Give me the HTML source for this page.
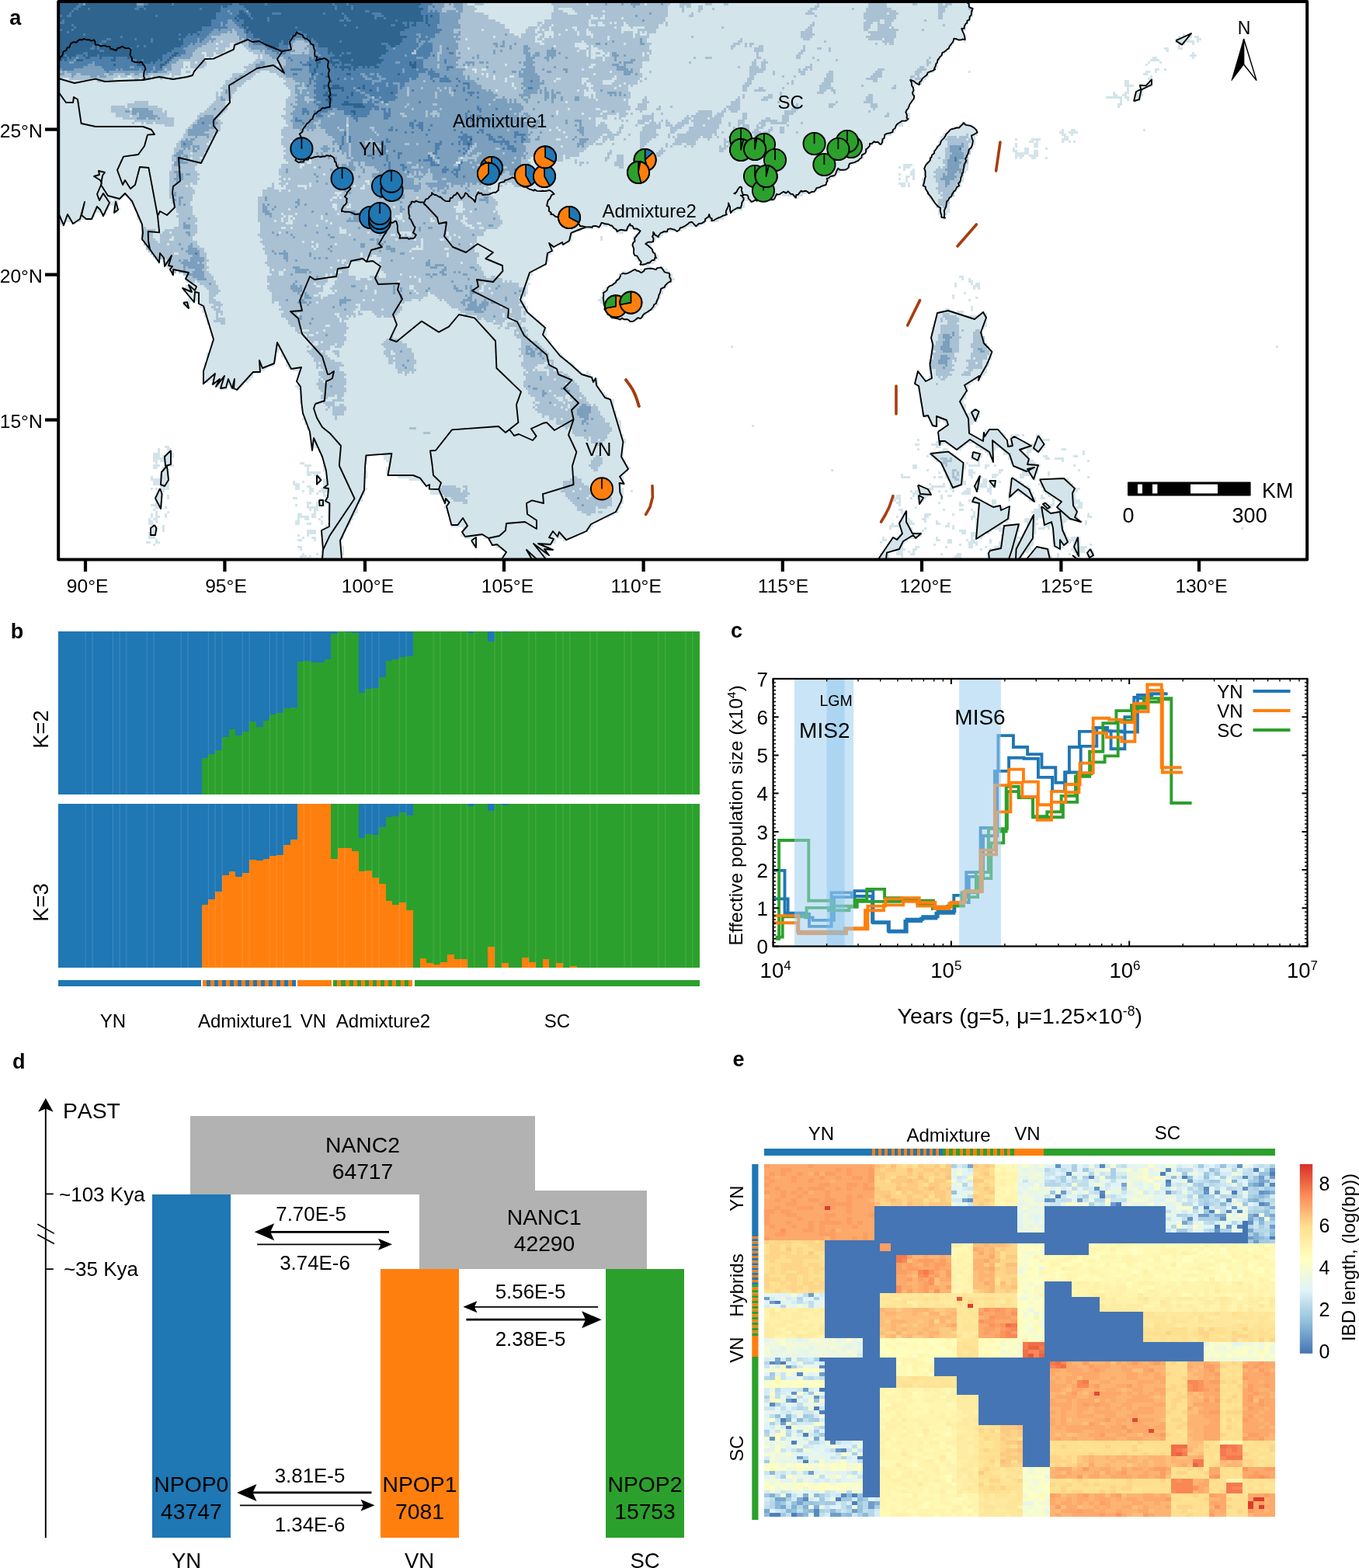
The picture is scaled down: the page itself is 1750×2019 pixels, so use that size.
<!DOCTYPE html>
<html lang="en"><head><meta charset="utf-8"><title>Figure</title>
<style>html,body{margin:0;padding:0;background:#fff}body{width:1750px;height:2019px;overflow:hidden}svg{display:block}text{font-family:'Liberation Sans', sans-serif;fill:#000}</style>
</head><body>
<svg width="1750" height="2019" viewBox="0 0 1750 2019">
<rect width="1750" height="2019" fill="#fff"/>
<clipPath id="mc"><rect x="75.2" y="2" width="1608" height="718.6"/></clipPath>
<g clip-path="url(#mc)">
<g transform="translate(77.2 5.50) scale(3)" fill="none" stroke-width="1.02" shape-rendering="crispEdges">
<path stroke="#d3e4ea" d="M0 0h391M0 1h391M0 2h392M0 3h392M0 4h392M0 5h392M0 6h391M0 7h391M0 8h390M0 9h389M0 10h389M0 11h389M0 12h388M0 13h388M482 13h1M485 13h1M0 14h389M480 14h1M482 14h4M487 14h2M0 15h389M479 15h6M488 15h2M0 16h384M388 16h1M479 16h8M488 16h1M0 17h383M480 17h3M486 17h1M0 18h383M480 18h1M0 19h382M474 19h2M480 19h2M0 20h381M475 20h1M0 21h380M486 21h1M0 22h379M485 22h3M0 23h378M469 23h2M486 23h1M0 24h378M468 24h4M0 25h377M467 25h1M472 25h1M0 26h377M466 26h1M0 27h377M0 28h376M470 28h2M474 28h1M0 29h375M390 29h1M466 29h2M470 29h1M0 30h373M465 30h2M0 31h373M468 31h1M0 32h372M467 32h2M0 33h371M457 33h2M468 33h1M0 34h370M457 34h2M467 34h2M0 35h367M457 35h4M463 35h6M0 36h366M458 36h1M464 36h2M0 37h367M458 37h1M463 37h2M0 38h367M452 38h1M457 38h2M462 38h3M0 39h367M452 39h2M456 39h2M461 39h4M0 40h367M449 40h7M457 40h2M461 40h3M0 41h366M455 41h1M458 41h1M461 41h3M0 42h366M455 42h1M0 43h365M454 43h2M0 44h365M454 44h1M0 45h364M0 46h364M0 47h365M0 48h365M0 49h365M0 50h364M0 51h362M387 51h2M0 52h362M386 52h4M0 53h359M383 53h10M0 54h359M382 54h12M430 54h1M434 54h2M465 54h1M0 55h358M381 55h13M429 55h2M433 55h4M0 56h357M379 56h15M430 56h2M434 56h1M0 57h354M378 57h15M431 57h2M0 58h354M378 58h15M410 58h1M417 58h4M430 58h3M0 59h354M377 59h16M416 59h2M419 59h1M430 59h1M433 59h1M435 59h1M0 60h349M351 60h2M377 60h16M410 60h1M418 60h2M0 61h348M376 61h16M410 61h1M418 61h2M0 62h347M376 62h16M409 62h1M414 62h2M423 62h1M0 63h347M375 63h16M409 63h2M414 63h2M418 63h2M0 64h346M375 64h16M410 64h6M418 64h2M0 65h345M374 65h16M410 65h4M416 65h4M0 66h345M373 66h17M410 66h1M412 66h1M417 66h2M423 66h1M0 67h343M373 67h17M0 68h342M372 68h18M0 69h340M362 69h4M372 69h18M0 70h339M360 70h1M362 70h3M371 70h19M0 71h338M362 71h1M366 71h1M371 71h19M0 72h335M365 72h2M371 72h18M0 73h333M360 73h1M365 73h2M371 73h17M0 74h333M363 74h2M366 74h1M371 74h17M0 75h331M360 75h1M363 75h1M366 75h1M370 75h18M0 76h330M363 76h1M370 76h18M0 77h329M360 77h3M364 77h1M370 77h17M0 78h329M361 78h2M364 78h1M371 78h16M0 79h327M371 79h15M0 80h325M372 80h13M0 81h323M372 81h12M0 82h308M310 82h9M373 82h11M0 83h27M29 83h278M315 83h2M373 83h10M0 84h22M23 84h3M30 84h277M374 84h8M0 85h25M30 85h264M296 85h2M375 85h7M0 86h25M31 86h263M376 86h6M0 87h21M23 87h2M32 87h262M376 87h6M0 88h21M23 88h3M32 88h261M377 88h5M0 89h20M23 89h2M33 89h257M377 89h5M0 90h15M18 90h2M33 90h254M377 90h4M0 91h15M18 91h1M33 91h253M378 91h2M0 92h14M33 92h252M379 92h1M0 93h9M34 93h244M279 93h4M0 94h2M5 94h2M35 94h242M1 95h1M35 95h197M233 95h2M236 95h39M35 96h194M237 96h32M35 97h189M238 97h6M247 97h20M35 98h186M239 98h3M248 98h13M35 99h185M247 99h12M35 100h185M232 100h1M246 100h12M35 101h185M232 101h1M246 101h10M36 102h183M246 102h9M36 103h181M246 103h8M37 104h176M246 104h8M37 105h175M246 105h8M38 106h174M247 106h8M39 107h172M247 107h9M40 108h170M247 108h10M41 109h169M247 109h10M42 110h1M44 110h166M248 110h8M42 111h1M45 111h164M249 111h6M45 112h164M250 112h3M46 113h161M252 113h2M258 113h1M47 114h158M249 114h1M251 114h10M48 115h2M51 115h152M241 115h2M244 115h18M48 116h1M53 116h150M240 116h23M54 117h148M240 117h23M386 117h2M54 118h148M239 118h25M387 118h1M390 118h1M54 119h147M238 119h25M390 119h2M55 120h147M237 120h24M384 120h1M391 120h1M393 120h2M54 121h147M236 121h25M384 121h1M392 121h3M53 122h148M234 122h26M392 122h1M394 122h1M53 123h148M233 123h26M54 124h147M233 124h26M388 124h1M55 125h145M233 125h25M383 125h1M55 126h144M232 126h26M383 126h1M393 126h1M55 127h144M231 127h26M390 127h1M53 128h3M57 128h1M59 128h141M232 128h25M53 129h3M60 129h140M233 129h24M54 130h2M60 130h141M234 130h22M391 130h1M61 131h140M234 131h21M380 131h2M391 131h1M61 132h140M234 132h19M378 132h6M385 132h3M396 132h1M62 133h140M235 133h17M377 133h11M395 133h3M62 134h141M236 134h15M376 134h22M63 135h141M239 135h10M376 135h22M63 136h143M244 136h3M376 136h22M63 137h144M376 137h22M64 138h144M375 138h23M64 139h145M374 139h23M65 140h144M375 140h21M65 141h144M374 141h22M65 142h144M374 142h22M66 143h143M374 143h23M66 144h144M374 144h23M65 145h146M374 145h23M65 146h146M374 146h24M65 147h147M288 147h1M374 147h25M522 147h1M65 148h148M374 148h25M64 149h30M95 149h119M374 149h26M63 150h30M95 150h120M374 150h26M63 151h30M95 151h121M374 151h26M63 152h30M96 152h121M374 152h26M63 153h30M97 153h121M373 153h26M62 154h30M97 154h123M373 154h26M62 155h30M97 155h124M373 155h26M62 156h27M98 156h123M373 156h25M62 157h26M100 157h123M373 157h25M62 158h24M102 158h122M226 158h1M368 158h1M373 158h25M62 159h21M102 159h126M368 159h2M374 159h23M62 160h21M102 160h127M368 160h3M373 160h23M62 161h20M102 161h129M367 161h5M373 161h22M62 162h2M66 162h15M102 162h129M367 162h25M61 163h1M65 163h14M102 163h129M367 163h24M67 164h5M73 164h5M101 164h130M368 164h22M69 165h3M74 165h3M102 165h130M369 165h21M103 166h130M369 166h21M103 167h131M369 167h20M103 168h132M369 168h20M103 169h133M369 169h20M103 170h135M369 170h19M103 171h135M369 171h19M104 172h134M370 172h19M104 173h134M370 173h19M104 174h134M370 174h19M392 174h2M104 175h135M370 175h19M391 175h4M104 176h135M370 176h25M105 177h134M371 177h24M104 178h136M373 178h21M105 179h136M374 179h4M379 179h15M105 180h136M374 180h3M380 180h12M106 181h135M297 181h1M375 181h2M380 181h11M106 182h135M379 182h12M107 183h134M377 183h14M397 183h7M107 184h134M377 184h14M396 184h9M107 185h135M377 185h15M396 185h10M408 185h1M410 185h2M413 185h1M419 185h2M108 186h134M377 186h17M396 186h10M408 186h3M419 186h2M108 187h135M368 187h1M377 187h30M408 187h5M419 187h6M108 188h135M376 188h31M408 188h7M418 188h4M108 189h134M367 189h2M374 189h5M381 189h8M393 189h23M417 189h6M45 190h2M108 190h134M376 190h2M383 190h5M393 190h30M42 191h1M46 191h2M108 191h1M111 191h131M368 191h1M379 191h2M384 191h3M395 191h7M404 191h10M415 191h7M430 191h2M42 192h1M47 192h1M111 192h131M377 192h5M397 192h4M405 192h8M415 192h2M419 192h2M439 192h1M40 193h3M46 193h3M112 193h130M373 193h11M392 193h4M398 193h3M405 193h9M415 193h1M439 193h1M40 194h3M44 194h5M112 194h21M139 194h103M372 194h1M374 194h11M391 194h5M399 194h2M407 194h9M422 194h2M435 194h2M40 195h8M113 195h19M139 195h103M375 195h11M391 195h4M400 195h1M407 195h9M423 195h2M427 195h4M40 196h2M43 196h5M113 196h19M140 196h103M376 196h11M394 196h1M400 196h1M408 196h10M430 196h1M441 196h1M41 197h1M45 197h3M103 197h2M113 197h19M141 197h102M378 197h10M389 197h1M394 197h1M408 197h11M40 198h3M45 198h4M105 198h3M113 198h18M141 198h103M366 198h2M378 198h11M390 198h5M397 198h2M401 198h1M409 198h12M435 198h1M40 199h2M44 199h2M106 199h1M113 199h18M140 199h105M366 199h2M379 199h10M397 199h1M411 199h9M44 200h3M106 200h1M113 200h18M140 200h104M331 200h1M372 200h1M379 200h9M390 200h2M403 200h2M413 200h7M437 200h1M44 201h3M106 201h6M114 201h18M140 201h103M377 201h1M380 201h8M390 201h3M403 201h1M413 201h7M424 201h1M43 202h4M106 202h2M109 202h2M114 202h18M141 202h101M361 202h1M380 202h8M390 202h2M400 202h3M412 202h7M424 202h1M39 203h1M43 203h4M110 203h2M114 203h18M145 203h97M361 203h4M375 203h1M377 203h2M380 203h8M391 203h1M394 203h2M400 203h2M412 203h2M417 203h2M441 203h1M39 204h8M110 204h2M113 204h18M150 204h92M381 204h7M394 204h1M396 204h2M408 204h3M418 204h1M420 204h13M40 205h7M100 205h1M104 205h1M110 205h2M113 205h18M155 205h87M382 205h7M393 205h2M396 205h2M399 205h3M403 205h1M408 205h5M421 205h13M40 206h7M100 206h3M110 206h1M113 206h18M156 206h85M373 206h1M379 206h1M382 206h7M393 206h5M399 206h3M408 206h6M420 206h15M43 207h4M101 207h2M106 207h2M113 207h18M157 207h84M368 207h2M374 207h6M382 207h4M392 207h6M399 207h3M408 207h8M421 207h14M39 208h1M41 208h1M43 208h4M101 208h2M107 208h2M112 208h20M158 208h84M368 208h7M382 208h2M389 208h2M393 208h2M398 208h2M408 208h9M422 208h16M42 209h3M104 209h1M107 209h2M111 209h20M159 209h83M245 209h1M365 209h1M367 209h7M377 209h1M380 209h1M383 209h1M388 209h3M393 209h1M398 209h2M408 209h9M422 209h15M42 210h2M107 210h1M110 210h1M113 210h1M115 210h16M159 210h83M366 210h8M387 210h4M399 210h1M407 210h3M412 210h6M423 210h13M41 211h3M46 211h1M113 211h17M164 211h78M359 211h2M366 211h1M368 211h5M378 211h1M381 211h2M407 211h2M414 211h4M421 211h1M424 211h12M41 212h3M46 212h1M100 212h2M114 212h16M164 212h78M358 212h3M365 212h1M368 212h4M378 212h1M392 212h2M407 212h1M416 212h3M421 212h2M426 212h10M41 213h3M111 213h19M165 213h77M357 213h2M360 213h1M369 213h2M390 213h1M392 213h4M400 213h2M407 213h1M416 213h3M426 213h1M428 213h10M41 214h3M106 214h2M110 214h19M165 214h77M359 214h2M369 214h1M377 214h1M386 214h1M393 214h5M400 214h2M422 214h2M426 214h1M429 214h10M39 215h5M101 215h1M106 215h1M110 215h4M115 215h13M165 215h76M360 215h1M386 215h2M394 215h5M400 215h1M420 215h1M422 215h5M428 215h8M437 215h2M41 216h3M45 216h1M106 216h5M115 216h13M165 216h76M367 216h1M394 216h11M407 216h1M420 216h6M428 216h11M40 217h1M107 217h1M109 217h2M115 217h13M166 217h74M360 217h2M379 217h1M386 217h2M391 217h1M394 217h14M418 217h7M428 217h9M41 218h1M46 218h1M109 218h1M115 218h13M166 218h74M361 218h1M363 218h1M392 218h1M394 218h14M417 218h8M428 218h9M39 219h1M41 219h1M45 219h1M102 219h2M108 219h2M115 219h12M167 219h71M362 219h2M371 219h3M383 219h1M392 219h1M394 219h14M418 219h19M441 219h1M39 220h1M41 220h2M45 220h1M102 220h5M108 220h2M112 220h1M115 220h11M167 220h69M359 220h1M362 220h2M371 220h2M391 220h2M394 220h14M417 220h20M441 220h2M38 221h1M40 221h2M102 221h1M105 221h2M111 221h1M115 221h11M167 221h66M361 221h4M370 221h2M391 221h1M393 221h15M414 221h6M422 221h16M38 222h2M41 222h1M101 222h2M112 222h1M116 222h9M168 222h63M360 222h6M371 222h1M376 222h1M393 222h14M414 222h5M422 222h10M437 222h2M440 222h1M38 223h2M101 223h2M106 223h2M112 223h1M115 223h10M168 223h61M357 223h1M360 223h7M376 223h2M381 223h1M393 223h12M415 223h5M422 223h9M440 223h1M40 224h1M44 224h1M114 224h10M168 224h61M356 224h9M380 224h2M383 224h1M393 224h11M405 224h7M415 224h4M422 224h3M426 224h5M39 225h3M44 225h1M113 225h10M173 225h55M356 225h1M361 225h5M371 225h1M383 225h1M393 225h19M415 225h4M420 225h3M424 225h1M426 225h5M507 225h1M39 226h3M44 226h1M106 226h4M112 226h11M173 226h54M361 226h5M370 226h1M386 226h3M393 226h7M403 226h9M414 226h5M426 226h5M38 227h3M106 227h4M112 227h10M173 227h52M361 227h6M369 227h1M387 227h2M391 227h8M405 227h6M414 227h5M426 227h6M38 228h3M102 228h1M106 228h1M112 228h10M172 228h50M360 228h10M391 228h6M404 228h7M413 228h5M426 228h6M38 229h3M104 229h1M108 229h2M113 229h9M174 229h5M182 229h30M213 229h7M353 229h1M357 229h11M376 229h1M391 229h1M393 229h3M404 229h14M426 229h7M434 229h4M41 230h1M102 230h2M109 230h1M113 230h8M177 230h2M184 230h29M216 230h2M353 230h2M357 230h7M376 230h2M381 230h2M389 230h1M391 230h2M399 230h1M404 230h7M412 230h6M426 230h12M37 231h2M41 231h2M113 231h8M177 231h2M185 231h28M352 231h1M356 231h7M381 231h2M390 231h4M399 231h1M403 231h15M426 231h8M435 231h3M40 232h1M113 232h8M177 232h2M185 232h26M355 232h7M375 232h1M386 232h1M390 232h2M393 232h1M403 232h15M427 232h5M435 232h3M442 232h1M102 233h2M113 233h9M178 233h1M187 233h23M355 233h7M367 233h2M380 233h1M390 233h2M397 233h1M401 233h16M419 233h1M427 233h4M435 233h6M103 234h1M113 234h9M190 234h22M354 234h9M366 234h2M395 234h1M399 234h18M418 234h7M429 234h1M434 234h6M442 234h1M112 235h10M191 235h18M353 235h4M359 235h3M364 235h1M366 235h1M399 235h17M417 235h8M435 235h5M441 235h3M104 236h1M110 236h1M113 236h9M191 236h19M352 236h4M359 236h3M365 236h2M378 236h1M385 236h2M398 236h16M417 236h8M428 236h1M433 236h1M436 236h2M441 236h3M103 237h3M107 237h1M112 237h9M190 237h19M352 237h4M361 237h1M384 237h3M398 237h15M416 237h10M428 237h1M435 237h3M441 237h3M103 238h1M106 238h1M112 238h7M178 238h1M191 238h17M353 238h3M383 238h4M399 238h8M410 238h3M417 238h8M436 238h2"/>
<path stroke="#a9c1d2" d="M0 0h175M178 0h4M211 0h15M227 0h24M252 0h10M266 0h5M277 0h3M285 0h2M325 0h1M347 0h8M366 0h2M377 0h2M380 0h3M0 1h178M212 1h49M266 1h2M269 1h2M274 1h2M324 1h2M347 1h8M377 1h4M0 2h179M212 2h2M220 2h41M267 2h1M274 2h2M280 2h1M322 2h3M340 2h1M346 2h11M377 2h3M390 2h2M0 3h178M212 3h4M221 3h12M234 3h27M267 3h1M274 3h1M321 3h2M346 3h13M377 3h3M391 3h1M0 4h182M211 4h7M222 4h39M271 4h1M320 4h4M345 4h10M356 4h4M377 4h2M0 5h184M211 5h17M229 5h4M234 5h27M270 5h2M324 5h1M345 5h14M377 5h2M0 6h184M211 6h17M231 6h1M234 6h7M242 6h18M345 6h14M377 6h2M0 7h187M208 7h19M228 7h32M346 7h6M354 7h4M371 7h1M0 8h189M205 8h2M208 8h19M228 8h3M233 8h3M237 8h1M239 8h3M243 8h16M260 8h1M323 8h1M345 8h4M351 8h1M354 8h3M0 9h191M205 9h1M207 9h4M212 9h15M230 9h1M234 9h8M244 9h13M260 9h1M322 9h2M345 9h3M351 9h6M379 9h1M0 10h191M201 10h4M206 10h4M211 10h9M222 10h16M239 10h2M245 10h1M251 10h6M284 10h1M321 10h2M345 10h3M351 10h5M357 10h1M0 11h181M182 11h11M200 11h4M206 11h1M208 11h2M211 11h6M218 11h3M222 11h4M227 11h14M248 11h8M320 11h3M345 11h2M351 11h9M370 11h1M0 12h193M200 12h4M205 12h3M212 12h10M223 12h3M228 12h13M242 12h4M248 12h1M250 12h1M252 12h4M318 12h5M347 12h12M0 13h195M198 13h7M207 13h1M212 13h2M215 13h7M223 13h3M229 13h17M247 13h2M252 13h1M318 13h6M348 13h11M0 14h186M187 14h10M198 14h6M206 14h2M210 14h1M212 14h16M229 14h6M236 14h10M247 14h6M271 14h1M318 14h5M346 14h13M0 15h174M175 15h29M205 15h2M208 15h27M236 15h16M292 15h1M319 15h3M347 15h6M354 15h4M0 16h69M70 16h134M207 16h17M225 16h27M291 16h2M328 16h1M353 16h5M0 17h67M68 17h5M75 17h1M78 17h128M208 17h13M226 17h16M243 17h11M289 17h3M294 17h1M296 17h2M350 17h1M354 17h1M356 17h2M0 18h73M79 18h133M213 18h8M227 18h1M229 18h24M288 18h2M294 18h1M296 18h1M300 18h2M319 18h1M0 19h67M68 19h3M80 19h95M176 19h47M226 19h2M231 19h22M288 19h1M298 19h4M319 19h1M325 19h2M330 19h1M0 20h71M81 20h141M223 20h3M227 20h1M233 20h21M298 20h4M318 20h2M330 20h1M0 21h61M63 21h3M67 21h3M83 21h143M227 21h1M230 21h2M234 21h1M236 21h14M251 21h1M253 21h1M299 21h1M317 21h2M0 22h62M63 22h3M85 22h1M87 22h139M227 22h1M233 22h1M236 22h14M251 22h2M299 22h1M316 22h2M0 23h62M64 23h1M85 23h1M87 23h141M230 23h3M234 23h19M272 23h1M277 23h3M299 23h2M316 23h2M323 23h1M373 23h1M0 24h62M84 24h149M234 24h19M298 24h1M302 24h1M325 24h1M333 24h1M372 24h1M0 25h53M56 25h2M59 25h4M83 25h167M270 25h1M297 25h2M301 25h3M372 25h2M0 26h53M56 26h7M81 26h12M94 26h97M192 26h36M230 26h20M297 26h2M301 26h2M322 26h1M372 26h1M0 27h53M54 27h1M56 27h6M79 27h95M175 27h52M229 27h21M291 27h1M296 27h4M301 27h2M320 27h3M369 27h2M0 28h52M80 28h97M179 28h2M183 28h41M225 28h24M296 28h7M317 28h1M319 28h2M322 28h1M351 28h3M368 28h4M0 29h52M54 29h2M79 29h7M90 29h88M179 29h57M237 29h12M253 29h1M296 29h6M306 29h1M317 29h3M330 29h2M350 29h3M367 29h3M0 30h47M48 30h4M74 30h10M93 30h88M182 30h1M184 30h45M230 30h20M296 30h3M306 30h1M318 30h2M329 30h3M349 30h4M367 30h2M0 31h25M26 31h3M31 31h8M40 31h5M48 31h1M74 31h9M94 31h89M184 31h2M187 31h6M195 31h43M239 31h11M296 31h2M310 31h1M315 31h1M329 31h3M348 31h5M365 31h2M368 31h1M0 32h1M4 32h19M32 32h2M35 32h4M43 32h1M47 32h1M73 32h9M96 32h90M187 32h4M192 32h21M215 32h9M227 32h10M239 32h10M251 32h1M295 32h3M328 32h4M346 32h5M365 32h1M367 32h3M16 33h2M19 33h1M71 33h9M97 33h94M192 33h20M213 33h11M226 33h7M238 33h10M249 33h1M295 33h2M314 33h1M328 33h4M349 33h2M71 34h8M96 34h98M195 34h29M225 34h1M228 34h5M237 34h5M243 34h5M294 34h3M312 34h1M314 34h1M327 34h4M368 34h2M70 35h8M97 35h97M195 35h31M229 35h11M241 35h3M245 35h1M293 35h3M326 35h5M344 35h1M358 35h1M69 36h7M98 36h97M196 36h31M228 36h10M239 36h5M293 36h2M300 36h2M310 36h1M326 36h6M357 36h2M70 37h6M99 37h88M188 37h34M223 37h2M226 37h1M229 37h15M293 37h2M298 37h5M326 37h3M331 37h2M67 38h1M69 38h6M99 38h126M230 38h15M309 38h1M325 38h3M332 38h1M67 39h1M69 39h5M99 39h126M228 39h1M230 39h15M293 39h1M304 39h2M309 39h1M347 39h2M67 40h7M98 40h129M228 40h1M230 40h15M251 40h1M291 40h1M293 40h1M302 40h4M346 40h3M67 41h6M97 41h133M231 41h11M243 41h1M250 41h2M290 41h2M301 41h3M346 41h3M32 42h6M66 42h5M97 42h120M218 42h26M250 42h3M288 42h4M308 42h1M333 42h1M345 42h4M29 43h9M65 43h6M97 43h147M248 43h4M288 43h4M316 43h1M330 43h3M348 43h3M22 44h6M29 44h13M64 44h8M97 44h148M248 44h4M257 44h1M262 44h1M286 44h6M315 44h2M330 44h2M348 44h3M22 45h8M31 45h13M63 45h9M96 45h122M219 45h11M232 45h13M247 45h5M256 45h2M285 45h1M287 45h5M314 45h3M349 45h1M22 46h22M45 46h1M62 46h9M97 46h116M214 46h19M235 46h8M249 46h1M274 46h6M284 46h2M288 46h3M311 46h5M347 46h1M24 47h22M60 47h10M97 47h116M214 47h10M225 47h7M233 47h6M240 47h4M245 47h1M254 47h1M258 47h1M273 47h7M282 47h3M293 47h2M311 47h4M355 47h1M24 48h6M31 48h15M59 48h10M95 48h140M240 48h3M250 48h5M269 48h1M271 48h9M281 48h4M293 48h2M310 48h3M354 48h2M27 49h22M59 49h9M96 49h131M228 49h2M233 49h2M238 49h1M240 49h1M250 49h5M268 49h3M272 49h6M279 49h5M293 49h2M303 49h2M310 49h3M32 50h17M58 50h11M97 50h133M241 50h1M243 50h1M248 50h5M254 50h1M258 50h1M260 50h1M267 50h3M271 50h13M291 50h3M301 50h7M310 50h3M31 51h1M35 51h1M37 51h3M41 51h8M57 51h13M97 51h133M232 51h2M248 51h3M253 51h3M257 51h1M260 51h2M265 51h5M272 51h12M287 51h1M291 51h3M300 51h3M305 51h7M318 51h1M45 52h4M56 52h13M98 52h25M124 52h106M231 52h4M241 52h1M247 52h1M251 52h7M260 52h3M264 52h4M272 52h4M277 52h6M287 52h1M291 52h1M293 52h3M299 52h1M301 52h2M312 52h1M55 53h14M96 53h117M214 53h21M240 53h2M250 53h8M262 53h5M270 53h13M289 53h1M292 53h4M299 53h3M305 53h1M309 53h2M54 54h15M95 54h115M211 54h3M215 54h21M240 54h1M250 54h6M262 54h3M270 54h12M289 54h1M291 54h5M298 54h2M304 54h2M309 54h2M54 55h14M95 55h121M217 55h20M239 55h2M249 55h7M262 55h2M269 55h13M284 55h1M289 55h1M291 55h5M297 55h4M302 55h3M309 55h2M316 55h1M53 56h13M95 56h138M235 56h5M244 56h1M249 56h8M261 56h1M265 56h15M281 56h1M288 56h7M298 56h3M389 56h1M53 57h13M96 57h121M218 57h14M233 57h5M249 57h7M261 57h1M263 57h1M265 57h10M276 57h4M282 57h1M287 57h1M290 57h4M298 57h1M381 57h4M386 57h4M52 58h13M95 58h118M215 58h16M233 58h2M236 58h2M242 58h1M249 58h5M264 58h10M278 58h1M285 58h1M288 58h5M380 58h9M390 58h1M51 59h13M95 59h4M100 59h130M233 59h1M249 59h4M264 59h9M285 59h7M381 59h10M50 60h13M95 60h6M102 60h127M230 60h3M237 60h1M249 60h3M260 60h1M263 60h4M269 60h4M285 60h1M287 60h3M381 60h9M50 61h14M96 61h119M216 61h11M249 61h2M260 61h1M262 61h1M268 61h1M271 61h1M283 61h1M285 61h2M381 61h9M49 62h15M97 62h129M249 62h1M258 62h1M283 62h3M380 62h10M49 63h14M96 63h129M236 63h1M248 63h1M257 63h3M283 63h2M380 63h11M49 64h7M57 64h5M97 64h126M235 64h2M256 64h3M380 64h11M48 65h14M96 65h120M217 65h6M235 65h1M239 65h3M256 65h2M380 65h10M48 66h8M57 66h3M96 66h76M173 66h29M205 66h11M217 66h2M234 66h2M239 66h3M377 66h1M380 66h10M48 67h13M97 67h10M108 67h93M209 67h7M221 67h1M234 67h1M239 67h3M379 67h11M49 68h11M98 68h8M108 68h62M172 68h30M221 68h1M223 68h2M226 68h1M238 68h4M379 68h11M48 69h11M95 69h8M105 69h97M223 69h1M238 69h4M247 69h3M380 69h9M48 70h10M95 70h8M104 70h5M110 70h92M240 70h2M247 70h2M377 70h1M379 70h9M48 71h10M94 71h26M121 71h80M376 71h12M47 72h12M94 72h107M375 72h13M47 73h13M94 73h19M114 73h86M376 73h12M47 74h12M95 74h105M375 74h12M47 75h13M94 75h2M97 75h1M99 75h89M189 75h12M376 75h10M47 76h12M95 76h36M133 76h54M190 76h10M376 76h10M47 77h9M57 77h2M91 77h1M94 77h3M98 77h9M108 77h24M133 77h51M191 77h1M194 77h6M377 77h8M47 78h7M55 78h1M91 78h1M95 78h1M97 78h5M106 78h1M108 78h18M127 78h3M131 78h53M189 78h1M195 78h4M377 78h8M47 79h10M89 79h3M97 79h8M106 79h23M131 79h51M183 79h2M376 79h8M47 80h11M87 80h7M95 80h3M99 80h80M180 80h4M377 80h7M47 81h11M87 81h31M121 81h64M377 81h1M379 81h5M47 82h10M87 82h32M120 82h65M378 82h6M47 83h10M85 83h32M119 83h1M121 83h32M154 83h23M179 83h7M379 83h3M48 84h9M85 84h31M117 84h70M377 84h4M48 85h8M85 85h86M173 85h15M377 85h5M49 86h7M85 86h32M119 86h5M125 86h46M173 86h15M377 86h4M49 87h8M85 87h32M119 87h4M125 87h18M144 87h25M173 87h14M379 87h2M50 88h7M85 88h13M99 88h19M119 88h51M174 88h13M50 89h7M85 89h35M121 89h49M173 89h3M177 89h9M187 89h1M51 90h6M85 90h10M96 90h5M102 90h17M120 90h26M147 90h41M50 91h8M85 91h11M97 91h1M100 91h12M113 91h27M141 91h3M147 91h23M171 91h2M174 91h15M51 92h8M85 92h10M96 92h2M99 92h1M101 92h11M113 92h30M144 92h1M147 92h12M160 92h10M171 92h2M175 92h14M51 93h8M85 93h7M93 93h2M96 93h2M100 93h14M115 93h32M148 93h11M161 93h1M163 93h9M174 93h16M51 94h7M86 94h11M100 94h16M117 94h45M163 94h10M175 94h4M181 94h9M51 95h8M86 95h24M111 95h63M177 95h12M36 96h1M49 96h10M86 96h9M97 96h2M100 96h20M121 96h55M178 96h2M182 96h6M35 97h6M45 97h14M86 97h34M123 97h60M35 98h5M44 98h3M48 98h11M86 98h8M95 98h25M123 98h9M133 98h13M151 98h15M167 98h15M35 99h5M43 99h15M85 99h39M125 99h17M144 99h3M148 99h1M151 99h15M167 99h2M170 99h12M35 100h5M43 100h5M49 100h8M86 100h81M168 100h3M172 100h7M35 101h6M43 101h4M49 101h8M87 101h57M145 101h7M153 101h2M156 101h7M165 101h2M168 101h11M36 102h6M43 102h16M86 102h18M105 102h3M109 102h46M156 102h23M36 103h10M47 103h12M87 103h23M111 103h7M119 103h36M156 103h20M177 103h1M37 104h23M88 104h20M109 104h1M111 104h42M154 104h1M156 104h22M37 105h25M87 105h22M110 105h41M156 105h9M167 105h11M38 106h24M88 106h62M151 106h27M39 107h10M51 107h12M88 107h41M130 107h36M167 107h13M40 108h23M89 108h40M130 108h4M136 108h30M167 108h13M41 109h22M89 109h42M138 109h13M152 109h27M42 110h1M46 110h18M89 110h30M120 110h1M123 110h6M138 110h41M45 111h18M88 111h33M122 111h2M137 111h35M173 111h6M47 112h16M89 112h34M138 112h42M47 113h17M90 113h26M117 113h7M138 113h43M49 114h14M90 114h1M92 114h4M97 114h22M120 114h4M138 114h43M49 115h1M51 115h13M90 115h4M96 115h22M121 115h3M139 115h43M48 116h1M53 116h12M91 116h3M96 116h18M115 116h1M117 116h7M140 116h6M147 116h35M54 117h12M89 117h25M115 117h12M133 117h4M140 117h10M151 117h1M153 117h30M185 117h2M54 118h12M89 118h26M119 118h8M129 118h3M134 118h20M155 118h35M56 119h2M59 119h8M89 119h26M118 119h27M146 119h8M155 119h35M191 119h1M193 119h1M60 120h7M90 120h19M110 120h4M118 120h64M183 120h14M62 121h6M89 121h21M112 121h1M117 121h14M132 121h18M152 121h29M182 121h15M63 122h5M89 122h24M116 122h15M132 122h18M152 122h29M182 122h2M185 122h15M64 123h5M90 123h23M117 123h1M119 123h16M136 123h16M153 123h27M182 123h18M64 124h4M91 124h20M118 124h17M136 124h17M154 124h4M159 124h26M186 124h12M199 124h1M64 125h3M91 125h18M111 125h1M115 125h43M161 125h37M199 125h1M64 126h2M91 126h21M113 126h43M162 126h35M64 127h3M91 127h39M131 127h3M135 127h16M154 127h1M163 127h1M165 127h32M64 128h5M91 128h1M94 128h16M111 128h37M166 128h32M66 129h4M94 129h33M129 129h17M167 129h30M65 130h2M68 130h1M95 130h33M129 130h18M168 130h21M190 130h10M66 131h3M94 131h33M129 131h9M139 131h8M171 131h22M194 131h4M67 132h3M96 132h30M128 132h1M134 132h12M172 132h21M194 132h4M199 132h1M67 133h1M69 133h1M95 133h7M103 133h15M120 133h7M128 133h2M135 133h10M174 133h16M191 133h7M199 133h1M379 133h3M67 134h1M95 134h24M120 134h3M124 134h1M126 134h1M136 134h2M139 134h5M179 134h11M191 134h7M379 134h6M67 135h4M97 135h23M121 135h3M179 135h2M182 135h10M195 135h5M378 135h1M380 135h6M66 136h5M98 136h22M121 136h1M183 136h3M187 136h4M195 136h2M198 136h2M378 136h1M381 136h5M69 137h2M98 137h25M186 137h4M192 137h6M381 137h4M99 138h15M116 138h7M189 138h1M192 138h6M378 138h8M101 139h23M188 139h1M191 139h2M196 139h4M378 139h8M101 140h2M107 140h6M114 140h9M195 140h3M199 140h2M378 140h8M387 140h1M393 140h2M102 141h8M111 141h12M195 141h1M197 141h3M378 141h8M392 141h4M106 142h1M109 142h13M195 142h6M377 142h9M392 142h4M106 143h17M142 143h1M196 143h5M377 143h10M392 143h5M107 144h16M140 144h5M198 144h4M377 144h9M392 144h5M108 145h1M111 145h1M113 145h9M139 145h8M198 145h7M376 145h10M392 145h5M111 146h7M119 146h3M138 146h11M198 146h8M376 146h10M391 146h7M106 147h1M109 147h7M118 147h3M139 147h10M198 147h9M375 147h11M391 147h7M108 148h8M140 148h11M197 148h11M375 148h11M392 148h6M106 149h6M113 149h1M117 149h3M139 149h3M143 149h8M198 149h11M376 149h10M392 149h7M107 150h7M118 150h2M139 150h3M144 150h8M198 150h12M374 150h10M391 150h8M108 151h7M119 151h1M140 151h12M197 151h1M199 151h11M375 151h9M391 151h7M109 152h7M141 152h2M144 152h8M199 152h11M375 152h10M391 152h1M393 152h5M109 153h9M141 153h12M199 153h13M374 153h9M384 153h1M389 153h7M110 154h1M112 154h9M141 154h2M144 154h9M198 154h10M211 154h1M373 154h10M390 154h3M394 154h2M110 155h12M144 155h8M198 155h7M209 155h3M374 155h10M390 155h6M110 156h1M112 156h8M144 156h8M199 156h5M208 156h5M374 156h9M389 156h7M113 157h7M145 157h8M200 157h3M204 157h1M210 157h2M376 157h8M390 157h2M111 158h11M145 158h2M148 158h2M151 158h1M199 158h1M201 158h8M210 158h6M376 158h6M388 158h3M111 159h12M148 159h1M199 159h10M210 159h5M216 159h2M376 159h7M387 159h4M112 160h10M200 160h19M377 160h1M379 160h2M111 161h1M113 161h10M200 161h12M213 161h7M378 161h2M111 162h2M115 162h8M199 162h20M220 162h1M110 163h13M199 163h18M218 163h4M376 163h1M111 164h11M199 164h24M111 165h12M200 165h23M112 166h11M201 166h9M211 166h12M113 167h9M201 167h23M112 168h6M119 168h3M202 168h10M213 168h4M219 168h6M112 169h3M119 169h2M204 169h9M216 169h1M219 169h1M221 169h2M224 169h2M113 170h1M117 170h5M204 170h10M216 170h2M220 170h6M113 171h5M203 171h1M206 171h10M217 171h10M114 172h4M120 172h2M204 172h8M213 172h5M219 172h9M229 172h1M115 173h1M117 173h6M203 173h1M205 173h10M216 173h2M219 173h12M114 174h1M117 174h6M204 174h13M218 174h13M117 175h5M205 175h27M117 176h5M207 176h25M118 177h1M207 177h1M210 177h23M118 178h1M210 178h2M213 178h2M216 178h18M213 179h21M213 180h23M216 181h20M150 182h3M217 182h1M219 182h18M220 183h17M156 184h3M220 184h16M221 185h14M225 186h2M228 186h7M226 187h1M228 187h3M232 187h2M228 188h5M230 189h3M230 194h2M229 195h4M378 195h3M382 195h1M228 196h5M379 196h4M228 197h5M379 197h2M227 198h5M380 198h1M228 199h3M229 200h2M383 200h2M383 201h1M385 201h1M383 202h1M385 202h1M220 203h2M383 203h2M219 204h5M384 204h2M216 205h8M216 206h9M164 207h6M173 207h2M216 207h11M163 208h9M174 208h1M216 208h7M224 208h4M163 209h9M173 209h2M215 209h5M221 209h11M164 210h12M217 210h17M165 211h10M217 211h10M228 211h8M168 212h6M218 212h8M227 212h10M169 213h6M219 213h18M173 214h2M220 214h17M221 215h16M222 216h8M231 216h4M222 217h8M224 218h6M231 218h2M226 219h2"/>
<path stroke="#7b9fbd" d="M0 0h165M167 0h1M169 0h4M234 0h1M241 0h1M245 0h4M258 0h1M0 1h165M169 1h4M246 1h1M0 2h164M170 2h3M0 3h164M166 3h4M171 3h2M0 4h172M253 4h1M0 5h172M247 5h1M0 6h172M0 7h171M250 7h1M0 8h171M0 9h172M0 10h172M0 11h74M75 11h94M0 12h72M73 12h1M76 12h93M171 12h1M0 13h69M76 13h96M191 13h1M0 14h65M77 14h92M170 14h1M0 15h67M77 15h1M79 15h93M249 15h1M0 16h64M65 16h1M81 16h20M105 16h65M190 16h1M237 16h1M249 16h1M0 17h63M81 17h19M107 17h64M186 17h2M190 17h1M195 17h1M230 17h2M234 17h1M249 17h2M0 18h61M81 18h19M106 18h57M164 18h7M187 18h1M189 18h2M193 18h1M199 18h2M0 19h59M82 19h17M105 19h1M107 19h56M164 19h7M193 19h1M199 19h3M211 19h1M0 20h58M86 20h1M88 20h13M107 20h45M153 20h10M164 20h6M186 20h1M189 20h1M199 20h2M209 20h4M0 21h57M88 21h11M104 21h1M107 21h44M153 21h9M164 21h6M171 21h1M186 21h1M199 21h3M204 21h2M209 21h4M214 21h1M237 21h2M0 22h57M90 22h72M163 22h7M179 22h1M200 22h2M203 22h3M209 22h4M237 22h3M242 22h1M0 23h56M91 23h3M96 23h66M163 23h9M177 23h1M179 23h1M200 23h4M208 23h2M211 23h1M217 23h1M238 23h1M0 24h51M97 24h65M163 24h8M200 24h3M209 24h1M238 24h1M245 24h2M0 25h50M86 25h2M97 25h73M174 25h4M180 25h2M183 25h1M197 25h1M199 25h5M240 25h1M242 25h4M0 26h48M84 26h4M97 26h65M163 26h8M173 26h1M175 26h1M177 26h1M199 26h4M237 26h3M242 26h1M0 27h48M84 27h2M96 27h66M163 27h7M183 27h1M200 27h4M212 27h1M239 27h4M0 28h45M46 28h2M96 28h78M198 28h6M207 28h1M216 28h2M239 28h5M245 28h1M1 29h1M3 29h43M95 29h78M186 29h1M194 29h2M197 29h1M199 29h5M209 29h2M217 29h1M242 29h4M0 30h2M5 30h2M9 30h10M21 30h2M28 30h2M32 30h2M36 30h2M96 30h77M197 30h8M242 30h3M247 30h1M5 31h1M13 31h3M17 31h3M77 31h2M97 31h77M175 31h1M197 31h9M75 32h2M100 32h74M175 32h1M179 32h1M199 32h7M101 33h55M157 33h21M199 33h7M207 33h1M74 34h1M103 34h1M105 34h74M198 34h10M101 35h3M105 35h76M199 35h7M101 36h1M106 36h43M150 36h5M156 36h6M163 36h2M166 36h1M168 36h13M198 36h1M200 36h6M208 36h1M71 37h1M101 37h2M104 37h45M150 37h13M164 37h3M168 37h15M184 37h1M199 37h6M206 37h1M208 37h1M211 37h1M232 37h1M71 38h1M101 38h2M104 38h2M107 38h42M150 38h11M162 38h5M169 38h17M199 38h6M206 38h1M208 38h2M211 38h1M213 38h2M235 38h4M240 38h1M102 39h47M150 39h11M162 39h6M169 39h19M197 39h5M208 39h2M211 39h2M236 39h1M238 39h1M240 39h1M242 39h1M69 40h1M101 40h4M107 40h27M135 40h26M162 40h25M190 40h1M198 40h1M201 40h1M208 40h2M211 40h2M215 40h1M221 40h2M69 41h2M102 41h3M109 41h77M187 41h5M193 41h1M195 41h1M199 41h2M208 41h1M211 41h1M215 41h1M221 41h2M101 42h5M107 42h31M139 42h53M193 42h1M195 42h1M200 42h1M205 42h1M211 42h1M99 43h1M102 43h38M141 43h8M150 43h10M162 43h22M185 43h13M100 44h48M149 44h50M31 45h7M66 45h1M101 45h50M152 45h11M164 45h29M194 45h5M203 45h1M28 46h2M31 46h9M100 46h57M158 46h2M162 46h36M237 46h1M31 47h2M34 47h6M99 47h17M118 47h28M148 47h9M158 47h1M163 47h32M196 47h1M199 47h2M34 48h8M62 48h4M100 48h15M116 48h31M149 48h8M158 48h2M161 48h1M163 48h34M198 48h1M200 48h2M211 48h1M33 49h4M38 49h3M42 49h1M60 49h7M100 49h23M124 49h75M200 49h1M59 50h8M99 50h12M112 50h11M124 50h75M204 50h2M207 50h1M217 50h1M221 50h3M59 51h9M100 51h9M112 51h11M124 51h77M204 51h2M217 51h1M223 51h1M57 52h7M65 52h2M100 52h10M111 52h12M124 52h48M173 52h18M192 52h3M196 52h5M203 52h2M221 52h1M223 52h1M57 53h10M100 53h4M105 53h5M112 53h7M120 53h3M124 53h9M135 53h66M202 53h3M223 53h2M55 54h9M103 54h2M106 54h1M108 54h1M114 54h6M122 54h1M124 54h10M135 54h57M193 54h8M222 54h3M55 55h7M114 55h9M124 55h11M136 55h65M202 55h1M206 55h1M223 55h2M55 56h9M115 56h8M124 56h12M137 56h65M224 56h1M58 57h1M63 57h1M117 57h6M124 57h77M205 57h1M221 57h1M54 58h1M56 58h2M118 58h5M124 58h9M134 58h68M204 58h2M220 58h1M223 58h4M52 59h5M117 59h6M124 59h7M135 59h67M223 59h3M52 60h5M117 60h1M119 60h5M125 60h6M133 60h1M137 60h11M150 60h3M154 60h24M179 60h20M222 60h3M387 60h1M52 61h4M57 61h3M113 61h2M120 61h4M125 61h9M138 61h39M179 61h21M222 61h1M224 61h1M382 61h6M53 62h1M55 62h1M57 62h1M59 62h1M106 62h1M112 62h4M117 62h1M120 62h4M125 62h10M136 62h2M139 62h37M178 62h9M189 62h11M382 62h5M51 63h2M57 63h2M101 63h1M113 63h2M117 63h1M119 63h1M121 63h3M125 63h15M141 63h34M177 63h23M382 63h5M50 64h3M100 64h2M110 64h1M112 64h1M121 64h1M123 64h1M125 64h33M160 64h15M176 64h3M181 64h9M191 64h8M200 64h1M383 64h5M49 65h3M53 65h2M112 65h1M123 65h1M125 65h34M161 65h13M175 65h2M180 65h20M382 65h6M50 66h3M54 66h1M115 66h1M118 66h1M123 66h2M126 66h34M161 66h10M179 66h5M187 66h8M196 66h2M199 66h1M382 66h6M50 67h3M118 67h1M125 67h36M163 67h8M172 67h1M175 67h3M179 67h7M187 67h11M381 67h5M49 68h6M124 68h2M128 68h1M131 68h18M151 68h11M163 68h7M172 68h4M177 68h5M184 68h4M189 68h5M195 68h3M381 68h6M49 69h2M119 69h1M121 69h2M124 69h2M128 69h1M131 69h22M154 69h15M171 69h8M188 69h11M381 69h5M51 70h1M111 70h1M121 70h6M129 70h1M135 70h16M154 70h1M156 70h21M178 70h4M188 70h2M192 70h8M381 70h5M97 71h1M116 71h1M124 71h3M130 71h1M136 71h22M159 71h22M183 71h1M186 71h2M190 71h9M380 71h7M49 72h3M97 72h1M124 72h1M130 72h1M137 72h2M141 72h7M149 72h3M153 72h1M155 72h3M159 72h28M190 72h1M193 72h6M381 72h4M386 72h1M50 73h3M54 73h2M109 73h1M122 73h1M134 73h5M140 73h10M151 73h1M153 73h1M156 73h1M160 73h25M186 73h1M189 73h1M193 73h5M379 73h1M381 73h3M50 74h3M110 74h1M117 74h1M128 74h1M134 74h2M137 74h12M152 74h4M160 74h28M379 74h6M49 75h2M52 75h1M138 75h14M154 75h1M160 75h4M166 75h16M378 75h6M50 76h1M110 76h1M139 76h13M162 76h19M380 76h2M114 77h1M141 77h11M154 77h1M157 77h9M168 77h6M175 77h1M177 77h2M180 77h1M380 77h2M140 78h15M158 78h9M168 78h1M172 78h1M175 78h1M380 78h1M122 79h2M138 79h1M143 79h2M146 79h9M159 79h1M162 79h3M166 79h1M174 79h1M122 80h1M143 80h1M145 80h1M152 80h2M160 80h1M162 80h1M165 80h1M175 80h1M49 81h1M124 81h1M146 81h1M164 81h2M49 82h1M143 82h2M146 82h2M51 83h2M88 83h1M137 83h1M140 83h1M143 83h1M146 83h2M182 83h2M49 84h1M51 84h1M88 84h1M102 84h1M140 84h1M145 84h1M180 84h4M51 85h1M101 85h2M146 85h1M150 85h1M183 85h1M51 86h1M53 86h1M87 86h1M89 86h1M102 86h1M105 86h1M156 86h1M87 87h2M92 87h1M101 87h1M146 87h1M150 87h1M87 88h2M91 88h1M146 88h2M178 88h1M87 89h3M108 89h1M125 89h2M146 89h1M88 90h3M114 90h1M125 90h6M132 90h1M135 90h1M90 91h1M126 91h3M130 91h4M55 92h1M124 92h1M126 92h3M130 92h6M137 92h1M186 92h1M123 93h13M137 93h1M53 94h1M133 94h7M156 94h1M53 95h3M105 95h1M137 95h3M184 95h2M53 96h3M114 96h1M128 96h1M137 96h2M154 96h1M158 96h2M154 97h1M54 98h2M91 98h1M97 98h1M110 98h1M55 99h1M93 99h1M99 99h1M115 99h1M137 99h1M177 99h1M100 100h1M116 100h2M126 101h1M133 101h2M136 101h1M136 102h1M139 102h1M51 103h1M56 103h1M129 103h2M136 103h1M138 103h1M171 103h1M55 104h2M116 104h1M129 104h2M140 104h2M38 105h1M52 105h1M55 105h4M115 105h1M140 105h4M54 106h6M91 106h1M96 106h1M116 106h1M137 106h1M142 106h2M55 107h5M92 107h1M94 107h4M107 107h1M146 107h2M57 108h3M96 108h2M107 108h1M41 109h1M56 109h6M96 109h2M109 109h1M111 109h1M114 109h1M51 110h1M53 110h2M56 110h6M97 110h1M101 110h1M142 110h1M158 110h1M52 111h7M60 111h1M157 111h2M53 112h9M157 112h2M161 112h4M53 113h1M55 113h7M100 113h3M159 113h3M165 113h1M176 113h2M53 114h1M58 114h3M101 114h6M164 114h2M178 114h1M53 115h1M57 115h5M101 115h5M107 115h1M163 115h2M169 115h1M171 115h1M55 116h7M99 116h1M157 116h2M160 116h2M164 116h2M173 116h2M57 117h5M110 117h1M159 117h1M59 118h4M175 118h1M101 119h1M168 119h1M64 120h1M100 120h1M99 121h3M103 121h1M125 121h2M143 121h1M169 121h1M174 121h1M176 121h1M188 121h1M99 122h5M143 122h1M146 122h1M158 122h1M169 122h2M174 122h1M176 122h1M187 122h1M100 123h4M129 123h1M143 123h1M146 123h1M157 123h1M170 123h3M176 123h1M197 123h1M102 124h1M105 124h1M143 124h1M150 124h1M176 124h2M195 124h1M103 125h1M105 125h2M146 125h1M174 125h1M176 125h1M105 126h3M122 126h1M146 126h1M175 126h2M191 126h1M97 127h1M103 127h2M120 127h5M173 127h4M178 127h1M182 127h1M191 127h1M102 128h4M107 128h1M120 128h3M172 128h2M176 128h3M181 128h3M185 128h2M106 129h1M120 129h1M173 129h1M175 129h4M180 129h4M117 130h1M175 130h8M122 131h1M174 131h7M182 131h1M178 132h4M103 134h1M186 134h1M102 135h2M108 135h1M107 137h1M383 141h1M114 142h1M379 142h3M383 142h1M379 143h4M380 144h2M379 145h3M379 146h3M200 147h2M378 147h4M200 148h3M204 148h1M378 148h5M394 148h2M146 149h1M200 149h1M202 149h2M206 149h1M379 149h4M395 149h2M200 150h4M205 150h2M202 151h2M206 151h1M378 151h3M207 152h1M378 152h4M149 153h1M377 153h4M377 154h4M147 155h1M380 155h1M148 156h1M379 156h1M206 160h1M206 161h1M116 164h1M201 164h1M203 165h2M215 165h1M217 165h1M207 166h1M218 166h1M207 167h2M207 168h1M210 171h1M224 172h2M223 173h5M222 174h6M222 175h6M222 176h5M223 177h4M225 178h2M228 178h1M224 179h2M224 180h1M226 180h1M225 183h1M222 212h1M224 215h1"/>
<path stroke="#4e7fab" d="M0 0h10M11 0h22M36 0h124M0 1h158M160 1h1M0 2h158M0 3h72M73 3h7M81 3h77M159 3h1M161 3h1M0 4h73M74 4h89M0 5h163M0 6h163M0 7h72M74 7h89M0 8h69M70 8h2M75 8h88M0 9h69M70 9h1M76 9h86M0 10h72M77 10h85M0 11h66M68 11h1M79 11h85M0 12h65M79 12h84M0 13h64M80 13h73M155 13h6M0 14h63M80 14h74M155 14h2M158 14h3M0 15h59M60 15h2M80 15h1M82 15h19M105 15h48M154 15h5M0 16h59M60 16h1M83 16h16M107 16h46M154 16h1M157 16h1M0 17h56M57 17h1M83 17h16M108 17h46M156 17h4M0 18h55M88 18h10M109 18h45M155 18h5M0 19h53M89 19h9M110 19h33M144 19h9M154 19h6M166 19h1M0 20h54M91 20h6M110 20h42M153 20h7M0 21h54M93 21h1M95 21h2M111 21h40M153 21h6M167 21h2M0 22h52M110 22h1M112 22h36M149 22h10M160 22h1M0 23h7M8 23h41M98 23h1M107 23h1M109 23h44M156 23h2M0 24h6M7 24h41M99 24h1M107 24h49M165 24h1M0 25h4M6 25h8M15 25h32M103 25h1M106 25h38M146 25h10M165 25h1M0 26h12M15 26h31M104 26h52M0 27h10M18 27h12M32 27h8M41 27h3M107 27h49M166 27h3M1 28h5M19 28h5M25 28h1M27 28h7M35 28h5M41 28h3M99 28h5M107 28h40M148 28h5M154 28h4M159 28h1M166 28h1M20 29h1M37 29h2M40 29h2M107 29h40M148 29h9M158 29h3M100 30h2M108 30h2M111 30h18M131 30h2M135 30h1M137 30h17M158 30h5M108 31h1M110 31h20M132 31h4M138 31h16M159 31h4M165 31h1M107 32h2M110 32h12M123 32h2M126 32h5M134 32h3M140 32h10M151 32h2M159 32h1M163 32h4M170 32h1M107 33h1M109 33h25M138 33h12M160 33h1M163 33h5M171 33h1M202 33h1M107 34h1M110 34h24M135 34h5M141 34h2M146 34h2M173 34h3M106 35h1M109 35h31M141 35h4M146 35h2M170 35h1M175 35h1M110 36h16M127 36h9M137 36h8M146 36h1M173 36h1M175 36h1M201 36h2M109 37h18M129 37h7M137 37h8M151 37h1M169 37h1M173 37h1M109 38h20M131 38h14M175 38h3M179 38h1M110 39h21M133 39h11M176 39h1M109 40h23M135 40h2M138 40h7M179 40h1M110 41h20M133 41h1M137 41h7M174 41h1M109 42h1M112 42h18M132 42h2M135 42h2M139 42h2M154 42h1M110 43h25M111 44h26M179 44h1M104 45h2M111 45h6M119 45h15M135 45h2M138 45h2M141 45h1M179 45h2M187 45h1M104 46h3M109 46h1M111 46h4M122 46h11M139 46h1M141 46h1M175 46h1M180 46h1M104 47h1M106 47h1M109 47h3M122 47h11M139 47h3M174 47h1M110 48h3M125 48h7M139 48h3M174 48h1M176 48h1M179 48h2M101 49h1M126 49h2M139 49h2M174 49h1M184 49h1M190 49h1M101 50h3M127 50h1M152 50h1M172 50h1M176 50h2M179 50h1M182 50h1M184 50h1M61 51h1M104 51h1M150 51h2M154 51h2M150 52h2M153 52h3M159 52h1M178 52h1M142 53h1M151 53h1M154 53h2M186 53h1M141 54h2M144 54h1M155 54h1M158 54h1M169 54h1M180 54h2M122 55h1M148 55h1M151 55h1M172 55h1M179 55h1M181 55h1M195 55h2M122 56h1M157 56h1M173 56h2M183 56h2M195 56h5M121 57h1M124 57h1M171 57h6M184 57h2M188 57h2M195 57h1M198 57h1M121 58h1M124 58h1M140 58h1M172 58h3M176 58h1M184 58h3M190 58h1M198 58h2M121 59h1M124 59h1M138 59h1M140 59h2M158 59h1M163 59h1M171 59h1M173 59h4M186 59h7M195 59h1M198 59h1M53 60h1M121 60h1M138 60h1M161 60h3M168 60h1M171 60h1M173 60h4M189 60h1M191 60h2M120 61h1M139 61h1M161 61h2M175 61h1M192 61h3M120 62h1M139 62h1M161 62h2M173 62h1M175 62h1M190 62h1M192 62h4M386 62h1M139 63h1M143 63h1M161 63h1M171 63h1M174 63h1M194 63h2M139 64h1M145 64h2M160 64h2M173 64h1M132 65h2M137 65h1M140 65h1M145 65h1M158 65h1M134 66h1M140 66h1M145 66h1M158 66h2M162 66h1M384 66h1M140 67h1M154 67h1M156 67h4M384 67h1M141 68h1M159 68h2M172 68h1M139 69h1M141 69h1M146 69h2M159 69h4M171 69h1M141 70h1M147 70h2M165 70h1M171 70h1M141 71h1M147 71h1M164 71h3M169 71h3M195 71h1M142 72h1M149 72h1M164 72h2M168 72h1M170 72h1M142 73h1M169 73h2M170 74h1M173 74h1M142 75h1M144 77h1M58 107h1"/>
<path stroke="#2e648e" d="M0 0h8M11 0h22M38 0h10M49 0h25M77 0h11M89 0h28M118 0h5M124 0h31M0 1h7M9 1h24M36 1h33M70 1h2M79 1h39M119 1h6M126 1h28M0 2h6M8 2h4M13 2h19M34 2h2M37 2h23M61 2h8M80 2h38M119 2h6M126 2h30M0 3h5M6 3h63M77 3h2M81 3h50M133 3h22M0 4h4M5 4h62M77 4h3M82 4h9M95 4h18M114 4h7M122 4h12M138 4h17M1 5h2M5 5h36M42 5h25M76 5h5M82 5h40M123 5h12M139 5h17M157 5h1M159 5h1M0 6h67M75 6h1M77 6h5M83 6h6M90 6h32M124 6h11M136 6h3M140 6h16M157 6h1M0 7h1M2 7h63M76 7h1M79 7h10M90 7h30M122 7h1M125 7h19M145 7h11M157 7h1M2 8h63M79 8h68M149 8h1M152 8h1M157 8h1M0 9h5M6 9h59M78 9h44M123 9h19M144 9h4M149 9h1M151 9h2M158 9h1M0 10h6M7 10h54M79 10h1M81 10h20M102 10h25M128 10h22M1 11h4M6 11h55M80 11h68M0 12h3M4 12h55M80 12h1M82 12h19M104 12h42M0 13h10M11 13h40M52 13h3M56 13h1M59 13h1M83 13h18M106 13h40M0 14h26M27 14h27M83 14h16M106 14h43M0 15h20M22 15h10M33 15h6M40 15h11M52 15h1M86 15h13M107 15h1M109 15h38M0 16h18M20 16h19M40 16h13M87 16h8M96 16h2M110 16h10M121 16h26M0 17h17M18 17h35M88 17h6M96 17h2M111 17h27M141 17h5M0 18h14M15 18h1M17 18h16M34 18h2M37 18h15M90 18h4M111 18h29M142 18h2M0 19h13M15 19h1M17 19h12M31 19h18M115 19h25M0 20h17M19 20h29M115 20h26M0 21h10M12 21h34M49 21h2M115 21h1M117 21h4M122 21h1M125 21h15M0 22h2M3 22h4M10 22h1M12 22h4M17 22h13M31 22h13M48 22h2M118 22h2M121 22h17M0 23h3M4 23h1M11 23h2M17 23h1M23 23h1M29 23h15M47 23h1M111 23h1M116 23h21M0 24h1M2 24h1M7 24h3M22 24h2M33 24h2M36 24h6M43 24h1M46 24h1M111 24h1M114 24h1M116 24h1M120 24h5M126 24h13M34 25h5M40 25h1M45 25h1M110 25h2M116 25h4M121 25h17M150 25h1M152 25h1M23 26h1M33 26h3M43 26h2M107 26h1M110 26h1M117 26h1M121 26h1M125 26h11M150 26h3M43 27h1M110 27h1M118 27h1M120 27h5M126 27h2M130 27h1M132 27h1M135 27h2M151 27h2M109 28h1M115 28h1M121 28h1M124 28h1M126 28h1M109 29h1M108 30h1M112 30h1M123 30h2M145 30h1M114 31h2M119 32h1M116 33h1M113 35h2M117 35h3M130 35h1M113 36h1M115 36h7M128 36h1M130 36h1M115 37h1M121 37h1M133 37h1M114 38h1M125 38h1M142 38h1M113 39h6M125 39h1M115 40h2M123 40h1M114 41h3M115 42h1M122 42h2M121 43h9M126 44h5M125 46h2M126 47h1M176 58h1M138 59h1M175 60h1"/>
</g>
<path d="M75 101L96 107L123 101.6L135 105L155 104L184.6 103L205 99L223 102L241 99L248 97L250 92L264 76L275 75.6L301 63.6L302 58L319 51L325 54L334 53L341 57L363 66L375 64M363 67L357 76L366 94L352 84L331 88L295 110L296 132L275 155L275 162L280 168L259 210L230 203L232 233L223 240L222 248L225 267L215 277L206 272L203 278L205.2 299.4L190.8 298L190.8 299.5M75 118L85 132L94 132L95 125L100 128L104.6 159L123 163L184 163L195 167L199 173L190 173.6L186 188L178 199L159 201.6L151 219L158 238L161 232L168 243L174 238L180 215L191.4 216L203 278M75 274L82 290L87 276L94 288L103 282L109 260L105 277L111 282L118 282L125 266L129 270L133 278L141 261L133 249L128 258L125 250L131 236L129 232L121 227L128 225L127 220L135 222L132 226L130 238L139 252L154 256L161 249L170 259L183 289L184 299.5M149 259L152 270L147 274L149 259M497.2 299.5L501 288M754.2 292.6L745 296L735.5 299.8M545 261L563 280L565 288L575 286L573.1 299.5M1514 52.4L1534 43L1522 57.6L1514 52.4M1460 130.4L1463 118L1469 115L1468 109.6L1475.6 110.4L1483 102.4L1483 109L1469.6 115.6L1467 128L1460 130.4M184 299.5L183 308L193 321L191 310L190.8 299.5M193 321L205 338L206 326L211 332L212 343L221 329L217 342L222 343L219 347L223 354L223 347L243 351L239 359L253 369L251 374L243 367L247 376L235 371L250 389L251 376L256 377L256 391L262 394L275 437L262 478L262 494L277 481L274 495L283 488L278 498L289 484L284 500L291 499L294 488L299 500L302 488L301 500L305 502L326 479L335 479L334 464L338 474L353 468L357 441L375 475L388 473L382 491L387 498L388.4 519.5M236 390L241 389L243 397L236 390M424.5 357.1L405 360L399 356L386 387L389 400L374 401L384 410L389 430L415 459L422 482L424.5 481.7M424.5 489.2L420 491L418 516L406 520M424.5 357.1L433 356L435 346L449 344L452 336L467 333L472 337L478 322L492 318L488 314L495 302L497.2 299.5M472 337L480 336L490 343L483 358L487 366L514 365L512 373L518 385L506 405L511 418L502 437L510.6 440L543 413.6L565 427.6L578 420.6L591 405L611 409.4L638 439L639.4 474L671 504.4L665 521L667.4 544L656 553M656 553L651 557L642 549L582 553.4L561 580L554 580.4L556.7 599.5M656 553L662 561L668 559L686 567L690.6 561.6L684 552L699.6 544.8M573.1 299.5L572 304L583 318L600 325L615 314L635 325L625.4 333L647 342L647.4 349L635 363L614 360L616 369L608 374.4L655 398L654 409L666 414.4L675 432L704 457L707.1 469.9M735.5 299.8L733 310L725 315L724 312L713 318L707 313L711 323L705 326L703 340L682 351L670 386L679 402L702 422L699 431L721 458L735.5 469.8M424.5 481.7L430 478L428 487L424.5 489.2M424.6 557.7L439 574L436.8 599.5M470.2 599.5L471.4 586.4L504.4 584L501.8 599.5M1270.6 469.7L1274 462L1277.4 453L1267 442L1263 428L1270 409L1266 402L1255 411L1221 400L1207 403L1199 435L1201.4 444L1197.5 469.5M220 580L212 588L213 600L220 598L220 580M215 600L208 608L207 624L212 626L217 618L215 600M206 629L200 641.6L207 655L208.6 636L206 629M199 676L194 680L194 689L200 689L201.4 680L199 676M388.4 519.5L390 532L399 556L402 580L404 564L415 588L420 606L422 624L417 628L423 629L422 640L419 645L424.4 648L424 678L414 683L416 708L415 720M424.8 689.4L416 708M406 520L404 526L408 538L415 550L424.6 557.7M408 612L413.4 618L408 623.6L408 612M411 644L416 644L416 651L411.6 651L411 644M436.8 599.5L456.6 642L424.8 689.4M440 720L438 696L469 631L470.2 599.5M501.8 599.5L499.4 612L532 612L541 615.6L549 626L553 624L553 629.6L565 630L573 648L574 642L578.6 647L575 652L581.4 676L589.4 676L596 667L602 677L595 685L599 691L621 688L629 693L634 702L640 701L652 711L646 720M556.7 599.5L558 612L568 621.6L565 630M700 635.8L699 636L700 648L685 644.4L678 648L679 662L691 670L691 681L676 672L652 674L651 683L643 690L629 693M730 694.8L729 695L720 685L718 691L712 684L707 692L713 694L709 701L693 700L712 708L701 707L707 715L687 700L703 720M691 720L678 708L685 720M607 696L613 692L613 705L607 696M735.5 469.8L749 482L762 486L764 492L767 487L768 496L779 512L786 514.4L802.4 569L800 588L809 604L798 613.6L803.6 623L797.6 622L798.4 634L801 640L799.6 646L793 659L761 675L755 684L730 694.8M707.1 469.9L717 475L719 482L736.6 489.4L726 500L745 519L736 528L738.6 540L732 560L742.4 582L737 600L738.6 624L700 635.8M699.6 544.8L704 544L714 554L738.6 540M1197.5 469.5L1200 487L1192 491L1182 478L1178 494L1183 497L1189.4 536L1195 535L1201 548L1206 549L1206 536L1219 541L1221 547L1208 556M1270.6 469.7L1263 483L1260 490L1261 484L1242 496L1245 503L1236 517L1247 539M1247 539L1248 558L1266 568L1267 557L1268 562L1274 553L1285 553L1297 567L1298 575L1304 574L1302 565L1306 562L1328 574L1313 579L1325 591L1323 598L1337 599L1331 617L1323 604L1332 602L1322 607L1305 600L1300 585L1278 567L1279 595L1274 582L1249 566L1232 579L1217 568L1211 568L1210 573L1208 556M1198 584L1221 581.6L1240.6 596L1238 624L1227 628L1212 596L1198 584M1256 527L1260.6 530L1256 542L1251 531L1256 527M1253 582L1262 584.4L1259 593L1252 589L1253 582M1337 561L1344.6 572L1337 582L1331 577L1337 561M1262 612.4L1258 633L1255 626L1262 612.4M1274 619L1282 619L1280.6 627L1274 619M1303 615L1325 630L1332 646L1311 630L1300 640L1303 615M1339 617.4L1370 616L1384 629L1381 635L1382 651L1387 659L1384 666L1392 672L1378 668L1361 653L1367 646L1346 632L1339 617.4M1341 652L1353 661L1365 659L1368 682L1375 698L1370 702L1365 695L1365 707L1358 703L1356 680L1354 672L1345 676L1341 652M1346 647.6L1352 653L1349 655L1343 649L1346 647.6M1255 640L1279 653L1288 651L1289 657L1300 652L1298 668L1257 694L1261 648L1252 646L1255 640M1274 720L1273 712L1275 709L1289 706L1293 677L1312 675L1303 708L1299 720M1308 720L1308.6 707L1331 663L1330 693L1312 720M1322 720L1335 704L1349 707L1352 720M1131 720L1150 692L1155 695L1162 687L1158 674L1167 658L1167 672L1175 687L1186 687L1179 693L1176 689L1163 697L1158 707L1142 711.6L1141 720M1182 624.4L1195 630L1199 637L1185 636L1182 624.4M1183 637.6L1189 641L1184 649L1183 637.6M1388 691.6L1389 716L1383 704L1388 691.6M1404 707L1408 715L1403 718L1400 712L1404 707M1381 715L1387 720" fill="none" stroke="#000" stroke-width="1.9" stroke-linejoin="round"/>
<path d="M77 77L77.6 73.2L79.7 72.4L81 69.2L81.4 66.6L85.1 64.9L86.8 61.2L89.4 61.3L89.8 58.9L91.6 55.8L94.5 54.1L98.4 54.8L100.2 52.5L102.4 51L106.7 51.2L107.9 49.9L111.6 51.3L115.1 51.2L117.5 52.6L121.4 51.5L122.3 53.1L122.4 54.9L122.9 57.5L125.7 57.7L130.2 59.5L133 58.9L135.3 58.7L137 59.8L141.2 59.9L142.2 62.7L145.7 63.5L149.6 65.1L151.4 62L155.1 61.3L157.4 59.8L160.1 61.4L162.1 62.1L166.4 62.3L168.3 63.7L168.3 65.9L167.6 70.6L169.1 73.3L170.2 75.8L169.7 78.2L173.3 80L175.8 80.3L178.2 80.1L179.6 80.5L182.6 79.8L183.9 82.5L186.1 84.9L186.5 86.3L187.5 89.2L186 91.3L185.3 94L185 98.2L186.2 100.6L184 103.4M375 64L374.8 62.1L374.1 59.5L373.3 55.2L373 54.1L375.2 50.8L376.2 49L377.7 46.5L380.6 45.3L381.9 41.1L383.6 42.9L387 44L389.6 45.1L390.8 48.1L393.2 49.7L395.1 49.7L397.5 52.1L399 52.8L400.1 56.4L404.1 58.2L403.4 58.7L404.6 63.3L405.5 64.5L405.2 68.9L405.5 72.2L408.5 73.5L406.9 78.2L412.2 75.9L414.9 76L417.3 74.9L420.6 76.5L423.5 79.1L422.8 80L422.1 84L422.2 86.9L423.9 89.4L424.3 90.2L422.8 94.8L423.2 96.9L423 98.3L424.3 100.8L424.6 104.9L423.6 106.2L423 109.1L423.1 112.2L424.7 114.8L424.6 117.6L425.4 120.1L425.4 122.3L423.6 124.6L425.3 127.3L425.3 132.3L424.7 133.8L424.9 137.7L422.4 138L417.5 139.3L415 139.2L412.2 142.4L409.9 142.9L407.3 145.8L404.9 146.8L402.8 151.1L402.6 153.1L400.6 153.8L399.4 155.5L396.9 158.2L394.9 159.4L393 162.8L391.3 164.4L389.8 166.8L389.4 169.7L385.8 172.6L387.5 175.7L388 177.5L388 180L385.8 183.6L386.5 185.4L384.4 189.3L384.4 191L384 194.9L382.8 197.3L381.7 201.4L382.8 202.4L380.3 206.4L383.7 208.8L384.5 209.3L386.7 208.5L390.8 208.5L392.2 205.4L396.6 205.6L398.1 203L400.7 203.9L404.1 202.5L407.9 201.7L410.4 201.2L412.1 202.2L416.7 201.3L418.6 201.5L420.6 200L425.5 201.2M424.5 200.1L425.6 200.3L429.7 202.9L430.8 205.8L431.2 208.4L432.7 209.1L433.5 213.7L435.4 215.5L436.2 218.4L436.5 219.7L438.7 223.5L439.2 224.5L440.4 227.8L441.3 231L444.7 232.9L446.1 235.8L447.1 239.5L449.5 240.7L451.6 242.9L450.1 244.6L446.9 247.7L446.6 249.7L444 253.1L447 256.2L446.3 256.9L446.5 261L444.6 263.4L442 265.6L441.9 266.6L440.5 268.6L439.7 272.4L440.8 271.7L444 272.8L446.6 272.8L450.1 272.9L453.4 274.1L455.3 274.9L457.4 276.1L460 275.7L464.7 275.5L466.5 278.3L469.7 277.5L471.3 279.8L473.8 280.4L476.5 279.1L478.1 282L480.9 281.6L483 281.7L486.4 283.1L489.5 283L491.9 283.9L494.3 285.6L496.6 286.3L497.6 288.3L501.4 287.3L503.7 286.5L505.8 286.7L508.8 284.8L510.2 284.9L511.4 288.8L512 291.6L511.8 292.9L512 295.4L512.6 299.8M532.2 299.5L533.9 295.1L534.5 292.6L532.8 290.5L530.9 286.5L529.1 282.8L527.1 281.3L527.4 277.8L526.6 276.4L526.4 273.1L526.3 269.6L526 268.4L526.5 265.5L529.4 262.4L530.4 259.5L534 260.4L535.4 258.6L538.4 259.9L541.4 260.5L546.1 260.2L546.7 259.8L548.1 256.6L551.1 255.7L553.9 252.4L556.1 250.8L556.1 248.1L559.5 251.1L561.3 251L565.8 253.8L566.7 253.3L570.2 256.5L571.1 257.3L573.7 258.9L576 259.1L579.1 259.1L579.8 255L582.3 254.8L584.4 251.4L586.8 250.9L588.5 247.9L590.9 250.7L592.9 254.1L594.2 256L595.4 254.6L597.5 252.6L599.4 248.3L602.2 250.2L603.7 253L604.5 253.2L607.5 255.3L609.4 256.8L611.7 260.2L612.6 256.1L612.9 252.7L613.6 251.7L616 247.2L617.2 249L620.1 248.8L621.4 251L624.1 250.7L628.3 250.6L630.1 250.1L634.2 248.4L636.6 247.7L638.1 248.1L641.7 245.1L641.8 242.4L642.3 240L642.6 236.3L644.9 234.7L649.1 234.3L650.4 232L653.5 231.4L657.1 229.8L659.5 228.5L661.8 228.9L663.2 229.9L667.5 231.8L668 234.7L671 235.2L671.9 238.1L674.5 240.8L677.1 240.8L682 243.8L684.7 244.4L687.6 245.5L688.4 244L691.4 245.9L695.5 246.1L699 245.7L701.5 246.1L703.7 245.8L707.4 244.9L708.3 245.4L710.4 246.5L713.7 249.8L710.6 250.8L709 253.9L708.2 255.7L705.9 257.8L705 260.6L704.2 265L706.3 265.8L707.1 268.6L706.8 271.7L709.9 273.9L709.1 275.8L712.3 276.2L715.5 279L719.9 279.7L722.7 279.1L723.5 280.1L725.6 282.7L729.2 283.6L732.9 284L734 286.4L736 287.8L739.4 286.6L741.7 287.9L745.9 288.9L747 291.2L750.4 291.3L754.9 292.4L757.4 292.4L758.5 292.2L762.8 292.7L763.4 291.1L767.1 290.9L771.4 292.7L773 290.3L774.9 286.1M953.5 268.2L954 266.9L955.1 263.5L955.3 261L957.5 257.2L957.7 255.2L955.8 253.3L956.8 251.1L955.4 246.6L954.8 245.4L955.3 241.8L953.9 240.4L952.2 241.1L950.4 243.5L948.1 247.7L945.3 249.1L947.6 249.6M953 251.4L956.1 252.4L957.9 250.6L962.2 251.1L963.6 253.3L963.6 255.3L966 257.8L967.6 259.8L970.4 258.9L972.8 257.3L974.7 258.8L976.7 257.5L980.8 257.6L982.2 256.8L986.4 257.6L989 258.4L992.6 256.7L995.2 257.2L997.4 256L997.8 254.6L1000.1 249.8L1001 250.6L1004.3 250.1L1005.8 248.7L1009.1 246.8L1012.3 248.6L1014.9 246.3L1018 249.7L1020.6 249.9L1023.2 252.9L1024.9 254.6L1025.3 251L1027.7 250.6L1030 247.7L1031.8 245.6L1032.9 246.7L1037.7 245.8L1040.2 247.1L1041.8 248.8L1045 247.1L1048.6 246.7L1050.3 244.3L1051.4 242.2L1055.6 241.2L1057.7 239.8L1061.1 238.6L1063.7 237.9L1064.3 235L1065.5 232.7L1064.8 229.8L1067 229.4L1069.2 227.1L1073.7 226.3L1075.8 225L1076.6 222.3L1077.3 220.3L1079.3 216.8L1081.4 218.7L1085.6 218.7L1088.2 218.6L1090.8 217.5L1093.1 215.1L1092.7 213.8L1094.1 210.7L1096.8 209.9L1100.3 209.1L1102.8 207.9L1105 207L1106.8 205.1L1109.4 203.1L1109.9 199.7L1114 197.4L1115.1 195.8L1115.1 192.2L1117.6 190.4L1120 187.6L1120 185L1122.6 185.1L1125.7 182M1124.7 181.9L1127.3 183.2L1130.5 182.8L1133.5 185.9L1134.9 185.6L1136.1 183L1136.5 179.1L1138.6 178L1139.4 173.5L1141.3 172.2L1145.1 171.4L1146.1 171.4L1149.6 169.9L1149.7 167.4L1153 164.6L1153.6 162.2L1155.1 160L1156.9 158.8L1160.8 156.2L1162.3 155.6L1166.5 155.6L1169.6 153.3L1167.6 151.9L1167.9 148L1166.3 144.3L1167.7 141.5L1169.4 139.9L1170.4 137.1L1171.5 134.3L1174.1 130.8L1174.3 130.2L1176.6 127.5L1177.3 123.7L1175.6 121.9L1175 119.1L1176.6 116.1L1175.7 112.4L1174.1 110.2L1173.9 106.7L1172.1 103L1175.9 104.1L1178.5 105.8L1179.6 107.2L1183.7 109.2L1184.1 105.7L1186.4 104L1187.5 101.6L1188.8 100.2L1192.8 97.1L1193.8 96.1L1194.6 93.6L1198.9 91.7L1200.6 91.4L1204.1 89.3L1202.9 88.5L1204.8 84.9L1205.4 82L1206.8 80.7L1207.6 77L1209.4 75.1L1209.6 74.1L1212.7 71.1L1213.5 67.7L1215.4 67.2L1217.5 65.6L1219.7 63.6L1222 62.1L1222.6 59.7L1224 57.8L1226.7 54.6L1227.9 52.2L1228.3 49.6L1232 50.3L1234.5 51.5L1237.8 51.4L1239.2 50.4L1242.7 51.1L1242.6 50.1L1242 46.3L1241.4 44.1L1239.9 41.1L1238.2 36.8L1241.5 36.9L1241.9 33.6L1244 30.1L1245.3 29.6L1245.5 26.7L1248.3 25.4L1248.8 21.1L1250.6 19.8L1251 16.7L1250.8 15.6L1252.7 10.9L1250 10.2L1247.8 8.7L1247.6 4.8L1245.4 3.5M1241 158L1243.1 160.6L1245.3 161.1L1250.1 162L1252.3 163.4L1254.3 164.6L1257 167.1L1258.5 170.6L1257 171.5L1253.4 173.5L1251 174.6L1251.8 179.1L1252.8 180.7L1252.5 184.1L1251.7 187.6L1250.3 190.5L1247.9 192.3L1247.5 194.2L1246.3 198.6L1244.7 201.1L1244.6 202.4L1242.9 204.3L1244.4 207.1L1242.5 210.3L1241.4 212.6L1241.3 215.8L1240.3 218.9L1240.3 221.8L1238.8 223.4L1238.6 226.4L1237.4 228.4L1237 231.7L1235.7 235.2L1233.9 236.2L1235.1 239.1L1231.9 241.3L1229.9 245.7L1228.5 246.2L1226 250.3L1225.1 253L1222.7 254.5L1221.1 257.7L1219 259.4L1218.6 264.1L1218.1 265.8L1216.4 270.2L1215.8 270.8L1216.3 276.1L1215.9 279L1216.9 280.6L1212.2 279.7L1212.4 277.5L1211.5 274.3L1210.8 271.5L1210.9 267.5L1207.4 265.6L1207.1 264.9L1204.4 262.1L1203.5 260.7L1201.7 258.1L1199.4 254.4L1197.1 251.5L1194.9 249L1195.2 248.3L1193.7 246.1L1191.8 243L1191.8 240.5L1188.7 239.1L1189.9 235.6L1190.5 232.8L1190.8 230.6L1191.9 227.1L1191.6 225.9L1191.6 221.2L1191.4 219.8L1190.2 217.2L1192 212.9L1194.2 210.2L1195.5 209L1197.8 206.3L1198.1 203.4L1199.4 202.6L1200.2 199.6L1203 197.5L1203.2 194.5L1204.1 193.8L1206.6 190.3L1207.1 189.1L1210.5 185.9L1210.8 185.1L1212.1 181.3L1214 179.4L1215.5 177.9L1218.1 173.8L1218 173L1221.6 169.6L1223.4 167.2L1224.6 166.5L1228.5 165.6L1231.8 164.5L1234.9 164.5L1238.2 161.3L1240.1 159.5L1241 157.5M512.9 299.5L515.1 303.2L514.6 306.8L518.2 306.4L520.9 306.5L524.7 306.3L526.1 307.7L529.6 307L532.3 307L533.8 305.9L535.8 302.5L531.1 298.8M774.6 286.9L776.5 287.1L779 288.3L783.2 288.7L786.7 290.6L787.8 290.4L790.7 293.9L793.9 295.8L794.6 298.2L797.4 296.5L799.8 295.8L805 296.7L806.7 296.8L808.5 292.1L810.2 289.8L811.3 288.2L811.9 290.4L814.2 290.7L816.6 294.7L820 294.4L824.6 297.3L822.6 300.3L821.1 301.9L818.8 304.9L817.2 306.6L817.5 310.8L815.5 312.2L814.4 315.6L816.1 319.8L816.2 321.5L816.1 325.9L817.3 328.8L820.5 329.6L821.3 331.1L823.3 334.7L825.7 337.4L824.4 340.7L828.6 340.5L831.7 339.9L834.2 338.2L836.2 338.5L839.4 335.3L842.6 334.8L843 332.3L845 332.1L844 330.2L843.4 326.8L840.7 324.6L839.8 320.9L837.4 318.8L834.2 316.1L831.3 313.9L834.4 311.7L838.8 311.6L841.3 311L841.5 307L840 304.6L841.2 302.9L841.2 298.8L842.2 299.8L843.9 303.2L845.2 303.3L847.6 305.2L848.7 302.5L850.7 300.1L854.4 298.6L854.6 298L859.1 298.3L860 295.1L863.6 294.4L866.7 295.4L868.3 295.5L871.8 298L874.5 296.3L876.1 293.3L877.8 293.1L882.2 290.8L883.5 290L886.6 287.7L887.5 286.6L891.1 285.8L894.2 289.1L896 291.2L896.3 291.4L899.9 288L902.5 287.8L904.1 287.3L907.8 284.9L908.3 281.8L912 279.4L913.2 276.1L914.6 280.5L916.7 281.4L916.4 284.2L919.7 283.6L921 282.5L925.7 280.2L926.8 280L930.6 278.1L931.1 277.6L935.9 276.4L934.8 274.5L935 271.5L936.7 267.8L938.2 264.7L938 261.4L939.6 265.5L940.1 266.4L940.1 270.2L941 274.2L943.2 271.3L947.6 268.7L949.7 267.5L954.1 267.8M800 353L802.6 351.8L805.1 352.6L808.7 351.7L810.8 350.7L814.9 348.2L818.1 347L819.7 348.5L822.5 349L824.8 350.7L825.9 351.2L829.1 349L830.1 346.7L833.6 345.9L836.6 345.8L839.1 345.8L840.4 345.9L844.6 347.2L846.3 345.1L850.1 344.6L851.2 344.2L853.6 347.1L855.6 350.2L857.8 351.1L861.5 351.6L862.5 353.9L861.9 356.5L863.7 359.1L863.7 362.5L861.6 363.2L859.5 364.6L856.1 368.2L856.2 369.6L854.6 370.1L851.1 371.9L850.1 376.6L848.4 380.1L847.9 382.8L847.2 384.8L845.7 387.7L844.8 390.8L842.4 392L841.2 395.2L837.7 399.2L836.7 399.6L833.3 402L830.5 403.5L828.3 405.3L826.2 408.9L824.7 410.2L821.3 409.2L818 412L815.3 413.8L811.4 414.1L810.7 413L808 411.2L803.5 411.3L800.9 409.6L798.7 411.5L795.9 410.4L792.7 409.7L787.8 409L784.8 405.9L783.3 405.1L782.3 404.5L780.9 399.8L778.4 398.7L778.9 395.3L777.8 391.8L777.6 389.7L777.3 387.7L776.7 383.4L777.3 380.9L776.9 376.9L778.9 376.1L782 373.4L782.6 370.4L785.1 368.3L788.9 366.8L790.6 365.1L792.9 363.8L793.8 361.4L797.2 359.1L799.1 355.2L798.9 353.4" fill="none" stroke="#000" stroke-width="1.9" stroke-linejoin="round"/>
<path d="M1288 183L1282.6 220" fill="none" stroke="#a63d0f" stroke-width="3.6" stroke-linecap="round" stroke-linejoin="round"/>
<path d="M806 489L815 502L820 514L822.6 523" fill="none" stroke="#a63d0f" stroke-width="3.6" stroke-linecap="round" stroke-linejoin="round"/>
<path d="M1257.4 289L1233 317" fill="none" stroke="#a63d0f" stroke-width="3.6" stroke-linecap="round" stroke-linejoin="round"/>
<path d="M1184.6 386.6L1168.6 419" fill="none" stroke="#a63d0f" stroke-width="3.6" stroke-linecap="round" stroke-linejoin="round"/>
<path d="M1154 497L1154 533" fill="none" stroke="#a63d0f" stroke-width="3.6" stroke-linecap="round" stroke-linejoin="round"/>
<path d="M806 489.4L812 497L818 508L823 523" fill="none" stroke="#a63d0f" stroke-width="3.6" stroke-linecap="round" stroke-linejoin="round"/>
<path d="M840 625.6L840.4 640L837 653L831.6 662.4" fill="none" stroke="#a63d0f" stroke-width="3.6" stroke-linecap="round" stroke-linejoin="round"/>
<path d="M1150 638.6L1145 653L1140 663L1134.6 672" fill="none" stroke="#a63d0f" stroke-width="3.6" stroke-linecap="round" stroke-linejoin="round"/>
<circle cx="388.4" cy="191.4" r="14.1" fill="#1f77b4" stroke="#000" stroke-width="1.9"/><path d="M388.4 191.4V177.3" stroke="#000" stroke-width="1.7"/>
<circle cx="440.6" cy="230" r="14.1" fill="#1f77b4" stroke="#000" stroke-width="1.9"/><path d="M440.6 230V215.9" stroke="#000" stroke-width="1.7"/>
<circle cx="493" cy="239.6" r="14.1" fill="#1f77b4" stroke="#000" stroke-width="1.9"/><path d="M493 239.6V225.5" stroke="#000" stroke-width="1.7"/>
<circle cx="504.6" cy="245" r="14.1" fill="#1f77b4" stroke="#000" stroke-width="1.9"/><path d="M504.6 245V230.9" stroke="#000" stroke-width="1.7"/>
<circle cx="504" cy="233.6" r="14.1" fill="#1f77b4" stroke="#000" stroke-width="1.9"/><path d="M504 233.6V219.5" stroke="#000" stroke-width="1.7"/>
<circle cx="477" cy="280" r="14.1" fill="#1f77b4" stroke="#000" stroke-width="1.9"/><path d="M477 280V265.9" stroke="#000" stroke-width="1.7"/>
<circle cx="489" cy="286" r="14.1" fill="#1f77b4" stroke="#000" stroke-width="1.9"/><path d="M489 286V271.9" stroke="#000" stroke-width="1.7"/>
<circle cx="489" cy="281" r="14.1" fill="#1f77b4" stroke="#000" stroke-width="1.9"/><path d="M489 281V266.9" stroke="#000" stroke-width="1.7"/>
<circle cx="489" cy="275" r="14.1" fill="#1f77b4" stroke="#000" stroke-width="1.9"/><path d="M489 275V260.9" stroke="#000" stroke-width="1.7"/>
<path d="M633 216L633 201.9A14.1 14.1 0 1 1 623.3 205.7Z" fill="#1f77b4" stroke="#000" stroke-width="1.6" stroke-linejoin="round"/><path d="M633 216L623.3 205.7A14.1 14.1 0 0 1 633 201.9Z" fill="#ff7f0e" stroke="#000" stroke-width="1.6" stroke-linejoin="round"/><circle cx="633" cy="216" r="14.1" fill="none" stroke="#000" stroke-width="1.9"/>
<path d="M629 223.6L629 209.5A14.1 14.1 0 1 1 619.3 233.9Z" fill="#1f77b4" stroke="#000" stroke-width="1.6" stroke-linejoin="round"/><path d="M629 223.6L619.3 233.9A14.1 14.1 0 0 1 629 209.5Z" fill="#ff7f0e" stroke="#000" stroke-width="1.6" stroke-linejoin="round"/><circle cx="629" cy="223.6" r="14.1" fill="none" stroke="#000" stroke-width="1.9"/>
<path d="M677 226L677 211.9A14.1 14.1 0 0 1 683.8 238.4Z" fill="#1f77b4" stroke="#000" stroke-width="1.6" stroke-linejoin="round"/><path d="M677 226L683.8 238.4A14.1 14.1 0 1 1 677 211.9Z" fill="#ff7f0e" stroke="#000" stroke-width="1.6" stroke-linejoin="round"/><circle cx="677" cy="226" r="14.1" fill="none" stroke="#000" stroke-width="1.9"/>
<path d="M701 227L701 212.9A14.1 14.1 0 0 1 707.8 239.4Z" fill="#1f77b4" stroke="#000" stroke-width="1.6" stroke-linejoin="round"/><path d="M701 227L707.8 239.4A14.1 14.1 0 1 1 701 212.9Z" fill="#ff7f0e" stroke="#000" stroke-width="1.6" stroke-linejoin="round"/><circle cx="701" cy="227" r="14.1" fill="none" stroke="#000" stroke-width="1.9"/>
<path d="M702 202.4L702 188.3A14.1 14.1 0 0 1 714.4 209.2Z" fill="#1f77b4" stroke="#000" stroke-width="1.6" stroke-linejoin="round"/><path d="M702 202.4L714.4 209.2A14.1 14.1 0 1 1 702 188.3Z" fill="#ff7f0e" stroke="#000" stroke-width="1.6" stroke-linejoin="round"/><circle cx="702" cy="202.4" r="14.1" fill="none" stroke="#000" stroke-width="1.9"/>
<path d="M733 280L733 265.9A14.1 14.1 0 0 1 745.4 286.8Z" fill="#1f77b4" stroke="#000" stroke-width="1.6" stroke-linejoin="round"/><path d="M733 280L745.4 286.8A14.1 14.1 0 1 1 733 265.9Z" fill="#ff7f0e" stroke="#000" stroke-width="1.6" stroke-linejoin="round"/><circle cx="733" cy="280" r="14.1" fill="none" stroke="#000" stroke-width="1.9"/>
<path d="M830.6 206L830.6 191.9A14.1 14.1 0 0 1 840.9 196.3Z" fill="#1f77b4" stroke="#000" stroke-width="1.6" stroke-linejoin="round"/><path d="M830.6 206L840.9 196.3A14.1 14.1 0 0 1 835 219.4Z" fill="#ff7f0e" stroke="#000" stroke-width="1.6" stroke-linejoin="round"/><path d="M830.6 206L835 219.4A14.1 14.1 0 1 1 830.6 191.9Z" fill="#2ca02c" stroke="#000" stroke-width="1.6" stroke-linejoin="round"/><circle cx="830.6" cy="206" r="14.1" fill="none" stroke="#000" stroke-width="1.9"/>
<path d="M822 222L822 207.9A14.1 14.1 0 0 1 824.6 208.1Z" fill="#1f77b4" stroke="#000" stroke-width="1.6" stroke-linejoin="round"/><path d="M822 222L824.6 208.1A14.1 14.1 0 0 1 825.5 235.7Z" fill="#ff7f0e" stroke="#000" stroke-width="1.6" stroke-linejoin="round"/><path d="M822 222L825.5 235.7A14.1 14.1 0 1 1 822 207.9Z" fill="#2ca02c" stroke="#000" stroke-width="1.6" stroke-linejoin="round"/><circle cx="822" cy="222" r="14.1" fill="none" stroke="#000" stroke-width="1.9"/>
<circle cx="954" cy="179" r="14.1" fill="#2ca02c" stroke="#000" stroke-width="1.9"/><path d="M954 179V164.9" stroke="#000" stroke-width="1.7"/>
<path d="M954 193L954 178.9A14.1 14.1 0 0 1 957.5 179.3Z" fill="#1f77b4" stroke="#000" stroke-width="1.6" stroke-linejoin="round"/><path d="M954 193L957.5 179.3A14.1 14.1 0 1 1 954 178.9Z" fill="#2ca02c" stroke="#000" stroke-width="1.6" stroke-linejoin="round"/><circle cx="954" cy="193" r="14.1" fill="none" stroke="#000" stroke-width="1.9"/>
<circle cx="984" cy="186" r="14.1" fill="#2ca02c" stroke="#000" stroke-width="1.9"/><path d="M984 186V171.9" stroke="#000" stroke-width="1.7"/>
<path d="M972 192L972 177.9A14.1 14.1 0 0 1 974.6 178.1Z" fill="#1f77b4" stroke="#000" stroke-width="1.6" stroke-linejoin="round"/><path d="M972 192L974.6 178.1A14.1 14.1 0 1 1 972 177.9Z" fill="#2ca02c" stroke="#000" stroke-width="1.6" stroke-linejoin="round"/><circle cx="972" cy="192" r="14.1" fill="none" stroke="#000" stroke-width="1.9"/>
<circle cx="998" cy="206" r="14.1" fill="#2ca02c" stroke="#000" stroke-width="1.9"/><path d="M998 206V191.9" stroke="#000" stroke-width="1.7"/>
<circle cx="972" cy="227" r="14.1" fill="#2ca02c" stroke="#000" stroke-width="1.9"/><path d="M972 227V212.9" stroke="#000" stroke-width="1.7"/>
<circle cx="983" cy="245.6" r="14.1" fill="#2ca02c" stroke="#000" stroke-width="1.9"/><path d="M983 245.6V231.5" stroke="#000" stroke-width="1.7"/>
<path d="M986.6 227L986.6 212.9A14.1 14.1 0 0 1 990.1 213.3Z" fill="#1f77b4" stroke="#000" stroke-width="1.6" stroke-linejoin="round"/><path d="M986.6 227L990.1 213.3A14.1 14.1 0 1 1 986.6 212.9Z" fill="#2ca02c" stroke="#000" stroke-width="1.6" stroke-linejoin="round"/><circle cx="986.6" cy="227" r="14.1" fill="none" stroke="#000" stroke-width="1.9"/>
<circle cx="1048.6" cy="185" r="14.1" fill="#2ca02c" stroke="#000" stroke-width="1.9"/><path d="M1048.6 185V170.9" stroke="#000" stroke-width="1.7"/>
<circle cx="1096" cy="189" r="14.1" fill="#2ca02c" stroke="#000" stroke-width="1.9"/><path d="M1096 189V174.9" stroke="#000" stroke-width="1.7"/>
<circle cx="1091" cy="182" r="14.1" fill="#2ca02c" stroke="#000" stroke-width="1.9"/><path d="M1091 182V167.9" stroke="#000" stroke-width="1.7"/>
<circle cx="1061.4" cy="212" r="14.1" fill="#2ca02c" stroke="#000" stroke-width="1.9"/><path d="M1061.4 212V197.9" stroke="#000" stroke-width="1.7"/>
<circle cx="1079.4" cy="192" r="14.1" fill="#2ca02c" stroke="#000" stroke-width="1.9"/><path d="M1079.4 192V177.9" stroke="#000" stroke-width="1.7"/>
<path d="M793 394.4L793 380.3A14.1 14.1 0 1 1 779.1 397Z" fill="#ff7f0e" stroke="#000" stroke-width="1.6" stroke-linejoin="round"/><path d="M793 394.4L779.1 397A14.1 14.1 0 0 1 793 380.3Z" fill="#2ca02c" stroke="#000" stroke-width="1.6" stroke-linejoin="round"/><circle cx="793" cy="394.4" r="14.1" fill="none" stroke="#000" stroke-width="1.9"/>
<path d="M812.4 389.6L812.4 375.5A14.1 14.1 0 1 1 798.5 392.2Z" fill="#ff7f0e" stroke="#000" stroke-width="1.6" stroke-linejoin="round"/><path d="M812.4 389.6L798.5 392.2A14.1 14.1 0 0 1 812.4 375.5Z" fill="#2ca02c" stroke="#000" stroke-width="1.6" stroke-linejoin="round"/><circle cx="812.4" cy="389.6" r="14.1" fill="none" stroke="#000" stroke-width="1.9"/>
<circle cx="775" cy="629.4" r="14.1" fill="#ff7f0e" stroke="#000" stroke-width="1.9"/><path d="M775 629.4V615.3" stroke="#000" stroke-width="1.7"/>
</g>
<text x="583" y="163.6" font-size="24">Admixture1</text>
<text x="462" y="199.6" font-size="24">YN</text>
<text x="1001.5" y="139.6" font-size="24">SC</text>
<text x="775.5" y="280" font-size="24">Admixture2</text>
<text x="754" y="587" font-size="24">VN</text>
<rect x="75.2" y="2" width="1608" height="718.6" fill="none" stroke="#000" stroke-width="4" stroke-linejoin="round"/>
<text x="54.7" y="176.9" font-size="24.6" text-anchor="end">25°N</text>
<text x="54.7" y="363.9" font-size="24.6" text-anchor="end">20°N</text>
<text x="54.7" y="550.9" font-size="24.6" text-anchor="end">15°N</text>
<text x="85.8" y="762.8" font-size="24.6">90°E</text>
<text x="264.2" y="762.8" font-size="24.6">95°E</text>
<text x="439.8" y="762.8" font-size="24.6">100°E</text>
<text x="619.8" y="762.8" font-size="24.6">105°E</text>
<text x="786.4" y="762.8" font-size="24.6">110°E</text>
<text x="975.8" y="762.8" font-size="24.6">115°E</text>
<text x="1158.4" y="762.8" font-size="24.6">120°E</text>
<text x="1340.1" y="762.8" font-size="24.6">125°E</text>
<text x="1513.4" y="762.8" font-size="24.6">130°E</text>
<path d="M58 166.7H75.2M58 353.7H75.2M58 540.7H75.2M110 720.6V736M289.4 720.6V736M470 720.6V736M649 720.6V736M828.6 720.6V736M1007.8 720.6V736M1187 720.6V736M1366.4 720.6V736M1544 720.6V736" stroke="#000" stroke-width="4.2" fill="none"/>
<text x="12.3" y="31.8" font-size="27" font-weight="bold">a</text>
<text x="1602" y="44.4" font-size="23" text-anchor="middle">N</text>
<path d="M1601.6 50L1586 103.6L1601.6 83Z" fill="#000" stroke="#000" stroke-width="1"/>
<path d="M1601.6 50L1618 103.6L1601.6 83Z" fill="#fff" stroke="#000" stroke-width="1.5" stroke-linejoin="miter"/>
<rect x="1452" y="620.6" width="158.6" height="17.8" rx="1" fill="#000"/>
<rect x="1465" y="623.6" width="6" height="11.8" fill="#fff"/><rect x="1484" y="623.6" width="6.4" height="11.8" fill="#fff"/><rect x="1533" y="623.6" width="35" height="11.8" fill="#fff"/>
<text x="1625" y="641.4" font-size="27">KM</text>
<text x="1445.6" y="673" font-size="27">0</text>
<text x="1586.6" y="673" font-size="27">300</text>
<g shape-rendering="crispEdges">
<rect x="75.1" y="813.1" width="825.5" height="210.2" fill="#1f77b4"/>
<path fill="#2ca02c" d="M75.1 1023.3L75.1 1023.3L83.9 1023.3L83.9 1023.3L92.7 1023.3L92.7 1023.3L101.4 1023.3L101.4 1023.3L110.2 1023.3L110.2 1023.3L119 1023.3L119 1023.3L127.8 1023.3L127.8 1023.3L136.6 1023.3L136.6 1023.3L145.4 1023.3L145.4 1023.3L154.1 1023.3L154.1 1023.3L162.9 1023.3L162.9 1023.3L171.7 1023.3L171.7 1023.3L180.5 1023.3L180.5 1023.3L189.3 1023.3L189.3 1023.3L198 1023.3L198 1023.3L206.8 1023.3L206.8 1023.3L215.6 1023.3L215.6 1023.3L224.4 1023.3L224.4 1023.3L233.2 1023.3L233.2 1023.3L242 1023.3L242 1023.3L250.7 1023.3L250.7 1023.3L259.5 1023.3L259.5 976L268.3 976L268.3 971.2L277.1 971.2L277.1 966.1L285.9 966.1L285.9 948.9L294.6 948.9L294.6 939.2L303.4 939.2L303.4 947.4L312.2 947.4L312.2 941.5L321 941.5L321 929.3L329.8 929.3L329.8 936.3L338.6 936.3L338.6 928.3L347.3 928.3L347.3 919.9L356.1 919.9L356.1 918L364.9 918L364.9 912.1L373.7 912.1L373.7 911.3L382.5 911.3L382.5 851.8L391.3 851.8L391.3 851.1L400 851.1L400 853.2L408.8 853.2L408.8 852.8L417.6 852.8L417.6 848.8L426.4 848.8L426.4 815.6L435.2 815.6L435.2 813.1L443.9 813.1L443.9 814.4L452.7 814.4L452.7 815.2L461.5 815.2L461.5 891.7L470.3 891.7L470.3 886.5L479.1 886.5L479.1 886L487.9 886L487.9 871.7L496.6 871.7L496.6 851.4L505.4 851.4L505.4 849.3L514.2 849.3L514.2 845.5L523 845.5L523 845.3L531.8 845.3L531.8 813.1L540.5 813.1L540.5 813.1L549.3 813.1L549.3 813.1L558.1 813.1L558.1 813.1L566.9 813.1L566.9 813.1L575.7 813.1L575.7 813.1L584.5 813.1L584.5 813.1L593.2 813.1L593.2 813.1L602 813.1L602 814.6L610.8 814.6L610.8 813.1L619.6 813.1L619.6 813.1L628.4 813.1L628.4 826.3L637.1 826.3L637.1 813.1L645.9 813.1L645.9 813.9L654.7 813.9L654.7 813.1L663.5 813.1L663.5 813.1L672.3 813.1L672.3 813.1L681.1 813.1L681.1 813.1L689.8 813.1L689.8 813.1L698.6 813.1L698.6 813.1L707.4 813.1L707.4 813.1L716.2 813.1L716.2 813.1L725 813.1L725 813.1L733.8 813.1L733.8 813.1L742.5 813.1L742.5 813.1L751.3 813.1L751.3 813.1L760.1 813.1L760.1 813.1L768.9 813.1L768.9 813.1L777.7 813.1L777.7 813.1L786.4 813.1L786.4 813.1L795.2 813.1L795.2 813.1L804 813.1L804 813.1L812.8 813.1L812.8 813.1L821.6 813.1L821.6 813.1L830.4 813.1L830.4 813.1L839.1 813.1L839.1 813.1L847.9 813.1L847.9 813.1L856.7 813.1L856.7 813.1L865.5 813.1L865.5 813.1L874.3 813.1L874.3 813.1L883 813.1L883 813.1L891.8 813.1L891.8 813.1L900.6 813.1L900.6 1023.3Z"/>
<rect x="75.1" y="1035.2" width="825.5" height="210.3" fill="#1f77b4"/>
<path fill="#2ca02c" d="M75.1 1245.5L75.1 1245.5L83.9 1245.5L83.9 1245.5L92.7 1245.5L92.7 1245.5L101.4 1245.5L101.4 1245.5L110.2 1245.5L110.2 1245.5L119 1245.5L119 1245.5L127.8 1245.5L127.8 1245.5L136.6 1245.5L136.6 1245.5L145.4 1245.5L145.4 1245.5L154.1 1245.5L154.1 1245.5L162.9 1245.5L162.9 1245.5L171.7 1245.5L171.7 1245.5L180.5 1245.5L180.5 1245.5L189.3 1245.5L189.3 1245.5L198 1245.5L198 1245.5L206.8 1245.5L206.8 1245.5L215.6 1245.5L215.6 1245.5L224.4 1245.5L224.4 1245.5L233.2 1245.5L233.2 1245.5L242 1245.5L242 1245.5L250.7 1245.5L250.7 1245.5L259.5 1245.5L259.5 1165.2L268.3 1165.2L268.3 1158L277.1 1158L277.1 1148.3L285.9 1148.3L285.9 1126.9L294.6 1126.9L294.6 1122.1L303.4 1122.1L303.4 1129.2L312.2 1129.2L312.2 1124.2L321 1124.2L321 1107.1L329.8 1107.1L329.8 1108L338.6 1108L338.6 1106.1L347.3 1106.1L347.3 1102.3L356.1 1102.3L356.1 1101L364.9 1101L364.9 1088.2L373.7 1088.2L373.7 1081.3L382.5 1081.3L382.5 1035.2L391.3 1035.2L391.3 1035.2L400 1035.2L400 1035.2L408.8 1035.2L408.8 1035.2L417.6 1035.2L417.6 1035.2L426.4 1035.2L426.4 1035.2L435.2 1035.2L435.2 1035.2L443.9 1035.2L443.9 1035.2L452.7 1035.2L452.7 1035.2L461.5 1035.2L461.5 1078.5L470.3 1078.5L470.3 1073.9L479.1 1073.9L479.1 1075.2L487.9 1075.2L487.9 1065.3L496.6 1065.3L496.6 1052.2L505.4 1052.2L505.4 1051.2L514.2 1051.2L514.2 1045.9L523 1045.9L523 1050.3L531.8 1050.3L531.8 1035.2L540.5 1035.2L540.5 1035.2L549.3 1035.2L549.3 1035.2L558.1 1035.2L558.1 1035.2L566.9 1035.2L566.9 1035.2L575.7 1035.2L575.7 1035.2L584.5 1035.2L584.5 1035.2L593.2 1035.2L593.2 1035.2L602 1035.2L602 1038.1L610.8 1038.1L610.8 1035.2L619.6 1035.2L619.6 1035.2L628.4 1035.2L628.4 1044L637.1 1044L637.1 1035.2L645.9 1035.2L645.9 1036.5L654.7 1036.5L654.7 1035.2L663.5 1035.2L663.5 1035.2L672.3 1035.2L672.3 1035.2L681.1 1035.2L681.1 1035.2L689.8 1035.2L689.8 1035.2L698.6 1035.2L698.6 1035.2L707.4 1035.2L707.4 1035.2L716.2 1035.2L716.2 1035.2L725 1035.2L725 1035.2L733.8 1035.2L733.8 1035.2L742.5 1035.2L742.5 1035.2L751.3 1035.2L751.3 1035.2L760.1 1035.2L760.1 1035.2L768.9 1035.2L768.9 1035.2L777.7 1035.2L777.7 1035.2L786.4 1035.2L786.4 1035.2L795.2 1035.2L795.2 1035.2L804 1035.2L804 1035.2L812.8 1035.2L812.8 1035.2L821.6 1035.2L821.6 1035.2L830.4 1035.2L830.4 1035.2L839.1 1035.2L839.1 1035.2L847.9 1035.2L847.9 1035.2L856.7 1035.2L856.7 1035.2L865.5 1035.2L865.5 1035.2L874.3 1035.2L874.3 1035.2L883 1035.2L883 1035.2L891.8 1035.2L891.8 1035.2L900.6 1035.2L900.6 1245.5Z"/>
<path fill="#ff7f0e" d="M75.1 1245.5L75.1 1245.5L83.9 1245.5L83.9 1245.5L92.7 1245.5L92.7 1245.5L101.4 1245.5L101.4 1245.5L110.2 1245.5L110.2 1245.5L119 1245.5L119 1245.5L127.8 1245.5L127.8 1245.5L136.6 1245.5L136.6 1245.5L145.4 1245.5L145.4 1245.5L154.1 1245.5L154.1 1245.5L162.9 1245.5L162.9 1245.5L171.7 1245.5L171.7 1245.5L180.5 1245.5L180.5 1245.5L189.3 1245.5L189.3 1245.5L198 1245.5L198 1245.5L206.8 1245.5L206.8 1245.5L215.6 1245.5L215.6 1245.5L224.4 1245.5L224.4 1245.5L233.2 1245.5L233.2 1245.5L242 1245.5L242 1245.5L250.7 1245.5L250.7 1245.5L259.5 1245.5L259.5 1165.2L268.3 1165.2L268.3 1158L277.1 1158L277.1 1148.3L285.9 1148.3L285.9 1126.9L294.6 1126.9L294.6 1122.1L303.4 1122.1L303.4 1129.2L312.2 1129.2L312.2 1124.2L321 1124.2L321 1107.1L329.8 1107.1L329.8 1108L338.6 1108L338.6 1106.1L347.3 1106.1L347.3 1102.3L356.1 1102.3L356.1 1101L364.9 1101L364.9 1088.2L373.7 1088.2L373.7 1081.3L382.5 1081.3L382.5 1035.2L391.3 1035.2L391.3 1035.2L400 1035.2L400 1035.2L408.8 1035.2L408.8 1035.2L417.6 1035.2L417.6 1035.2L426.4 1035.2L426.4 1105.7L435.2 1105.7L435.2 1092.4L443.9 1092.4L443.9 1091.6L452.7 1091.6L452.7 1096.2L461.5 1096.2L461.5 1122.1L470.3 1122.1L470.3 1121.4L479.1 1121.4L479.1 1129.8L487.9 1129.8L487.9 1138.2L496.6 1138.2L496.6 1159.9L505.4 1159.9L505.4 1165.2L514.2 1165.2L514.2 1162.4L523 1162.4L523 1172.1L531.8 1172.1L531.8 1245.5L540.5 1245.5L540.5 1234.1L549.3 1234.1L549.3 1240.2L558.1 1240.2L558.1 1241.9L566.9 1241.9L566.9 1239.4L575.7 1239.4L575.7 1228.9L584.5 1228.9L584.5 1235.2L593.2 1235.2L593.2 1235.2L602 1235.2L602 1245.5L610.8 1245.5L610.8 1245.5L619.6 1245.5L619.6 1245.5L628.4 1245.5L628.4 1218.6L637.1 1218.6L637.1 1245.5L645.9 1245.5L645.9 1240.2L654.7 1240.2L654.7 1245.5L663.5 1245.5L663.5 1245.5L672.3 1245.5L672.3 1232.7L681.1 1232.7L681.1 1239.4L689.8 1239.4L689.8 1245.5L698.6 1245.5L698.6 1235.2L707.4 1235.2L707.4 1245.5L716.2 1245.5L716.2 1240.2L725 1240.2L725 1245.5L733.8 1245.5L733.8 1244.4L742.5 1244.4L742.5 1245.5L751.3 1245.5L751.3 1245.5L760.1 1245.5L760.1 1245.5L768.9 1245.5L768.9 1245.5L777.7 1245.5L777.7 1245.5L786.4 1245.5L786.4 1245.5L795.2 1245.5L795.2 1245.5L804 1245.5L804 1245.5L812.8 1245.5L812.8 1245.5L821.6 1245.5L821.6 1245.5L830.4 1245.5L830.4 1245.5L839.1 1245.5L839.1 1245.5L847.9 1245.5L847.9 1245.5L856.7 1245.5L856.7 1245.5L865.5 1245.5L865.5 1245.5L874.3 1245.5L874.3 1245.5L883 1245.5L883 1245.5L891.8 1245.5L891.8 1245.5L900.6 1245.5L900.6 1245.5Z"/>
<rect x="75.1" y="1261.9" width="183.7" height="8" fill="#1f77b4"/>
<rect x="261.2" y="1261.9" width="5" height="8" fill="#ff7f0e"/>
<rect x="266.2" y="1261.9" width="5" height="8" fill="#1f77b4"/>
<rect x="271.2" y="1261.9" width="5" height="8" fill="#ff7f0e"/>
<rect x="276.1" y="1261.9" width="5" height="8" fill="#1f77b4"/>
<rect x="281.1" y="1261.9" width="5" height="8" fill="#ff7f0e"/>
<rect x="286.1" y="1261.9" width="5" height="8" fill="#1f77b4"/>
<rect x="291.1" y="1261.9" width="5" height="8" fill="#ff7f0e"/>
<rect x="296.1" y="1261.9" width="5" height="8" fill="#1f77b4"/>
<rect x="301.1" y="1261.9" width="5" height="8" fill="#ff7f0e"/>
<rect x="306.1" y="1261.9" width="5" height="8" fill="#1f77b4"/>
<rect x="311" y="1261.9" width="5" height="8" fill="#ff7f0e"/>
<rect x="316" y="1261.9" width="5" height="8" fill="#1f77b4"/>
<rect x="321" y="1261.9" width="5" height="8" fill="#ff7f0e"/>
<rect x="326" y="1261.9" width="5" height="8" fill="#1f77b4"/>
<rect x="331" y="1261.9" width="5" height="8" fill="#ff7f0e"/>
<rect x="335.9" y="1261.9" width="5" height="8" fill="#1f77b4"/>
<rect x="340.9" y="1261.9" width="5" height="8" fill="#ff7f0e"/>
<rect x="345.9" y="1261.9" width="5" height="8" fill="#1f77b4"/>
<rect x="350.9" y="1261.9" width="5" height="8" fill="#ff7f0e"/>
<rect x="355.9" y="1261.9" width="5" height="8" fill="#1f77b4"/>
<rect x="360.9" y="1261.9" width="5" height="8" fill="#ff7f0e"/>
<rect x="365.9" y="1261.9" width="5" height="8" fill="#1f77b4"/>
<rect x="370.8" y="1261.9" width="5" height="8" fill="#ff7f0e"/>
<rect x="375.8" y="1261.9" width="5" height="8" fill="#1f77b4"/>
<rect x="383.2" y="1261.9" width="43.7" height="8" fill="#ff7f0e"/>
<rect x="429.3" y="1261.9" width="5.1" height="8" fill="#2ca02c"/>
<rect x="434.4" y="1261.9" width="5.1" height="8" fill="#ff7f0e"/>
<rect x="439.4" y="1261.9" width="5.1" height="8" fill="#2ca02c"/>
<rect x="444.5" y="1261.9" width="5.1" height="8" fill="#ff7f0e"/>
<rect x="449.6" y="1261.9" width="5.1" height="8" fill="#2ca02c"/>
<rect x="454.7" y="1261.9" width="5.1" height="8" fill="#ff7f0e"/>
<rect x="459.7" y="1261.9" width="5.1" height="8" fill="#2ca02c"/>
<rect x="464.8" y="1261.9" width="5.1" height="8" fill="#ff7f0e"/>
<rect x="469.9" y="1261.9" width="5.1" height="8" fill="#2ca02c"/>
<rect x="474.9" y="1261.9" width="5.1" height="8" fill="#ff7f0e"/>
<rect x="480" y="1261.9" width="5.1" height="8" fill="#2ca02c"/>
<rect x="485.1" y="1261.9" width="5.1" height="8" fill="#ff7f0e"/>
<rect x="490.1" y="1261.9" width="5.1" height="8" fill="#2ca02c"/>
<rect x="495.2" y="1261.9" width="5.1" height="8" fill="#ff7f0e"/>
<rect x="500.3" y="1261.9" width="5.1" height="8" fill="#2ca02c"/>
<rect x="505.4" y="1261.9" width="5.1" height="8" fill="#ff7f0e"/>
<rect x="510.4" y="1261.9" width="5.1" height="8" fill="#2ca02c"/>
<rect x="515.5" y="1261.9" width="5.1" height="8" fill="#ff7f0e"/>
<rect x="520.6" y="1261.9" width="5.1" height="8" fill="#2ca02c"/>
<rect x="525.6" y="1261.9" width="5.1" height="8" fill="#ff7f0e"/>
<rect x="533.8" y="1261.9" width="366.8" height="8" fill="#2ca02c"/>
</g>
<path d="M110.2 813.1V1023.3M110.2 1035.2V1245.5M119 813.1V1023.3M119 1035.2V1245.5M145.4 813.1V1023.3M145.4 1035.2V1245.5M154.1 813.1V1023.3M154.1 1035.2V1245.5M162.9 813.1V1023.3M162.9 1035.2V1245.5M189.3 813.1V1023.3M189.3 1035.2V1245.5M198 813.1V1023.3M198 1035.2V1245.5M233.2 813.1V1023.3M233.2 1035.2V1245.5M242 813.1V1023.3M242 1035.2V1245.5M268.3 813.1V1023.3M268.3 1035.2V1245.5M277.1 813.1V1023.3M277.1 1035.2V1245.5M285.9 813.1V1023.3M285.9 1035.2V1245.5M312.2 813.1V1023.3M312.2 1035.2V1245.5M321 813.1V1023.3M321 1035.2V1245.5M347.3 813.1V1023.3M347.3 1035.2V1245.5M356.1 813.1V1023.3M356.1 1035.2V1245.5M364.9 813.1V1023.3M364.9 1035.2V1245.5M391.3 813.1V1023.3M391.3 1035.2V1245.5M400 813.1V1023.3M400 1035.2V1245.5M435.2 813.1V1023.3M435.2 1035.2V1245.5M443.9 813.1V1023.3M443.9 1035.2V1245.5M470.3 813.1V1023.3M470.3 1035.2V1245.5M479.1 813.1V1023.3M479.1 1035.2V1245.5M487.9 813.1V1023.3M487.9 1035.2V1245.5M514.2 813.1V1023.3M514.2 1035.2V1245.5M523 813.1V1023.3M523 1035.2V1245.5M558.1 813.1V1023.3M558.1 1035.2V1245.5M566.9 813.1V1023.3M566.9 1035.2V1245.5M593.2 813.1V1023.3M593.2 1035.2V1245.5M602 813.1V1023.3M602 1035.2V1245.5M610.8 813.1V1023.3M610.8 1035.2V1245.5M637.1 813.1V1023.3M637.1 1035.2V1245.5M645.9 813.1V1023.3M645.9 1035.2V1245.5M681.1 813.1V1023.3M681.1 1035.2V1245.5M689.8 813.1V1023.3M689.8 1035.2V1245.5M716.2 813.1V1023.3M716.2 1035.2V1245.5M725 813.1V1023.3M725 1035.2V1245.5M733.8 813.1V1023.3M733.8 1035.2V1245.5M760.1 813.1V1023.3M760.1 1035.2V1245.5M768.9 813.1V1023.3M768.9 1035.2V1245.5M804 813.1V1023.3M804 1035.2V1245.5M812.8 813.1V1023.3M812.8 1035.2V1245.5M847.9 813.1V1023.3M847.9 1035.2V1245.5M856.7 813.1V1023.3M856.7 1035.2V1245.5M883 813.1V1023.3M883 1035.2V1245.5M891.8 813.1V1023.3M891.8 1035.2V1245.5" stroke="#fff" stroke-opacity="0.22" stroke-width="0.7" fill="none"/>
<text x="13.8" y="821.8" font-size="27" font-weight="bold">b</text>
<text x="145.5" y="1322.5" font-size="24" text-anchor="middle">YN</text>
<text x="315.6" y="1322.5" font-size="24" text-anchor="middle">Admixture1</text>
<text x="403.4" y="1322.5" font-size="24" text-anchor="middle">VN</text>
<text x="493.5" y="1322.5" font-size="24" text-anchor="middle">Admixture2</text>
<text x="717.5" y="1322.5" font-size="24" text-anchor="middle">SC</text>
<text x="62" y="939" font-size="27.3" text-anchor="middle" transform="rotate(-90 62 939)">K=2</text>
<text x="62" y="1162" font-size="27.3" text-anchor="middle" transform="rotate(-90 62 1162)">K=3</text>
<clipPath id="cc"><rect x="995.6" y="874" width="687.9" height="344.5"/></clipPath>
<g clip-path="url(#cc)">
<polyline fill="none" stroke="#1f77b4" stroke-width="3.9" stroke-linejoin="miter" points="996.3,1120.9 1010.5,1120.9 1010.5,1175.7 1037.4,1175.7 1037.4,1181.4 1046.6,1181.4 1046.6,1184.9 1074,1184.9 1074,1155.1 1100.3,1155.1 1100.3,1147.1 1124.3,1147.1 1124.3,1188.3 1143.7,1188.3 1143.7,1198.6 1165.4,1198.6 1165.4,1186 1186,1186 1186,1182.6 1205.4,1182.6 1205.4,1175.7 1228.3,1175.7 1228.3,1152.9 1244.3,1152.9 1244.3,1123.1 1262.6,1123.1 1262.6,1066 1280.9,1066 1280.9,992.9 1285.4,992.9 1285.4,947.1 1304.9,947.1 1304.9,962 1323.1,962 1323.1,971.1 1341.4,971.1 1341.4,988.3 1359.3,988.3 1359.3,1007.7 1372.3,1007.7 1372.3,994.5 1376.9,994.5 1376.9,962 1389.9,962 1389.9,941.9 1407.7,941.9 1407.7,936.9 1426,936.9 1426,941.4 1430.6,941.4 1430.6,964.3 1448.4,964.3 1448.4,923.1 1460.3,923.1 1460.3,898 1464.9,898 1464.9,895 1483.1,895 1483.1,893.4 1503.7,893.4"/>
<polyline fill="none" stroke="#1f77b4" stroke-width="3.9" stroke-linejoin="miter" points="996.3,1157.4 1014.6,1157.4 1014.6,1176.9 1042,1176.9 1042,1192.9 1070.6,1192.9 1070.6,1149.4 1096.9,1149.4 1096.9,1154 1123.1,1154 1123.1,1187.1 1144.9,1187.1 1144.9,1199.7 1167.7,1199.7 1167.7,1183.7 1188.3,1183.7 1188.3,1180.3 1207.7,1180.3 1207.7,1173.4 1229.4,1173.4 1229.4,1162 1247.7,1162 1247.7,1128.9 1266,1128.9 1266,1076.3 1284.3,1076.3 1284.3,992.9 1299.1,992.9 1299.1,975.7 1318.6,975.7 1318.6,976.9 1336.9,976.9 1336.9,1000.9 1355.1,1000.9 1355.1,1019.1 1371.1,1019.1 1371.1,994.5 1391.7,994.5 1391.7,960.9 1412.3,960.9 1412.3,936.9 1423.7,936.9 1423.7,941.4 1444.3,941.4 1444.3,942.6 1464.9,942.6 1464.9,899.1 1480.9,899.1 1480.9,893.4 1501.4,893.4"/>
<polyline fill="none" stroke="#2ca02c" stroke-width="3.9" stroke-linejoin="miter" points="998.6,1208.9 1003.1,1208.9 1003.1,1082 1041.3,1082 1041.3,1159.7 1071.7,1159.7 1071.7,1166.6 1100.3,1166.6 1100.3,1158.6 1116.3,1158.6 1116.3,1144.9 1139.1,1144.9 1139.1,1156.3 1160.9,1156.3 1160.9,1159.7 1202,1159.7 1202,1167.7 1222.6,1167.7 1222.6,1164.3 1238.6,1164.3 1238.6,1149.4 1256.9,1149.4 1256.9,1123.1 1272.9,1123.1 1272.9,1067.1 1288.9,1067.1 1288.9,1070.6 1295.7,1070.6 1295.7,1012.7 1311.7,1012.7 1311.7,1026 1330,1026 1330,1051.1 1348.3,1051.1 1348.3,1045.4 1366.6,1045.4 1366.6,1024.9 1384.9,1024.9 1384.9,999.7 1403.1,999.7 1403.1,967.7 1420.3,967.7 1420.3,931.1 1437.4,931.1 1437.4,915.1 1456.9,915.1 1456.9,908.3 1472.9,908.3 1472.9,899.1 1508.3,899.1 1508.3,1034 1534.6,1034"/>
<polyline fill="none" stroke="#2ca02c" stroke-width="3.9" stroke-linejoin="miter" points="998.6,1206.6 1007.7,1206.6 1007.7,1180.3 1038.6,1180.3 1038.6,1168.9 1067.1,1168.9 1067.1,1172.3 1093.4,1172.3 1093.4,1167.7 1103.7,1167.7 1103.7,1160.9 1158.6,1160.9 1158.6,1158.6 1181.4,1158.6 1181.4,1163.1 1200.9,1163.1 1200.9,1170 1220.3,1170 1220.3,1166.6 1240.9,1166.6 1240.9,1155.1 1259.1,1155.1 1259.1,1131.1 1276.3,1131.1 1276.3,1085.4 1292.3,1085.4 1292.3,1067.1 1296.9,1067.1 1296.9,1019.1 1311.7,1019.1 1311.7,1027.1 1330,1027.1 1330,1052.3 1368.9,1052.3 1368.9,1032.9 1387.1,1032.9 1387.1,996.3 1405.4,996.3 1405.4,981.4 1422.6,981.4 1422.6,973.4 1439.7,973.4 1439.7,927.7 1458,927.7 1458,911.7 1476.3,911.7 1476.3,903.7 1492.3,903.7 1492.3,900.3 1508.3,900.3"/>
<polyline fill="none" stroke="#ff7f0e" stroke-width="3.9" stroke-linejoin="miter" points="996.3,1179.1 1028.3,1179.1 1028.3,1202 1090,1202 1090,1196.3 1117.4,1196.3 1117.4,1166.6 1140.3,1166.6 1140.3,1157.4 1160.9,1157.4 1160.9,1156.3 1183.7,1156.3 1183.7,1162 1204.3,1162 1204.3,1167.7 1224.9,1167.7 1224.9,1162 1243.1,1162 1243.1,1147.1 1262.6,1147.1 1262.6,1094.6 1280.9,1094.6 1280.9,1011.1 1299.1,1011.1 1299.1,990.6 1317.9,990.6 1317.9,1006.6 1336.9,1006.6 1336.9,1036.3 1354,1036.3 1354,1019.1 1372.3,1019.1 1372.3,1010 1390.6,1010 1390.6,982.6 1407.7,982.6 1407.7,924.7 1428.3,924.7 1428.3,926.6 1444.3,926.6 1444.3,930 1460.3,930 1460.3,906 1477.4,906 1477.4,881.5 1495.7,881.5 1495.7,988.3 1521.5,988.3"/>
<polyline fill="none" stroke="#ff7f0e" stroke-width="3.9" stroke-linejoin="miter" points="996.3,1188.3 1027.1,1188.3 1027.1,1199.7 1087.7,1199.7 1087.7,1195.1 1114,1195.1 1114,1172.3 1138,1172.3 1138,1165.4 1163.1,1165.4 1163.1,1160.9 1181.4,1160.9 1181.4,1166.6 1203.1,1166.6 1203.1,1170 1222.6,1170 1222.6,1163.1 1240.9,1163.1 1240.9,1148.3 1264.9,1148.3 1264.9,1100.3 1283.1,1100.3 1283.1,1045.4 1301.4,1045.4 1301.4,1007.7 1316.3,1007.7 1316.3,1026 1335.7,1026 1335.7,1055.7 1354,1055.7 1354,1032.9 1372.3,1032.9 1372.3,1020.3 1389.4,1020.3 1389.4,995.1 1407.7,995.1 1407.7,943.7 1424.9,943.7 1424.9,949.4 1444.3,949.4 1444.3,954.7 1461.4,954.7 1461.4,916.3 1478.6,916.3 1478.6,888.9 1496.9,888.9 1496.9,994.5 1523.1,994.5"/>
</g>
<rect x="1023" y="874" width="76.1" height="344.5" fill="#9fcdf0" fill-opacity="0.55"/>
<rect x="1064.6" y="874" width="23.1" height="344.5" fill="#7fbde8" fill-opacity="0.4"/>
<rect x="1235.1" y="874" width="53.8" height="344.5" fill="#9fcdf0" fill-opacity="0.55"/>
<rect x="995.6" y="874" width="687.9" height="344.5" fill="none" stroke="#000" stroke-width="2.2"/>
<path d="M995.6 1218.5h7M1683.5 1218.5h-7M995.6 1169.3h7M1683.5 1169.3h-7M995.6 1120.1h7M1683.5 1120.1h-7M995.6 1070.9h7M1683.5 1070.9h-7M995.6 1021.6h7M1683.5 1021.6h-7M995.6 972.4h7M1683.5 972.4h-7M995.6 923.2h7M1683.5 923.2h-7M995.6 874h7M1683.5 874h-7M995.6 1218.5v-7M995.6 874v7M1224.9 1218.5v-7M1224.9 874v7M1454.2 1218.5v-7M1454.2 874v7M1683.5 1218.5v-7M1683.5 874v7" stroke="#000" stroke-width="2" fill="none"/>
<path d="M995.6 1213.6h3.5M1683.5 1213.6h-3.5M995.6 1208.7h3.5M1683.5 1208.7h-3.5M995.6 1203.7h3.5M1683.5 1203.7h-3.5M995.6 1198.8h3.5M1683.5 1198.8h-3.5M995.6 1193.9h3.5M1683.5 1193.9h-3.5M995.6 1189h3.5M1683.5 1189h-3.5M995.6 1184h3.5M1683.5 1184h-3.5M995.6 1179.1h3.5M1683.5 1179.1h-3.5M995.6 1174.2h3.5M1683.5 1174.2h-3.5M995.6 1164.4h3.5M1683.5 1164.4h-3.5M995.6 1159.4h3.5M1683.5 1159.4h-3.5M995.6 1154.5h3.5M1683.5 1154.5h-3.5M995.6 1149.6h3.5M1683.5 1149.6h-3.5M995.6 1144.7h3.5M1683.5 1144.7h-3.5M995.6 1139.8h3.5M1683.5 1139.8h-3.5M995.6 1134.8h3.5M1683.5 1134.8h-3.5M995.6 1129.9h3.5M1683.5 1129.9h-3.5M995.6 1125h3.5M1683.5 1125h-3.5M995.6 1115.2h3.5M1683.5 1115.2h-3.5M995.6 1110.2h3.5M1683.5 1110.2h-3.5M995.6 1105.3h3.5M1683.5 1105.3h-3.5M995.6 1100.4h3.5M1683.5 1100.4h-3.5M995.6 1095.5h3.5M1683.5 1095.5h-3.5M995.6 1090.5h3.5M1683.5 1090.5h-3.5M995.6 1085.6h3.5M1683.5 1085.6h-3.5M995.6 1080.7h3.5M1683.5 1080.7h-3.5M995.6 1075.8h3.5M1683.5 1075.8h-3.5M995.6 1065.9h3.5M1683.5 1065.9h-3.5M995.6 1061h3.5M1683.5 1061h-3.5M995.6 1056.1h3.5M1683.5 1056.1h-3.5M995.6 1051.2h3.5M1683.5 1051.2h-3.5M995.6 1046.2h3.5M1683.5 1046.2h-3.5M995.6 1041.3h3.5M1683.5 1041.3h-3.5M995.6 1036.4h3.5M1683.5 1036.4h-3.5M995.6 1031.5h3.5M1683.5 1031.5h-3.5M995.6 1026.6h3.5M1683.5 1026.6h-3.5M995.6 1016.7h3.5M1683.5 1016.7h-3.5M995.6 1011.8h3.5M1683.5 1011.8h-3.5M995.6 1006.9h3.5M1683.5 1006.9h-3.5M995.6 1002h3.5M1683.5 1002h-3.5M995.6 997h3.5M1683.5 997h-3.5M995.6 992.1h3.5M1683.5 992.1h-3.5M995.6 987.2h3.5M1683.5 987.2h-3.5M995.6 982.3h3.5M1683.5 982.3h-3.5M995.6 977.4h3.5M1683.5 977.4h-3.5M995.6 967.5h3.5M1683.5 967.5h-3.5M995.6 962.6h3.5M1683.5 962.6h-3.5M995.6 957.7h3.5M1683.5 957.7h-3.5M995.6 952.7h3.5M1683.5 952.7h-3.5M995.6 947.8h3.5M1683.5 947.8h-3.5M995.6 942.9h3.5M1683.5 942.9h-3.5M995.6 938h3.5M1683.5 938h-3.5M995.6 933.1h3.5M1683.5 933.1h-3.5M995.6 928.1h3.5M1683.5 928.1h-3.5M995.6 918.3h3.5M1683.5 918.3h-3.5M995.6 913.4h3.5M1683.5 913.4h-3.5M995.6 908.5h3.5M1683.5 908.5h-3.5M995.6 903.5h3.5M1683.5 903.5h-3.5M995.6 898.6h3.5M1683.5 898.6h-3.5M995.6 893.7h3.5M1683.5 893.7h-3.5M995.6 888.8h3.5M1683.5 888.8h-3.5M995.6 883.8h3.5M1683.5 883.8h-3.5M995.6 878.9h3.5M1683.5 878.9h-3.5M1064.6 1218.5v-3.5M1064.6 874v3.5M1105 1218.5v-3.5M1105 874v3.5M1133.7 1218.5v-3.5M1133.7 874v3.5M1155.9 1218.5v-3.5M1155.9 874v3.5M1174 1218.5v-3.5M1174 874v3.5M1189.4 1218.5v-3.5M1189.4 874v3.5M1202.7 1218.5v-3.5M1202.7 874v3.5M1214.4 1218.5v-3.5M1214.4 874v3.5M1293.9 1218.5v-3.5M1293.9 874v3.5M1334.3 1218.5v-3.5M1334.3 874v3.5M1363 1218.5v-3.5M1363 874v3.5M1385.2 1218.5v-3.5M1385.2 874v3.5M1403.3 1218.5v-3.5M1403.3 874v3.5M1418.7 1218.5v-3.5M1418.7 874v3.5M1432 1218.5v-3.5M1432 874v3.5M1443.7 1218.5v-3.5M1443.7 874v3.5M1523.2 1218.5v-3.5M1523.2 874v3.5M1563.6 1218.5v-3.5M1563.6 874v3.5M1592.3 1218.5v-3.5M1592.3 874v3.5M1614.5 1218.5v-3.5M1614.5 874v3.5M1632.6 1218.5v-3.5M1632.6 874v3.5M1648 1218.5v-3.5M1648 874v3.5M1661.3 1218.5v-3.5M1661.3 874v3.5M1673 1218.5v-3.5M1673 874v3.5" stroke="#000" stroke-width="1.4" fill="none"/>
<text x="989" y="1228.1" font-size="26" text-anchor="end">0</text>
<text x="989" y="1178.9" font-size="26" text-anchor="end">1</text>
<text x="989" y="1129.7" font-size="26" text-anchor="end">2</text>
<text x="989" y="1080.5" font-size="26" text-anchor="end">3</text>
<text x="989" y="1031.2" font-size="26" text-anchor="end">4</text>
<text x="989" y="982" font-size="26" text-anchor="end">5</text>
<text x="989" y="932.8" font-size="26" text-anchor="end">6</text>
<text x="989" y="883.6" font-size="26" text-anchor="end">7</text>
<text x="978.6" y="1259" font-size="27.5">10<tspan font-size="17" dy="-10">4</tspan></text>
<text x="1198.3" y="1259" font-size="27.5">10<tspan font-size="17" dy="-10">5</tspan></text>
<text x="1428.4" y="1259" font-size="27.5">10<tspan font-size="17" dy="-10">6</tspan></text>
<text x="1657" y="1259" font-size="27.5">10<tspan font-size="17" dy="-10">7</tspan></text>
<text x="1313.2" y="1318.4" font-size="28.5" text-anchor="middle">Years (g=5, μ=1.25×10<tspan font-size="17.5" dy="-10">-8</tspan><tspan dy="10">)</tspan></text>
<text x="955.6" y="1049.9" font-size="24.5" text-anchor="middle" transform="rotate(-90 955.6 1049.9)">Effective population size (x10<tspan font-size="15.5" dy="-8.5">4</tspan><tspan dy="8.5">)</tspan></text>
<text x="941" y="820.5" font-size="27" font-weight="bold">c</text>
<text x="1061.8" y="949.8" font-size="28" text-anchor="middle">MIS2</text>
<text x="1262" y="932.7" font-size="28" text-anchor="middle">MIS6</text>
<text x="1076.6" y="909" font-size="19.5" text-anchor="middle">LGM</text>
<text x="1600.5" y="899" font-size="24" text-anchor="end">YN</text>
<path d="M1613.5 890H1661.5" stroke="#1f77b4" stroke-width="4" fill="none"/>
<text x="1600.5" y="924" font-size="24" text-anchor="end">VN</text>
<path d="M1613.5 915H1661.5" stroke="#ff7f0e" stroke-width="4" fill="none"/>
<text x="1600.5" y="949" font-size="24" text-anchor="end">SC</text>
<path d="M1613.5 940H1661.5" stroke="#2ca02c" stroke-width="4" fill="none"/>
<text x="16" y="1376.3" font-size="27" font-weight="bold">d</text>
<path d="M58.8 1980.3V1425" stroke="#000" stroke-width="1.9" fill="none"/>
<path d="M58.8 1413.9L49.1 1431.8L58.8 1427.5L68.6 1431.8Z" fill="#000"/>
<path d="M58.8 1537.4H68.8M58.8 1634.1H68.8" stroke="#000" stroke-width="1.6" fill="none"/>
<path d="M48.3 1576.3L69.8 1588.4M48.3 1589.8L69.8 1601.5" stroke="#000" stroke-width="1.6" fill="none"/>
<text x="81" y="1440" font-size="28.3" style="font-kerning:none">PAST</text>
<text x="76" y="1546.8" font-size="26">~103 Kya</text>
<text x="81.9" y="1643" font-size="26">~35 Kya</text>
<g shape-rendering="crispEdges">
<rect x="245.2" y="1437.2" width="443.6" height="100.4" fill="#b2b2b2"/>
<rect x="540" y="1533" width="292.7" height="100.6" fill="#b2b2b2"/>
<rect x="196.1" y="1537.5" width="100.6" height="442.8" fill="#1f77b4"/>
<rect x="490" y="1633.6" width="100.8" height="346.7" fill="#ff7f0e"/>
<rect x="780.1" y="1633.6" width="101" height="346.7" fill="#2ca02c"/>
</g>
<text x="467" y="1483.8" font-size="28.3" text-anchor="middle">NANC2</text>
<text x="467" y="1517.6" font-size="28.3" text-anchor="middle">64717</text>
<text x="700.7" y="1577.3" font-size="28.3" text-anchor="middle">NANC1</text>
<text x="701" y="1611.4" font-size="28.3" text-anchor="middle">42290</text>
<text x="246.3" y="1921.4" font-size="28.3" text-anchor="middle">NPOP0</text>
<text x="246.3" y="1955.5" font-size="28.3" text-anchor="middle">43747</text>
<text x="540.5" y="1921.4" font-size="28.3" text-anchor="middle">NPOP1</text>
<text x="540.5" y="1955.5" font-size="28.3" text-anchor="middle">7081</text>
<text x="830.5" y="1921.4" font-size="28.3" text-anchor="middle">NPOP2</text>
<text x="830.5" y="1955.5" font-size="28.3" text-anchor="middle">15753</text>
<text x="240" y="2018.6" font-size="27.5" text-anchor="middle">YN</text>
<text x="540" y="2018.6" font-size="27.5" text-anchor="middle">VN</text>
<text x="830.5" y="2018.6" font-size="27.5" text-anchor="middle">SC</text>
<path d="M501 1586.3H347.7" stroke="#000" stroke-width="2.8" fill="none"/><path d="M327.7 1586.3L353.2 1575.3L348.2 1586.3L353.2 1597.3Z" fill="#000"/>
<path d="M331.1 1602.3H491" stroke="#000" stroke-width="1.7" fill="none"/><path d="M505 1602.3L487 1594.8L490.5 1602.3L487 1609.8Z" fill="#000"/>
<text x="400.6" y="1572.3" font-size="25.9" text-anchor="middle">7.70E-5</text>
<text x="405.5" y="1635.4" font-size="25.9" text-anchor="middle">3.74E-6</text>
<path d="M770.1 1682.8H610.4" stroke="#000" stroke-width="1.7" fill="none"/><path d="M596.4 1682.8L614.4 1675.3L610.9 1682.8L614.4 1690.3Z" fill="#000"/>
<path d="M600.4 1699.2H754.6" stroke="#000" stroke-width="2.8" fill="none"/><path d="M774.6 1699.2L749.1 1688.2L754.1 1699.2L749.1 1710.2Z" fill="#000"/>
<text x="683" y="1671.8" font-size="25.9" text-anchor="middle">5.56E-5</text>
<text x="683" y="1732.5" font-size="25.9" text-anchor="middle">2.38E-5</text>
<path d="M478.5 1921.9H325" stroke="#000" stroke-width="2.8" fill="none"/><path d="M305 1921.9L330.5 1910.9L325.5 1921.9L330.5 1932.9Z" fill="#000"/>
<path d="M308.9 1938.3H468.5" stroke="#000" stroke-width="1.7" fill="none"/><path d="M482.5 1938.3L464.5 1930.8L468 1938.3L464.5 1945.8Z" fill="#000"/>
<text x="399" y="1909.3" font-size="25.9" text-anchor="middle">3.81E-5</text>
<text x="399" y="1971.6" font-size="25.9" text-anchor="middle">1.34E-6</text>
<text x="943.6" y="1372.5" font-size="27" font-weight="bold">e</text>
<g transform="translate(984 1501.44) scale(7.0774 4.8774)" fill="none" stroke-width="1.04" shape-rendering="crispEdges">
<path stroke="#4575b4" d="M20 11h26M51 11h22M20 12h26M51 12h22M20 13h26M51 13h22M20 14h26M51 14h22M20 15h26M51 15h22M87 15h1M20 16h26M51 16h22M87 16h1M20 17h26M51 17h22M87 17h1M20 18h68M20 19h68M11 20h77M11 21h10M23 21h11M51 21h8M11 22h10M23 22h11M51 22h8M11 23h23M51 23h8M11 24h13M11 25h13M11 26h13M11 27h13M11 28h13M11 29h13M11 30h13M11 31h13M51 31h5M11 32h13M51 32h5M11 33h13M51 33h5M11 34h10M51 34h5M11 35h10M51 35h10M11 36h10M51 36h10M11 37h10M51 37h10M11 38h10M51 38h10M11 39h10M51 39h18M11 40h10M51 40h18M11 41h10M51 41h18M11 42h10M51 42h18M11 43h10M51 43h18M11 44h10M51 44h18M11 45h10M51 45h18M18 46h3M51 46h18M18 47h3M51 47h29M18 48h3M51 48h29M18 49h3M51 49h29M18 50h3M51 50h29M10 51h14M31 51h49M11 52h13M31 52h21M11 53h13M31 53h21M11 54h13M31 54h21M11 55h13M31 55h21M11 56h13M35 56h17M11 57h13M35 57h17M11 58h13M35 58h17M10 59h11M35 59h17M11 60h10M35 60h17M11 61h10M39 61h13M11 62h10M39 62h13M11 63h10M39 63h13M11 64h10M39 64h13M11 65h10M39 65h13M11 66h10M39 66h13M11 67h10M39 67h13M11 68h10M39 68h13M11 69h10M47 69h5M11 70h10M47 70h5M11 71h10M47 71h5M11 72h10M47 72h5M18 73h3M47 73h5M18 74h3M47 74h5M18 75h3M47 75h5M18 76h3M47 76h5M18 77h3M47 77h5M18 78h3M47 78h5M18 79h3M47 79h5M18 80h3M18 81h3M18 82h3M18 83h3M18 84h3M18 85h3M18 86h3M18 87h3"/>
<path stroke="#4f7fb9" d="M89 1h1M72 2h1M92 2h1M76 3h1M73 4h1M85 7h1M53 8h1M61 8h1M64 10h1M80 11h1M81 12h1M86 12h1M82 16h1M86 16h1M92 19h1M2 36h1M3 52h1M5 62h1M9 64h1M10 65h1M3 67h1M4 69h1M7 71h1M5 73h1M12 73h1M17 77h1M7 78h1M16 87h1M13 88h1M16 89h1M1 92h2M5 92h1"/>
<path stroke="#5989be" d="M61 0h1M73 1h1M55 2h1M59 3h1M87 3h1M92 5h1M80 6h1M61 7h1M84 9h1M90 10h1M84 12h1M1 52h1M10 53h1M6 55h1M1 63h1M14 75h1M14 87h1M7 88h1M9 91h1M9 92h1"/>
<path stroke="#6393c4" d="M53 0h1M86 0h1M92 1h1M73 5h1M90 5h1M60 6h1M87 6h1M80 7h1M90 7h1M37 9h1M51 9h1M89 13h1M77 14h1M83 14h1M88 15h1M82 17h1M5 60h1M9 61h1M1 72h1"/>
<path stroke="#6e9cc9" d="M90 3h1M92 3h1M77 4h1M54 7h1M73 7h1M82 7h1M91 7h1M52 9h1M57 9h1M63 10h1M91 10h1M85 11h1M79 13h2M84 16h1M92 16h1M88 19h1M89 20h1M8 34h1M0 35h1M1 36h1M2 52h1M4 53h1M10 55h1M7 59h1M4 62h1M3 68h1M13 75h1M6 77h1M8 81h1M19 89h1M19 90h1M16 91h1M12 92h2"/>
<path stroke="#78a6ce" d="M37 0h1M90 4h1M65 5h1M89 5h1M36 9h1M83 13h1M92 13h1M88 14h1M76 15h1M88 17h1M2 51h1M9 72h1M2 88h2M6 89h1M3 90h1M0 91h1M6 92h1"/>
<path stroke="#82b0d3" d="M85 4h1M91 4h1M92 7h1M89 9h1M92 11h1M82 13h1M88 13h1M90 14h1M89 18h1M89 19h1M4 67h1M1 87h1M4 87h1M7 87h1M6 88h1M20 89h1M5 90h1M7 90h1M9 90h1"/>
<path stroke="#8cbad8" d="M88 5h1M90 8h1M88 9h1M83 10h1M90 15h1M92 18h1M90 19h1M4 66h1M6 67h1M1 81h1M9 87h1M15 87h1M17 88h1M2 89h1M2 90h1M4 91h1M8 91h1M12 91h1M0 92h1M7 92h1M15 92h1M18 92h1"/>
<path stroke="#96c2dd" d="M83 0h1M81 1h1M90 2h2M74 3h1M77 3h1M80 3h1M89 3h1M34 7h1M79 8h1M78 11h1M91 12h1M91 13h1M92 14h1M92 17h1M4 51h1M9 62h1M2 66h1M17 87h1M5 89h1M8 89h1M17 90h1M5 91h1M7 91h1M17 91h1M14 92h1"/>
<path stroke="#a1c9e1" d="M79 0h1M58 1h1M76 2h1M80 2h1M82 2h1M81 4h2M89 4h1M79 5h1M91 6h1M52 7h1M89 8h1M91 8h1M80 10h1M87 10h1M80 12h1M82 14h1M75 17h2M91 19h1M88 20h1M90 20h2M1 55h1M8 60h1M7 66h1M9 67h1M9 70h1M10 71h1M0 78h1M0 87h1M10 88h1M14 88h2M18 88h1M3 89h1M7 89h1M9 89h1M11 89h2M17 89h1M15 90h1M3 92h1"/>
<path stroke="#abd0e5" d="M34 0h1M56 0h1M92 0h1M56 1h1M63 1h1M91 1h1M63 2h1M54 3h1M56 3h1M58 3h1M63 3h1M83 3h1M54 4h1M88 4h1M78 5h1M65 6h1M79 6h1M89 6h1M92 6h1M58 8h1M80 8h2M85 8h1M88 8h1M80 9h1M90 9h1M59 10h1M91 11h1M89 12h2M75 13h1M81 13h1M79 14h3M89 14h1M77 15h1M90 16h1M83 17h2M88 18h1M90 18h1M92 20h1M9 35h1M9 51h1M5 53h1M1 56h1M0 61h1M2 63h1M8 66h1M8 67h1M1 68h1M0 70h1M6 70h1M6 75h1M16 76h1M3 82h1M10 87h1M4 88h1M10 89h1M20 90h1M10 91h1M17 92h1"/>
<path stroke="#b6d7e9" d="M51 1h1M75 1h1M82 1h1M85 1h1M59 2h1M62 3h1M65 3h1M52 4h1M80 4h1M36 5h1M51 5h3M55 5h1M81 5h1M77 6h1M84 6h1M88 6h1M74 7h1M78 7h2M88 7h2M77 8h1M83 8h1M60 9h2M79 9h1M82 9h1M92 9h1M79 10h1M81 10h1M89 11h1M88 12h1M76 13h1M81 15h1M85 15h1M92 15h1M74 16h1M88 16h1M81 17h1M89 17h3M6 35h1M3 37h1M0 52h1M0 56h1M8 56h1M2 59h1M6 64h1M10 69h1M0 71h1M4 71h1M7 77h1M14 77h1M15 86h1M2 87h1M1 89h1M18 89h1M1 90h1M6 90h1M18 90h1M11 91h1M13 91h1M15 91h1M19 91h1M19 92h1"/>
<path stroke="#c0deec" d="M36 0h1M65 0h1M90 0h1M54 1h1M76 1h2M88 1h1M87 2h2M53 3h1M86 3h1M88 3h1M91 3h1M51 4h1M56 4h1M58 4h1M63 4h1M79 4h1M57 5h2M82 5h1M86 5h1M91 5h1M56 6h1M82 6h1M85 6h1M90 6h1M60 7h1M63 8h1M84 8h1M86 8h1M54 9h2M65 9h1M81 9h1M87 9h1M91 9h1M76 10h2M82 10h1M92 10h1M82 11h2M88 11h1M90 11h1M73 12h1M78 12h1M83 12h1M92 12h1M77 13h1M76 14h1M80 15h1M91 15h1M91 16h1M80 17h1M91 18h1M7 34h1M6 36h1M8 36h1M8 37h1M6 51h1M7 52h2M7 56h1M10 56h1M2 60h1M2 61h1M4 61h1M6 61h1M10 61h1M6 63h1M3 64h1M7 64h1M1 66h1M7 67h1M5 68h1M4 70h1M9 71h1M8 73h2M13 73h1M16 74h1M12 75h1M17 78h1M7 81h1M16 81h1M10 82h1M11 87h1M1 88h1M14 89h1M0 90h1M4 90h1M14 90h1M3 91h1M6 91h1M18 91h1M4 92h1M10 92h1"/>
<path stroke="#cbe5f0" d="M60 0h1M64 0h1M82 0h1M85 0h1M89 0h1M91 0h1M52 1h1M87 1h1M51 2h2M61 2h1M81 2h1M35 3h1M64 3h1M85 3h1M47 4h1M53 4h1M57 4h1M78 4h1M92 4h1M54 5h1M62 5h1M75 5h1M80 5h1M83 5h1M37 6h1M58 6h1M78 6h1M86 6h1M59 7h1M65 7h1M75 7h1M86 7h1M37 8h1M51 8h1M54 8h1M57 8h1M62 8h1M53 9h1M58 9h1M63 9h2M77 9h1M37 10h1M52 10h2M61 10h1M84 10h1M73 14h1M89 15h1M89 16h1M73 17h1M77 17h1M7 51h1M0 53h1M3 55h1M3 56h1M9 56h1M6 59h1M0 62h1M0 64h2M5 64h1M10 64h1M4 65h1M7 65h2M5 66h1M2 67h1M9 69h1M2 70h1M3 72h1M7 74h1M3 75h1M5 75h1M15 75h1M17 75h1M13 76h1M12 77h1M9 78h1M0 81h1M3 81h1M5 81h1M17 82h1M3 86h1M11 86h1M5 87h1M13 87h1M0 89h1M4 89h1M11 90h1M2 91h1M14 91h1M16 92h1"/>
<path stroke="#d5ecf4" d="M35 0h1M54 0h2M58 0h1M62 0h1M75 0h1M78 0h1M80 0h1M84 0h1M37 1h1M53 1h1M55 1h1M59 1h1M79 1h1M54 2h1M62 2h1M64 2h2M83 2h2M89 2h1M36 3h1M51 3h1M60 3h1M73 3h1M75 3h1M79 3h1M81 3h1M35 4h1M37 4h1M55 4h1M60 4h1M83 4h1M86 4h1M74 5h1M76 5h1M84 5h1M36 6h1M54 6h1M59 6h1M62 6h1M72 6h2M75 6h1M55 7h1M69 7h1M71 7h1M77 7h1M64 8h1M75 8h2M92 8h1M34 9h2M75 9h1M78 9h1M86 9h1M51 10h1M60 10h1M89 10h1M81 11h1M76 12h1M78 13h1M78 14h1M82 15h1M86 15h1M77 16h1M10 34h1M1 35h1M4 35h1M5 36h1M7 36h1M0 37h1M17 50h1M0 51h1M3 51h1M8 51h1M5 52h1M10 52h1M2 53h1M6 53h1M0 59h1M3 59h3M8 59h1M0 60h1M3 60h1M7 60h1M7 62h1M3 63h1M3 65h1M9 66h1M10 67h1M2 68h1M6 68h3M1 69h1M3 69h1M6 71h1M8 71h1M7 72h1M10 73h1M14 73h2M8 74h1M11 75h1M0 77h1M13 77h1M15 77h1M6 78h1M2 81h1M15 81h1M2 82h1M6 83h1M9 83h1M11 83h1M13 83h1M0 86h1M4 86h1M12 86h1M12 87h1M0 88h1M5 88h1M8 88h1M11 88h1M16 88h1M20 88h1M13 89h1M15 89h1M20 91h1M11 92h1M20 92h1"/>
<path stroke="#e0f3f8" d="M51 0h2M72 0h1M76 0h1M81 0h1M57 1h1M70 1h1M78 1h1M80 1h1M83 1h1M90 1h1M36 2h2M53 2h1M57 2h1M79 2h1M47 3h1M52 3h1M55 3h1M78 3h1M84 3h1M49 4h1M87 4h1M46 5h1M48 5h1M59 5h1M63 5h2M68 5h1M72 5h1M87 5h1M34 6h1M52 6h1M61 6h1M70 6h1M83 6h1M35 7h1M46 7h1M57 7h1M66 7h1M72 7h1M81 7h1M56 8h1M60 8h1M65 8h1M82 8h1M87 8h1M71 9h2M83 9h1M65 10h1M73 10h1M88 10h1M73 11h2M79 11h1M84 11h1M86 11h1M85 12h1M46 13h1M49 14h1M74 14h2M46 15h1M84 15h1M46 16h1M80 16h1M86 17h1M2 34h2M6 34h1M5 35h1M8 35h1M10 35h1M0 36h1M3 36h1M2 37h1M9 37h1M6 46h1M17 47h1M1 51h1M4 52h1M9 52h1M0 55h1M8 55h1M4 56h2M9 59h1M4 60h1M5 63h1M10 63h1M4 64h1M5 65h1M0 66h1M3 66h1M5 67h1M0 68h1M0 69h1M1 70h1M5 70h1M8 70h1M10 70h1M10 72h1M4 74h1M9 74h3M14 74h2M0 75h1M4 75h1M9 75h1M6 76h2M10 76h3M16 77h1M8 78h1M15 78h1M4 81h1M9 81h1M11 81h1M13 81h2M0 82h1M14 82h1M3 83h2M10 83h1M14 83h2M8 86h2M6 87h1M9 88h1M19 88h1M12 90h2M1 91h1"/>
<path stroke="#e4f5f0" d="M57 0h1M66 0h2M69 0h1M88 0h1M34 1h1M36 1h1M47 1h1M50 1h1M67 1h1M74 1h1M84 1h1M86 1h1M34 2h1M71 2h1M73 2h1M77 2h1M86 2h1M34 3h1M57 3h1M82 3h1M61 4h2M64 4h2M71 4h2M75 4h1M34 5h1M47 5h1M67 5h1M70 5h1M47 6h1M57 6h1M68 6h1M76 6h1M81 6h1M63 7h1M83 7h1M34 8h1M36 8h1M52 8h1M59 8h1M71 8h1M49 9h2M35 10h1M46 10h1M54 10h1M71 10h1M78 10h1M85 10h1M49 11h1M47 12h1M74 12h2M79 12h1M87 12h1M49 13h1M85 13h1M46 14h1M87 14h1M49 15h1M73 15h1M78 15h1M50 16h1M76 16h1M81 16h1M85 16h1M74 17h1M79 17h1M4 34h1M9 34h1M2 35h1M7 35h1M4 36h1M9 36h1M5 37h1M7 37h1M0 46h1M15 47h1M85 47h2M3 48h1M8 48h1M1 49h1M7 49h1M17 49h1M7 50h1M2 55h1M5 55h1M10 60h1M7 61h1M6 62h1M2 64h1M2 65h1M9 65h1M4 72h1M6 73h1M16 73h2M1 74h1M13 74h1M8 76h1M5 77h1M10 77h2M3 78h2M11 78h2M16 78h1M6 81h1M17 81h1M8 82h1M8 83h1M2 86h1M5 86h1M7 86h1M13 86h1M8 92h1"/>
<path stroke="#e8f6e9" d="M49 0h1M68 0h1M71 0h1M77 0h1M49 1h1M60 1h1M64 1h1M58 2h1M70 2h1M75 2h1M46 3h1M50 3h1M66 3h1M70 3h1M36 4h1M48 4h1M59 4h1M67 4h2M74 4h1M37 5h1M50 5h1M77 5h1M85 5h1M35 6h1M50 6h1M55 6h1M63 6h2M36 7h1M48 7h2M64 7h1M70 7h1M84 7h1M87 7h1M49 8h2M55 8h1M68 8h1M72 8h3M78 8h1M56 9h1M70 9h1M76 9h1M36 10h1M67 10h3M74 10h1M46 11h1M48 11h1M46 12h1M77 12h1M48 13h1M50 13h1M73 13h2M48 14h1M50 14h1M86 14h1M74 15h1M83 15h1M48 16h1M73 16h1M79 16h1M47 17h1M78 17h1M50 27h1M0 34h2M10 36h1M1 37h1M10 37h1M49 39h1M7 46h1M13 46h1M16 46h1M80 47h1M14 48h2M17 48h1M2 49h2M6 49h1M12 49h1M2 50h1M4 50h3M8 50h2M13 50h1M8 53h2M9 55h1M5 61h1M8 61h1M3 62h1M0 63h1M4 63h1M7 63h2M0 65h2M6 65h1M6 66h1M6 69h1M1 71h1M5 71h1M6 72h1M0 73h2M7 73h1M5 74h1M1 75h1M8 75h1M10 75h1M5 76h1M9 76h1M15 76h1M8 77h2M5 78h1M12 81h1M6 82h2M16 82h1M51 82h1M12 83h1M16 83h1M7 85h1M47 89h2M8 90h1M10 90h1M51 91h1"/>
<path stroke="#ecf8e1" d="M46 0h1M48 0h1M59 0h1M87 0h1M35 1h1M46 1h1M48 1h1M61 1h1M65 1h1M72 1h1M47 2h2M56 2h1M60 2h1M66 2h1M68 2h1M74 2h1M46 4h1M50 4h1M76 4h1M61 5h1M69 5h1M46 6h1M53 6h1M74 6h1M37 7h1M47 7h1M50 7h2M53 7h1M58 7h1M67 7h1M76 7h1M35 8h1M46 8h1M48 8h1M66 8h2M70 8h1M46 9h1M59 9h1M66 9h1M74 9h1M85 9h1M34 10h1M47 10h1M62 10h1M72 10h1M50 11h1M48 12h3M90 13h1M84 14h2M47 15h1M50 15h1M79 15h1M49 16h1M83 16h1M46 17h1M48 17h1M50 17h1M85 17h1M46 28h1M3 35h1M47 35h1M4 37h1M48 38h1M1 46h1M4 46h2M14 46h1M0 47h1M2 47h1M7 47h2M13 47h1M16 47h1M43 47h1M88 47h1M90 47h1M1 48h2M6 48h1M9 48h1M11 48h1M16 48h1M83 48h1M90 48h1M92 48h1M5 49h1M9 49h1M11 49h1M14 49h1M16 49h1M92 49h1M1 50h1M3 50h1M12 50h1M15 50h1M5 51h1M85 51h1M89 51h1M6 52h1M1 53h1M7 53h1M10 54h1M7 55h1M6 56h1M1 59h1M1 61h1M3 61h1M0 67h1M7 69h1M5 72h1M8 72h1M2 73h3M11 73h1M3 74h1M17 74h1M16 75h1M2 76h2M17 76h1M2 77h3M2 78h1M4 80h1M9 80h1M48 80h1M10 81h1M1 82h1M11 82h2M7 83h1M17 83h1M1 84h1M2 85h1M1 86h1M6 86h1M16 86h1M8 87h1M12 88h1"/>
<path stroke="#f1f9da" d="M73 0h2M68 1h1M71 1h1M46 2h1M49 2h2M67 2h1M78 2h1M85 2h1M48 3h2M67 3h1M34 4h1M66 4h1M35 5h1M60 5h1M66 5h1M48 6h1M51 6h1M66 6h2M69 6h1M56 7h1M47 8h1M69 8h1M47 9h1M69 9h1M73 9h1M48 10h3M56 10h3M66 10h1M75 10h1M86 10h1M87 11h1M82 12h1M47 13h1M87 13h1M47 14h1M91 14h1M48 15h1M75 15h1M47 16h1M48 23h1M46 27h1M49 32h1M47 33h1M46 35h1M49 35h1M48 36h1M6 37h1M47 39h1M50 41h1M50 42h1M48 43h1M47 45h1M10 46h2M17 46h1M1 47h1M4 47h3M9 47h4M14 47h1M46 47h1M87 47h1M4 48h2M7 48h1M10 48h1M13 48h1M82 48h1M85 48h1M4 49h1M8 49h1M10 49h1M13 49h1M43 49h1M46 49h1M84 49h1M88 49h1M0 50h1M10 50h2M14 50h1M91 50h1M81 51h4M86 51h3M0 54h1M3 54h1M9 63h1M10 66h1M4 68h1M2 69h1M8 69h1M6 74h1M7 75h1M0 76h1M1 77h1M1 78h1M13 78h1M3 79h1M15 79h2M5 80h1M7 80h1M11 80h1M15 80h1M48 81h1M5 82h1M0 83h3M5 83h1M49 83h1M9 84h1M12 84h1M49 84h1M15 85h1M48 85h1M14 86h1M17 86h1M3 87h1M47 87h1M51 88h1M50 89h2M16 90h1M48 90h1M47 91h1M51 92h1"/>
<path stroke="#f5fbd2" d="M50 0h1M63 0h1M62 1h1M66 1h1M35 2h1M69 2h1M61 3h1M68 3h1M72 3h1M69 4h1M84 4h1M49 5h1M56 5h1M49 6h1M48 9h1M67 9h2M70 10h1M47 11h1M75 11h3M84 13h1M86 13h1M78 16h1M49 21h1M50 22h1M47 23h1M49 23h1M47 24h1M50 24h1M47 26h1M47 27h1M47 29h1M50 29h1M48 31h1M50 31h1M50 33h1M5 34h1M47 34h1M49 34h1M47 40h1M48 41h1M47 42h1M48 44h2M49 45h1M2 46h1M8 46h2M12 46h1M82 47h1M84 47h1M92 47h1M0 48h1M12 48h1M45 48h2M80 48h1M86 48h1M88 48h2M0 49h1M15 49h1M44 49h1M80 49h1M82 49h2M89 49h1M45 50h1M81 50h1M83 50h1M85 50h1M87 50h2M80 51h1M91 51h2M1 54h1M4 55h1M0 57h1M4 58h1M7 58h1M10 58h1M6 60h1M9 60h1M8 62h1M10 62h1M8 64h1M9 68h2M5 69h1M3 70h1M7 70h1M3 71h1M0 72h1M0 74h1M12 74h1M1 76h1M4 76h1M10 78h1M0 79h1M5 79h1M8 79h2M11 79h1M13 79h1M10 80h1M51 80h1M47 81h1M49 81h3M9 82h1M15 82h1M47 82h1M47 83h2M51 83h1M2 84h4M8 84h1M16 84h1M0 85h1M4 85h1M17 85h1M49 85h1M10 86h1M49 86h2M51 87h1M49 88h1M47 90h1M49 90h1M51 90h1M49 91h2M48 92h1"/>
<path stroke="#f9fdca" d="M47 0h1M70 0h1M69 3h1M71 5h1M71 6h1M62 7h1M68 7h1M49 17h1M46 21h2M46 22h1M50 23h1M48 24h1M47 25h1M46 26h1M49 26h1M47 28h1M46 29h1M49 29h1M49 30h1M46 31h2M47 32h1M48 34h1M50 35h1M48 37h2M46 38h2M50 38h1M48 39h1M50 39h1M48 40h1M50 40h1M49 41h1M48 42h1M47 43h1M50 43h1M47 44h1M46 45h1M50 45h1M3 46h1M45 46h1M48 46h2M3 47h1M44 47h1M81 47h1M83 47h1M89 47h1M91 47h1M24 48h1M81 48h1M84 48h1M87 48h1M21 49h1M81 49h1M86 49h1M16 50h1M27 50h1M43 50h2M46 50h1M80 50h1M86 50h1M89 50h2M92 50h1M90 51h1M4 54h1M6 54h1M7 57h2M0 58h2M3 58h1M1 60h1M2 62h1M1 67h1M2 74h1M2 75h1M14 76h1M14 78h1M2 79h1M7 79h1M2 80h2M8 80h1M13 80h2M16 80h1M47 80h1M49 80h1M48 82h1M50 83h1M13 84h1M48 84h1M3 85h1M5 85h2M16 85h1M47 85h1M50 85h1M47 86h2M51 86h1M48 88h1M49 89h1M50 90h1M48 91h1M47 92h1M49 92h2"/>
<path stroke="#fdfec3" d="M69 1h1M70 4h1M62 9h1M55 10h1M75 16h1M48 21h1M50 21h1M48 22h1M67 22h1M83 22h1M46 23h1M67 23h1M81 23h1M83 23h1M60 24h1M46 25h1M48 25h2M76 25h1M48 26h1M50 26h1M49 27h1M83 27h1M48 28h2M67 28h1M53 29h1M86 29h1M47 30h2M84 30h1M49 31h1M48 32h1M46 33h1M46 34h1M47 36h1M49 36h2M46 37h2M50 37h1M49 38h1M46 39h1M47 41h1M46 44h1M48 45h1M15 46h1M24 46h2M30 46h1M44 46h1M46 46h1M50 46h1M21 47h1M30 47h1M42 47h1M31 48h2M43 48h2M91 48h1M22 49h1M28 49h1M32 49h2M42 49h1M45 49h1M85 49h1M87 49h1M91 49h1M82 50h1M84 50h1M30 51h1M24 52h1M7 54h3M1 57h1M3 57h4M9 57h1M5 58h1M9 58h1M2 72h1M1 79h1M4 79h1M6 79h1M10 79h1M17 79h1M0 80h1M12 80h1M17 80h1M4 82h1M13 82h1M49 82h2M7 84h1M10 84h2M14 84h2M17 84h1M51 84h1M1 85h1M9 85h1M11 85h3M51 85h1M48 87h2"/>
<path stroke="#fffdbc" d="M37 3h1M71 3h1M59 21h2M62 21h1M67 21h1M69 21h3M73 21h2M79 21h1M82 21h1M86 21h2M89 21h1M91 21h1M47 22h1M49 22h1M66 22h1M68 22h1M78 22h1M80 22h1M88 22h1M60 23h2M64 23h2M68 23h1M79 23h1M46 24h1M52 24h2M57 24h1M59 24h1M72 24h2M76 24h3M84 24h1M91 24h2M56 25h2M70 25h1M73 25h1M77 25h1M81 25h1M85 25h1M51 26h1M54 26h2M58 26h1M61 26h1M63 26h3M68 26h1M75 26h1M83 26h1M88 26h1M53 27h1M65 27h1M70 27h1M73 27h1M75 27h1M81 27h1M88 27h1M90 27h1M53 28h2M63 28h1M76 28h1M78 28h1M83 28h2M89 28h2M92 28h1M48 29h1M51 29h1M58 29h1M64 29h1M71 29h2M75 29h1M82 29h1M84 29h1M46 30h1M50 30h1M53 30h2M57 30h1M60 30h1M74 30h1M77 30h2M80 30h1M82 30h1M92 30h1M66 31h1M46 32h1M70 32h1M48 33h1M68 33h1M76 34h1M48 35h1M46 36h1M46 40h1M46 42h1M46 43h1M50 44h1M21 46h2M26 46h4M31 46h2M34 46h1M39 46h2M42 46h1M23 47h1M26 47h1M28 47h1M31 47h1M34 47h1M40 47h2M45 47h1M21 48h2M25 48h2M28 48h2M39 48h3M23 49h5M29 49h3M39 49h3M22 50h4M30 50h5M39 50h1M41 50h2M29 51h1M26 53h1M2 54h1M5 54h1M26 54h1M29 54h1M26 55h1M30 55h1M10 57h1M2 58h1M6 58h1M8 58h1M22 60h1M27 60h1M32 61h1M22 63h1M28 71h1M33 71h1M12 79h1M14 79h1M27 79h1M6 80h1M50 80h1M33 82h1M33 83h1M0 84h1M6 84h1M34 84h1M47 84h1M50 84h1M8 85h1M10 85h1M14 85h1M26 87h1M35 88h1M47 88h1M50 88h1M29 89h1M29 90h1M26 91h1M37 91h1"/>
<path stroke="#fff9b6" d="M43 0h3M42 1h1M44 1h2M43 3h2M45 5h1M43 6h3M42 7h1M44 7h1M43 8h1M42 9h1M43 10h1M36 21h1M61 21h1M63 21h1M65 21h2M68 21h1M75 21h4M81 21h1M84 21h1M88 21h1M92 21h1M34 22h3M61 22h2M64 22h2M69 22h3M75 22h3M81 22h2M85 22h3M89 22h2M92 22h1M34 23h1M59 23h1M62 23h2M66 23h1M69 23h3M75 23h1M80 23h1M82 23h1M84 23h1M86 23h1M88 23h5M34 24h1M51 24h1M54 24h1M58 24h1M64 24h1M67 24h4M75 24h1M79 24h2M82 24h2M87 24h2M51 25h3M55 25h1M58 25h1M60 25h5M68 25h2M72 25h1M74 25h2M79 25h2M86 25h1M88 25h3M92 25h1M56 26h1M59 26h2M67 26h1M69 26h5M76 26h3M82 26h1M84 26h3M89 26h1M91 26h1M48 27h1M51 27h2M57 27h2M60 27h5M66 27h4M74 27h1M76 27h1M80 27h1M82 27h1M85 27h3M89 27h1M91 27h2M51 28h2M55 28h4M61 28h2M64 28h3M68 28h1M70 28h3M74 28h2M77 28h1M79 28h1M82 28h1M85 28h2M88 28h1M35 29h1M52 29h1M54 29h1M57 29h1M59 29h2M62 29h2M65 29h2M68 29h1M73 29h2M79 29h3M83 29h1M89 29h3M51 30h2M56 30h1M58 30h2M61 30h3M65 30h1M67 30h2M70 30h4M75 30h2M83 30h1M85 30h5M35 31h1M63 31h1M72 31h1M75 31h1M84 31h1M89 31h1M50 32h1M66 32h1M69 32h1M89 32h1M35 33h1M49 33h1M56 33h1M61 33h1M73 33h1M77 34h1M79 34h1M84 34h1M86 34h1M91 34h1M86 35h1M46 41h1M49 42h1M49 43h1M23 46h1M33 46h1M41 46h1M43 46h1M22 47h1M24 47h2M27 47h1M29 47h1M32 47h2M39 47h1M23 48h1M27 48h1M30 48h1M33 48h2M42 48h1M34 49h1M90 49h1M21 50h1M26 50h1M29 50h1M40 50h1M24 51h1M28 51h1M26 52h1M29 52h2M3 53h1M24 53h2M28 53h2M24 54h2M28 54h1M24 55h2M27 55h2M2 56h1M2 57h1M23 59h1M28 59h1M33 59h1M23 60h1M28 60h1M33 60h1M27 61h2M1 62h1M21 62h1M24 62h1M28 62h1M21 63h1M27 63h3M33 63h2M21 64h1M26 64h1M29 64h1M34 64h1M23 65h1M27 65h3M21 66h2M27 66h1M33 66h1M22 67h1M32 68h1M21 69h1M30 69h1M33 69h1M25 70h1M31 70h3M2 71h1M32 71h1M23 72h1M31 72h1M22 73h1M29 73h1M32 73h1M83 73h2M22 74h1M32 74h2M23 75h2M29 75h2M34 75h1M27 76h2M33 76h1M29 77h2M33 77h2M21 78h4M27 78h1M31 78h1M34 78h1M21 79h2M26 79h1M32 79h1M1 80h1M28 80h1M32 80h1M24 81h1M23 82h1M28 82h1M32 82h1M30 84h2M24 85h2M29 85h1M31 85h1M23 86h1M29 86h1M33 86h2M23 87h3M28 87h4M36 87h1M50 87h1M22 88h1M24 88h1M28 88h1M31 88h1M33 88h2M36 88h1M22 89h3M26 89h1M30 89h2M34 89h2M37 89h1M22 90h1M24 90h2M28 90h1M31 90h3M36 90h1M21 91h2M24 91h1M27 91h1M33 91h1M36 91h1M21 92h2M27 92h1M31 92h1M34 92h1M36 92h1M38 92h1"/>
<path stroke="#fff5af" d="M42 0h1M43 1h1M42 2h1M44 2h2M42 3h1M45 3h1M42 4h1M44 4h2M42 5h1M44 5h1M42 6h1M43 7h1M45 7h1M42 8h1M44 8h2M43 9h1M45 9h1M42 10h1M44 10h2M37 21h1M64 21h1M72 21h1M80 21h1M83 21h1M85 21h1M90 21h1M37 22h1M59 22h2M72 22h3M79 22h1M84 22h1M91 22h1M35 23h3M72 23h3M77 23h2M85 23h1M87 23h1M35 24h3M49 24h1M55 24h2M61 24h3M65 24h2M71 24h1M74 24h1M81 24h1M85 24h2M90 24h1M34 25h1M36 25h2M50 25h1M54 25h1M59 25h1M65 25h3M71 25h1M78 25h1M82 25h3M87 25h1M91 25h1M34 26h3M52 26h2M57 26h1M62 26h1M66 26h1M79 26h3M87 26h1M90 26h1M92 26h1M35 27h1M37 27h1M55 27h2M59 27h1M71 27h2M77 27h2M84 27h1M34 28h1M36 28h2M50 28h1M59 28h2M73 28h1M80 28h2M87 28h1M91 28h1M36 29h1M55 29h2M61 29h1M67 29h1M69 29h2M76 29h3M85 29h1M87 29h2M92 29h1M35 30h2M55 30h1M64 30h1M66 30h1M69 30h1M79 30h1M91 30h1M34 31h1M36 31h1M56 31h1M59 31h1M61 31h2M64 31h2M67 31h1M71 31h1M73 31h2M77 31h4M83 31h1M87 31h2M90 31h3M35 32h3M56 32h4M61 32h1M63 32h1M67 32h2M71 32h2M74 32h6M81 32h1M83 32h3M87 32h1M90 32h1M92 32h1M34 33h1M37 33h1M57 33h2M60 33h1M62 33h2M65 33h3M69 33h1M72 33h1M75 33h5M81 33h1M84 33h1M89 33h1M91 33h2M50 34h1M56 34h3M62 34h1M65 34h3M69 34h2M72 34h2M75 34h1M81 34h3M85 34h1M87 34h1M89 34h2M92 34h1M64 35h1M81 35h1M61 36h1M67 36h1M71 36h1M74 36h1M76 36h3M85 36h1M90 36h2M69 37h2M79 37h1M81 37h2M85 37h1M87 37h1M2 38h1M81 38h1M85 38h1M0 39h1M0 40h1M49 40h1M7 41h1M3 43h1M4 44h1M2 45h2M10 45h1M28 50h1M25 51h3M25 52h1M27 52h2M27 53h1M30 53h1M27 54h1M29 55h1M21 59h2M24 59h1M26 59h2M30 59h1M32 59h1M34 59h1M21 60h1M24 60h1M29 60h3M21 61h4M26 61h1M29 61h2M22 62h2M25 62h1M27 62h1M31 62h2M34 62h1M25 63h2M30 63h3M24 64h1M27 64h2M30 64h4M21 65h2M25 65h2M31 65h4M23 66h1M25 66h2M28 66h4M21 67h1M24 67h1M26 67h1M29 67h4M34 67h1M21 68h1M23 68h1M25 68h3M29 68h3M24 69h1M26 69h4M31 69h2M21 70h4M27 70h2M30 70h1M34 70h1M22 71h3M26 71h2M30 71h1M34 71h1M21 72h1M24 72h7M32 72h3M23 73h1M25 73h3M85 73h2M21 74h1M23 74h9M34 74h1M22 75h1M26 75h2M31 75h2M22 76h3M26 76h1M29 76h4M34 76h1M21 77h5M27 77h2M31 77h1M25 78h2M28 78h1M33 78h1M23 79h1M25 79h1M28 79h4M34 79h1M22 80h3M26 80h2M29 80h2M33 80h2M23 81h1M25 81h1M27 81h1M29 81h2M32 81h3M21 82h1M24 82h1M30 82h2M34 82h1M21 83h2M25 83h2M28 83h1M30 83h1M32 83h1M84 83h3M21 84h4M26 84h2M29 84h1M32 84h2M21 85h3M26 85h3M30 85h1M32 85h3M21 86h2M24 86h1M26 86h3M30 86h2M21 87h2M32 87h3M37 87h2M21 88h1M23 88h1M25 88h3M29 88h2M32 88h1M37 88h2M21 89h1M25 89h1M27 89h2M32 89h2M36 89h1M38 89h1M21 90h1M23 90h1M26 90h2M30 90h1M34 90h1M38 90h1M23 91h1M25 91h1M28 91h5M35 91h1M38 91h1M23 92h1M26 92h1M28 92h3M32 92h2M35 92h1M37 92h1"/>
<path stroke="#fff1a9" d="M43 2h1M43 4h1M43 5h1M44 9h1M34 21h2M63 22h1M76 23h1M89 24h1M35 25h1M37 26h1M74 26h1M34 27h1M36 27h1M54 27h1M79 27h1M35 28h1M69 28h1M34 29h1M37 29h1M34 30h1M37 30h1M81 30h1M90 30h1M37 31h1M57 31h2M60 31h1M68 31h3M76 31h1M81 31h2M85 31h1M34 32h1M60 32h1M62 32h1M64 32h2M73 32h1M80 32h1M82 32h1M86 32h1M88 32h1M91 32h1M36 33h1M59 33h1M64 33h1M70 33h2M74 33h1M80 33h1M83 33h1M85 33h4M90 33h1M59 34h1M63 34h2M71 34h1M74 34h1M78 34h1M80 34h1M88 34h1M62 35h1M65 35h3M70 35h3M74 35h1M78 35h1M80 35h1M85 35h1M87 35h1M89 35h1M91 35h1M26 36h1M62 36h1M64 36h3M68 36h1M70 36h1M75 36h1M79 36h1M82 36h1M86 36h2M62 37h1M65 37h1M71 37h1M74 37h1M76 37h1M78 37h1M84 37h1M88 37h2M91 37h1M0 38h1M4 38h2M9 38h1M68 38h5M74 38h4M79 38h2M82 38h1M84 38h1M87 38h1M89 38h4M3 39h2M7 39h2M10 39h1M3 40h2M8 40h3M0 41h3M6 41h1M8 41h3M1 42h1M4 42h2M7 42h1M9 42h1M2 43h1M6 43h1M8 43h2M3 44h1M6 44h2M4 45h2M9 45h1M47 46h1M30 54h1M25 59h1M29 59h1M31 59h1M25 60h2M32 60h1M34 60h1M25 61h1M31 61h1M33 61h2M26 62h1M29 62h2M33 62h1M23 63h2M22 64h2M25 64h1M24 65h1M30 65h1M35 65h1M38 65h1M24 66h1M32 66h1M34 66h3M23 67h1M27 67h2M33 67h1M35 67h1M22 68h1M24 68h1M28 68h1M34 68h1M22 69h2M25 69h1M34 69h1M26 70h1M35 70h2M21 71h1M25 71h1M29 71h1M31 71h1M22 72h1M37 72h1M21 73h1M24 73h1M28 73h1M30 73h2M33 73h2M37 74h1M21 75h1M25 75h1M28 75h1M33 75h1M37 75h1M21 76h1M37 76h1M26 77h1M29 78h2M32 78h1M35 78h2M33 79h1M35 79h1M21 80h1M25 80h1M31 80h1M38 80h1M21 81h2M26 81h1M28 81h1M31 81h1M22 82h1M25 82h3M29 82h1M36 82h1M23 83h2M27 83h1M29 83h1M31 83h1M34 83h2M25 84h1M35 84h1M37 84h1M35 85h1M25 86h1M32 86h1M36 86h1M27 87h1M35 87h1M35 90h1M37 90h1M46 90h1M34 91h1M24 92h2"/>
<path stroke="#feeca3" d="M86 31h1M82 33h1M29 34h1M35 34h1M60 34h2M68 34h1M24 35h1M61 35h1M63 35h1M68 35h1M73 35h1M75 35h3M79 35h1M82 35h1M84 35h1M88 35h1M90 35h1M92 35h1M27 36h1M32 36h2M43 36h1M63 36h1M69 36h1M73 36h1M80 36h2M83 36h2M88 36h2M27 37h1M63 37h2M66 37h3M72 37h2M75 37h1M77 37h1M80 37h1M83 37h1M86 37h1M92 37h1M1 38h1M3 38h1M6 38h3M10 38h1M61 38h7M73 38h1M78 38h1M83 38h1M86 38h1M2 39h1M5 39h2M9 39h1M1 40h2M5 40h3M78 40h1M81 40h2M92 40h1M3 41h3M73 41h1M78 41h1M86 41h1M0 42h1M2 42h2M6 42h1M8 42h1M10 42h1M70 42h1M75 42h1M0 43h2M4 43h2M7 43h1M0 44h3M5 44h1M8 44h3M36 44h1M38 44h1M0 45h2M7 45h2M36 45h1M35 61h1M37 61h2M35 62h4M35 63h4M35 64h4M36 65h2M37 66h2M25 67h1M37 67h1M33 68h1M35 68h1M37 68h2M35 69h3M29 70h1M37 70h2M35 71h3M36 72h1M38 72h1M35 73h2M38 73h1M35 74h2M35 75h2M38 75h1M25 76h1M35 76h2M38 76h1M32 77h1M35 77h3M37 78h2M24 79h1M36 79h1M38 79h1M35 80h1M37 80h1M35 81h2M38 81h1M35 82h1M38 82h1M36 83h2M28 84h1M36 84h1M38 84h1M36 85h1M38 85h1M35 86h1M37 86h2M41 87h1M39 88h1M41 89h1M39 91h1M42 91h2M44 92h1"/>
<path stroke="#fee89d" d="M21 34h2M25 34h3M30 34h1M32 34h3M37 34h3M41 34h2M44 34h2M23 35h1M32 35h3M43 35h1M45 35h1M69 35h1M83 35h1M21 36h2M28 36h1M30 36h2M34 36h1M36 36h1M39 36h1M42 36h1M45 36h1M72 36h1M92 36h1M21 37h1M24 37h1M29 37h2M33 37h4M38 37h2M42 37h1M61 37h1M90 37h1M35 38h2M38 38h1M88 38h1M1 39h1M36 39h1M71 39h7M80 39h1M83 39h2M87 39h1M89 39h2M92 39h1M35 40h1M37 40h1M73 40h1M75 40h2M80 40h1M83 40h2M89 40h1M35 41h2M38 41h1M69 41h2M77 41h1M82 41h4M87 41h3M91 41h2M35 42h1M69 42h1M76 42h9M88 42h1M10 43h1M35 43h1M77 43h1M35 44h1M37 44h1M87 44h1M6 45h1M37 45h1M83 45h1M35 46h1M78 46h1M86 46h1M36 49h1M25 56h1M28 57h1M31 57h1M34 57h1M27 58h1M36 61h1M36 67h1M38 67h1M36 68h1M38 69h1M42 70h1M75 70h1M38 71h1M35 72h1M37 73h1M40 73h1M38 74h1M38 77h1M90 77h1M37 79h1M39 79h1M42 79h1M36 80h1M43 80h1M46 80h1M37 81h1M43 81h1M37 82h1M43 82h1M46 82h1M38 83h1M44 83h1M40 84h1M37 85h1M89 85h1M91 85h1M45 86h1M39 87h1M44 87h2M40 88h5M39 89h2M42 89h3M46 89h1M39 90h1M42 90h2M40 91h2M44 91h2M39 92h5M45 92h2"/>
<path stroke="#fee496" d="M10 24h1M1 29h1M1 31h1M23 34h2M28 34h1M31 34h1M36 34h1M40 34h1M43 34h1M21 35h2M25 35h4M30 35h1M36 35h1M38 35h2M42 35h1M23 36h2M29 36h1M38 36h1M40 36h2M22 37h2M25 37h2M28 37h1M31 37h2M40 37h1M44 37h2M37 38h1M35 39h1M37 39h2M69 39h2M78 39h2M81 39h1M86 39h1M88 39h1M91 39h1M36 40h1M38 40h1M69 40h4M74 40h1M77 40h1M85 40h4M90 40h2M37 41h1M71 41h2M74 41h3M79 41h3M90 41h1M36 42h3M72 42h3M85 42h1M87 42h1M89 42h4M36 43h3M69 43h2M72 43h2M78 43h1M80 43h1M84 43h3M88 43h2M91 43h1M72 44h1M77 44h1M84 44h1M89 44h1M92 44h1M35 45h1M38 45h1M69 45h3M73 45h3M77 45h2M81 45h2M84 45h1M89 45h1M91 45h1M36 46h3M70 46h2M73 46h1M75 46h1M77 46h1M81 46h1M84 46h1M89 46h1M91 46h1M35 47h1M37 47h2M35 48h1M38 48h1M35 49h1M37 49h1M36 50h1M38 50h1M75 52h1M84 53h1M76 54h1M83 54h1M84 55h1M86 55h1M24 56h1M26 56h1M28 56h7M24 57h4M29 57h2M32 57h2M86 57h1M24 58h1M28 58h7M83 58h1M85 58h1M84 60h1M83 61h1M83 63h1M85 63h2M76 64h1M83 64h2M73 67h1M76 67h1M83 67h1M85 67h1M83 68h1M86 68h1M40 69h1M83 69h1M86 69h1M40 70h1M83 70h1M76 71h1M85 71h1M39 72h1M41 73h1M57 73h1M67 73h1M82 73h1M88 73h1M39 74h3M58 74h1M68 74h1M81 74h1M87 74h1M52 75h1M57 75h1M59 75h2M64 75h1M69 75h2M87 75h1M90 75h2M39 76h2M42 76h1M82 76h1M89 76h1M92 76h1M80 77h1M82 77h1M91 77h1M39 78h2M42 78h1M80 79h1M90 79h1M45 80h1M80 80h1M84 80h1M41 81h2M44 81h2M77 81h1M45 82h1M76 82h1M39 83h2M43 83h1M52 83h1M55 83h1M59 83h1M61 83h2M64 83h1M73 83h1M87 83h1M89 83h3M43 84h4M87 84h3M91 84h2M46 85h1M60 85h1M67 85h2M70 85h1M87 85h1M92 85h1M39 86h1M43 86h1M46 86h1M58 86h1M64 86h1M67 86h2M73 86h1M87 86h1M92 86h1M40 87h1M42 87h2M46 87h1M84 87h2M45 88h2M76 88h2M45 89h1M74 89h1M40 90h2M44 90h2M74 90h1M46 91h1M77 91h2M80 91h1M84 91h2M85 92h1"/>
<path stroke="#fee090" d="M25 0h1M27 0h1M32 0h1M41 1h1M38 2h1M41 2h1M23 3h1M30 3h1M39 3h1M22 4h1M30 4h1M33 4h1M40 4h2M29 5h1M39 5h1M41 5h1M24 7h1M38 7h1M30 8h1M40 8h2M29 9h1M31 9h1M41 10h1M1 20h1M5 20h2M9 20h1M0 21h1M3 21h1M5 21h3M0 22h1M3 22h1M5 22h1M7 22h2M0 23h1M5 23h1M7 23h1M9 23h2M43 23h1M3 24h1M43 24h1M0 25h1M2 25h3M7 25h4M0 26h3M7 26h1M10 26h1M42 26h1M0 27h1M2 27h1M8 27h1M0 28h1M2 28h1M4 28h2M8 28h1M10 28h1M2 29h2M6 29h1M8 29h3M3 30h1M6 30h1M8 30h1M10 30h1M42 30h1M2 31h1M4 31h1M6 31h1M9 31h1M42 31h1M1 32h3M7 32h1M0 33h2M3 33h2M6 33h2M9 33h2M29 35h1M31 35h1M37 35h1M40 35h2M44 35h1M25 36h1M35 36h1M44 36h1M41 37h1M43 37h1M82 39h1M85 39h1M79 40h1M71 42h1M86 42h1M71 43h1M74 43h3M82 43h2M90 43h1M92 43h1M69 44h3M74 44h3M78 44h1M81 44h3M86 44h1M88 44h1M90 44h2M72 45h1M76 45h1M79 45h1M85 45h1M88 45h1M90 45h1M92 45h1M69 46h1M72 46h1M74 46h1M76 46h1M79 46h2M82 46h2M87 46h2M36 47h1M36 48h2M38 49h1M35 50h1M37 50h1M73 52h1M76 52h1M83 52h2M86 52h1M73 53h4M85 53h2M73 54h3M84 54h3M74 55h3M83 55h1M85 55h1M27 56h1M73 56h3M83 56h4M73 57h4M84 57h1M25 58h2M73 58h1M75 58h1M84 58h1M75 59h2M83 59h4M73 60h2M76 60h1M83 60h1M85 60h2M73 61h2M84 61h1M86 61h1M73 62h1M76 62h1M83 62h1M85 62h2M73 63h1M75 63h2M84 63h1M73 64h1M75 64h1M85 64h2M74 65h2M83 65h1M73 66h4M83 66h4M86 67h1M73 68h3M84 68h2M39 69h1M41 69h2M73 69h2M76 69h1M85 69h1M73 70h2M76 70h1M84 70h3M39 71h4M74 71h2M84 71h1M86 71h1M41 72h2M46 72h1M73 72h4M83 72h4M39 73h1M42 73h1M52 73h5M58 73h9M69 73h8M80 73h2M87 73h1M89 73h4M42 74h1M45 74h1M52 74h2M55 74h3M59 74h3M63 74h4M69 74h5M82 74h1M88 74h4M39 75h1M41 75h2M53 75h4M58 75h1M61 75h3M65 75h2M68 75h1M71 75h3M80 75h3M88 75h2M41 76h1M52 76h7M60 76h5M66 76h3M70 76h2M73 76h1M80 76h2M88 76h1M90 76h2M39 77h4M54 77h1M56 77h1M81 77h1M87 77h3M92 77h1M45 78h1M56 78h1M80 78h3M89 78h4M40 79h2M52 79h1M54 79h1M81 79h1M87 79h1M89 79h1M91 79h2M39 80h1M41 80h2M44 80h1M74 80h3M78 80h1M83 80h1M85 80h2M40 81h1M46 81h1M74 81h1M78 81h2M83 81h4M39 82h4M44 82h1M74 82h2M77 82h4M83 82h4M45 83h1M53 83h2M56 83h1M58 83h1M60 83h1M63 83h1M65 83h1M67 83h5M81 83h3M88 83h1M92 83h1M41 84h2M53 84h2M56 84h2M59 84h1M61 84h5M67 84h7M81 84h3M90 84h1M39 85h2M42 85h1M44 85h2M52 85h2M55 85h5M61 85h2M64 85h1M69 85h1M71 85h3M81 85h3M88 85h1M90 85h1M40 86h3M44 86h1M52 86h2M55 86h1M59 86h2M62 86h1M65 86h2M69 86h4M81 86h2M88 86h4M74 87h4M79 87h2M86 87h2M74 88h2M78 88h2M85 88h3M75 89h6M84 89h4M78 90h3M85 90h3M74 91h2M79 91h1M87 91h1M74 92h3M78 92h3M84 92h1M86 92h2"/>
<path stroke="#fed589" d="M22 0h1M24 0h1M26 0h1M29 0h2M39 0h1M41 0h1M21 1h1M24 1h2M27 1h2M31 1h1M38 1h3M22 2h4M27 2h1M29 2h2M32 2h1M39 2h1M20 3h1M22 3h1M26 3h2M29 3h1M31 3h2M38 3h1M40 3h2M20 4h2M28 4h1M20 5h4M25 5h1M28 5h1M32 5h2M38 5h1M40 5h1M21 6h3M28 6h1M32 6h1M38 6h2M41 6h1M23 7h1M26 7h1M29 7h2M33 7h1M39 7h2M20 8h1M23 8h3M27 8h2M33 8h1M39 8h1M21 9h1M25 9h1M30 9h1M33 9h1M38 9h2M41 9h1M21 10h2M25 10h1M29 10h1M38 10h1M40 10h1M0 20h1M2 20h3M7 20h2M10 20h1M1 21h2M4 21h1M8 21h3M45 21h1M1 22h2M6 22h1M9 22h2M42 22h1M44 22h2M1 23h4M6 23h1M44 23h2M0 24h3M4 24h6M1 25h1M5 25h2M43 25h3M3 26h4M8 26h2M43 26h1M1 27h1M3 27h5M9 27h2M43 27h1M1 28h1M3 28h1M6 28h2M9 28h1M42 28h2M0 29h1M4 29h2M7 29h1M42 29h4M0 30h3M4 30h2M7 30h1M9 30h1M43 30h2M0 31h1M3 31h1M5 31h1M7 31h2M10 31h1M44 31h1M0 32h1M4 32h3M8 32h3M42 32h1M2 33h1M5 33h1M8 33h1M38 33h1M42 33h2M45 33h1M37 36h1M31 41h1M79 43h1M81 43h1M87 43h1M34 44h1M73 44h1M79 44h2M85 44h1M21 45h1M24 45h1M80 45h1M86 45h2M85 46h1M90 46h1M92 46h1M74 52h1M85 52h1M83 53h1M73 55h1M76 56h1M83 57h1M85 57h1M74 58h1M76 58h1M86 58h1M73 59h2M75 60h1M75 61h2M85 61h1M74 62h2M84 62h1M74 63h1M74 64h1M73 65h1M76 65h1M84 65h3M74 67h2M84 67h1M76 68h1M75 69h1M84 69h1M39 70h1M41 70h1M45 70h1M43 71h1M45 71h1M73 71h1M83 71h1M40 72h1M44 72h2M43 73h1M68 73h1M43 74h2M54 74h1M62 74h1M67 74h1M80 74h1M92 74h1M40 75h1M43 75h1M67 75h1M92 75h1M45 76h1M59 76h1M65 76h1M69 76h1M72 76h1M87 76h1M43 77h1M52 77h2M55 77h1M41 78h1M52 78h4M87 78h2M45 79h2M53 79h1M55 79h2M82 79h1M88 79h1M40 80h1M77 80h1M79 80h1M75 81h2M80 81h1M41 83h2M46 83h1M57 83h1M66 83h1M72 83h1M39 84h1M52 84h1M55 84h1M58 84h1M60 84h1M66 84h1M41 85h1M43 85h1M54 85h1M63 85h1M65 85h2M54 86h1M56 86h2M61 86h1M63 86h1M83 86h1M78 87h1M80 88h1M84 88h1M75 90h3M84 90h1M76 91h1M86 91h1M77 92h1"/>
<path stroke="#fdca81" d="M21 0h1M28 0h1M31 0h1M33 0h1M38 0h1M40 0h1M20 1h1M22 1h2M29 1h2M32 1h2M20 2h2M26 2h1M28 2h1M31 2h1M33 2h1M40 2h1M21 3h1M24 3h2M23 4h3M27 4h1M29 4h1M31 4h2M38 4h2M24 5h1M26 5h2M30 5h2M20 6h1M25 6h3M29 6h1M31 6h1M33 6h1M40 6h1M20 7h3M25 7h1M27 7h2M31 7h2M41 7h1M21 8h1M26 8h1M29 8h1M31 8h2M38 8h1M20 9h1M22 9h1M24 9h1M26 9h3M32 9h1M40 9h1M23 10h2M27 10h2M30 10h4M39 10h1M44 21h1M4 22h1M43 22h1M8 23h1M42 23h1M42 24h1M44 24h2M40 26h1M42 27h1M44 27h2M44 28h2M45 30h1M45 31h1M43 32h2M39 33h1M44 33h1M24 38h1M31 38h2M29 39h1M32 39h1M24 40h1M22 41h1M28 41h1M33 41h1M25 42h1M27 42h1M21 43h1M32 43h2M22 44h2M25 44h1M32 44h2M27 45h2M32 45h3M43 69h3M43 70h2M46 70h1M44 71h1M46 71h1M43 72h1M44 73h2M46 74h1M79 74h1M44 75h2M78 75h2M43 76h2M46 76h1M77 76h2M44 77h3M57 77h1M44 78h1M46 78h1M57 78h1M43 79h2M58 79h1M66 79h1M39 81h1"/>
<path stroke="#fdbf7a" d="M20 0h1M23 0h1M26 1h1M28 3h1M33 3h1M26 4h1M24 6h1M30 6h1M22 8h1M23 9h1M20 10h1M26 10h1M38 21h2M41 21h3M40 22h1M38 23h1M40 23h1M38 24h3M26 25h1M41 25h2M44 26h2M38 28h1M40 28h1M27 29h1M38 29h1M31 30h1M38 30h1M40 30h1M31 31h1M38 31h2M43 31h1M38 32h3M45 32h1M40 33h1M22 38h2M25 38h2M30 38h1M33 38h2M21 39h1M24 39h3M28 39h1M33 39h1M21 40h3M25 40h7M34 40h1M21 41h1M26 41h2M29 41h1M34 41h1M21 42h2M24 42h1M26 42h1M28 42h2M31 42h2M22 43h1M24 43h1M26 43h3M30 43h2M34 43h1M21 44h1M26 44h2M29 44h1M22 45h1M25 45h1M29 45h1M31 45h1M63 52h1M79 53h1M67 54h2M78 54h1M77 55h1M57 56h1M77 56h2M55 59h1M65 59h1M54 60h1M58 60h1M78 60h1M71 61h1M77 61h1M79 61h1M60 62h1M77 62h1M89 62h1M77 63h1M78 64h1M77 65h2M55 67h1M72 67h1M58 68h1M61 68h1M46 69h1M77 70h1M53 71h1M55 71h2M68 71h1M77 72h1M46 73h1M77 73h3M77 74h2M46 75h1M79 76h1M58 77h1M60 77h2M63 77h1M66 77h1M68 77h2M73 77h1M75 77h2M43 78h1M58 78h1M60 78h3M64 78h2M68 78h1M70 78h1M73 78h1M84 78h1M86 78h1M57 79h1M60 79h2M63 79h3M67 79h1M70 79h1M73 79h2M77 79h1M83 79h1M56 80h1M64 80h1M54 81h1M61 81h1M58 82h1M73 82h1M54 87h1M62 87h1M65 87h1M54 90h1M57 90h1M67 90h1M53 91h1M70 91h1M67 92h2"/>
<path stroke="#fdb473" d="M8 2h1M10 2h1M2 3h1M12 4h1M8 7h1M0 8h1M19 9h1M13 17h1M11 19h1M40 21h1M39 22h1M41 22h1M41 23h1M27 24h2M30 24h2M33 24h1M33 25h1M38 25h2M28 26h1M38 26h2M41 26h1M38 27h3M27 28h1M32 28h1M39 28h1M41 28h1M26 29h1M32 29h1M39 29h3M27 30h1M39 30h1M41 30h1M26 31h2M32 31h2M41 31h1M27 32h1M32 32h1M41 32h1M25 33h1M27 33h1M30 33h1M32 33h2M41 33h1M21 38h1M27 38h3M22 39h2M27 39h1M30 39h2M34 39h1M32 40h2M39 40h1M23 41h3M30 41h1M32 41h1M23 42h1M30 42h1M33 42h1M23 43h1M25 43h1M29 43h1M24 44h1M28 44h1M30 44h2M23 45h1M26 45h1M30 45h1M56 52h2M59 52h3M65 52h1M69 52h1M77 52h3M81 52h2M87 52h1M57 53h2M63 53h2M66 53h1M70 53h3M78 53h1M54 54h1M58 54h1M62 54h3M71 54h2M77 54h1M79 54h1M82 54h1M87 54h1M89 54h1M92 54h1M53 55h3M61 55h5M68 55h1M70 55h1M72 55h1M78 55h2M52 56h1M54 56h1M61 56h2M64 56h2M68 56h3M79 56h1M81 56h1M53 57h2M56 57h1M59 57h2M63 57h5M71 57h1M87 57h1M90 57h1M55 58h1M61 58h3M67 58h1M69 58h4M87 58h1M54 59h1M58 59h2M61 59h1M64 59h1M66 59h1M69 59h2M90 59h2M52 60h2M57 60h1M65 60h1M67 60h1M69 60h1M71 60h1M77 60h1M79 60h1M92 60h1M52 61h1M57 61h2M64 61h3M70 61h1M72 61h1M78 61h1M81 61h1M89 61h2M92 61h1M53 62h2M56 62h1M62 62h1M64 62h2M71 62h2M78 62h2M81 62h1M56 63h1M63 63h2M67 63h4M52 64h2M56 64h1M59 64h1M61 64h1M63 64h1M65 64h1M67 64h1M71 64h2M79 64h1M87 64h1M91 64h1M53 65h1M55 65h2M58 65h2M64 65h3M71 65h2M90 65h1M52 66h2M55 66h2M60 66h2M64 66h2M68 66h5M77 66h3M89 66h1M53 67h1M56 67h4M63 67h1M66 67h1M71 67h1M77 67h4M90 67h1M53 68h1M55 68h3M62 68h2M65 68h2M69 68h3M77 68h4M91 68h1M52 69h1M54 69h1M62 69h1M66 69h1M70 69h1M77 69h3M90 69h1M92 69h1M52 70h3M58 70h2M65 70h1M71 70h2M78 70h2M52 71h1M54 71h1M57 71h2M62 71h2M66 71h2M70 71h1M77 71h3M87 71h1M92 71h1M52 72h1M54 72h2M57 72h3M64 72h2M69 72h3M78 72h2M91 72h2M77 75h1M59 77h1M62 77h1M64 77h2M67 77h1M70 77h3M74 77h1M77 77h2M59 78h1M63 78h1M66 78h2M69 78h1M71 78h2M74 78h4M83 78h1M85 78h1M62 79h1M68 79h2M71 79h2M75 79h1M84 79h3M52 80h1M57 80h1M59 80h2M63 80h1M66 80h1M69 80h1M52 81h2M56 81h4M63 81h1M66 81h3M70 81h2M73 81h1M52 82h1M55 82h2M61 82h2M67 82h1M70 82h1M78 83h2M78 84h1M80 85h1M78 86h1M80 86h1M55 87h2M59 87h1M66 87h3M71 87h1M73 87h1M53 88h2M56 88h1M59 88h1M63 88h1M65 88h1M68 88h1M81 88h2M91 88h1M53 89h1M56 89h1M58 89h1M60 89h1M63 89h4M69 89h2M72 89h2M91 89h1M52 90h1M58 90h2M61 90h1M63 90h2M68 90h1M70 90h3M81 90h1M52 91h1M60 91h1M62 91h2M65 91h3M71 91h3M82 91h1M91 91h1M52 92h1M54 92h2M66 92h1M71 92h3M82 92h2M88 92h1"/>
<path stroke="#fda96b" d="M1 0h7M9 0h11M0 1h3M5 1h8M14 1h1M16 1h3M0 2h1M2 2h1M4 2h2M7 2h1M13 2h2M16 2h3M1 3h1M3 3h2M6 3h4M11 3h2M14 3h2M18 3h1M0 4h1M2 4h3M6 4h2M9 4h3M13 4h6M1 5h9M12 5h3M17 5h1M19 5h1M0 6h2M3 6h3M7 6h1M11 6h2M14 6h1M16 6h2M1 7h2M4 7h1M6 7h1M9 7h2M12 7h8M1 8h2M4 8h2M7 8h4M12 8h3M16 8h1M18 8h2M0 9h2M3 9h2M6 9h2M10 9h1M13 9h2M16 9h3M0 10h4M6 10h4M16 10h4M0 11h2M3 11h3M9 11h2M13 11h2M16 11h4M2 12h1M5 12h10M16 12h4M1 13h3M6 13h5M13 13h6M1 14h5M7 14h4M12 14h3M16 14h4M1 15h3M5 15h3M9 15h1M14 15h1M16 15h1M18 15h2M0 16h1M2 16h3M6 16h2M9 16h1M11 16h5M17 16h3M0 17h3M4 17h3M9 17h1M11 17h1M14 17h6M0 18h2M4 18h6M13 18h5M19 18h1M1 19h10M13 19h3M17 19h1M19 19h1M38 22h1M39 23h1M29 24h1M32 24h1M41 24h1M27 25h1M31 25h1M40 25h1M25 26h1M27 26h1M30 26h1M33 26h1M25 27h1M28 27h3M32 27h2M41 27h1M26 28h1M31 28h1M24 29h2M30 29h1M24 30h2M29 30h1M32 30h2M24 31h2M28 31h1M40 31h1M25 32h2M28 32h1M30 32h2M28 33h1M39 38h1M44 38h1M40 39h2M44 39h1M40 40h1M45 40h1M42 41h3M34 42h1M39 42h2M39 43h1M42 43h1M39 44h1M41 44h2M39 45h3M55 52h1M62 52h1M64 52h1M66 52h1M68 52h1M70 52h1M72 52h1M80 52h1M88 52h2M91 52h2M55 53h2M60 53h3M65 53h1M67 53h3M77 53h1M82 53h1M88 53h1M90 53h3M52 54h2M55 54h3M59 54h1M61 54h1M65 54h2M69 54h1M80 54h1M88 54h1M91 54h1M52 55h1M56 55h5M66 55h2M69 55h1M71 55h1M80 55h2M87 55h4M92 55h1M53 56h1M55 56h2M58 56h3M63 56h1M66 56h2M71 56h2M80 56h1M82 56h1M88 56h5M52 57h1M55 57h1M61 57h2M68 57h3M72 57h1M80 57h1M88 57h2M91 57h2M52 58h3M56 58h1M59 58h1M64 58h2M68 58h1M80 58h3M89 58h2M92 58h1M52 59h2M56 59h2M60 59h1M62 59h2M67 59h2M71 59h2M81 59h1M87 59h1M89 59h1M92 59h1M55 60h1M59 60h1M61 60h4M66 60h1M68 60h1M70 60h1M72 60h1M80 60h3M87 60h2M90 60h2M53 61h4M59 61h5M67 61h3M80 61h1M82 61h1M87 61h1M91 61h1M52 62h1M55 62h1M57 62h3M61 62h1M63 62h1M66 62h5M87 62h1M91 62h2M52 63h4M57 63h1M59 63h1M61 63h2M65 63h2M71 63h2M78 63h5M87 63h3M91 63h2M54 64h2M57 64h2M60 64h1M62 64h1M64 64h1M66 64h1M68 64h3M77 64h1M80 64h3M89 64h2M92 64h1M52 65h1M54 65h1M57 65h1M60 65h4M67 65h4M79 65h2M87 65h3M91 65h2M54 66h1M57 66h3M62 66h2M66 66h2M80 66h3M87 66h1M90 66h3M52 67h1M54 67h1M60 67h2M64 67h2M68 67h3M81 67h2M88 67h2M91 67h2M52 68h1M54 68h1M60 68h1M64 68h1M67 68h2M72 68h1M81 68h2M87 68h4M92 68h1M53 69h1M55 69h7M63 69h2M67 69h3M71 69h2M80 69h3M87 69h3M91 69h1M55 70h3M60 70h5M67 70h3M80 70h3M87 70h6M59 71h2M64 71h2M69 71h1M71 71h1M80 71h3M90 71h2M53 72h1M56 72h1M60 72h4M66 72h3M72 72h1M80 72h3M88 72h2M79 77h1M59 79h1M76 79h1M53 80h3M61 80h2M65 80h1M67 80h2M70 80h1M73 80h1M81 80h2M88 80h3M55 81h1M60 81h1M62 81h1M64 81h1M69 81h1M81 81h2M87 81h2M90 81h3M53 82h2M59 82h2M63 82h4M68 82h2M71 82h1M87 82h1M92 82h1M80 83h1M79 84h2M79 85h1M79 86h1M53 87h1M57 87h1M60 87h2M63 87h1M69 87h2M72 87h1M82 87h2M88 87h3M92 87h1M52 88h1M55 88h1M57 88h2M60 88h3M64 88h1M66 88h2M69 88h4M83 88h1M88 88h1M92 88h1M52 89h1M54 89h2M57 89h1M59 89h1M62 89h1M67 89h2M71 89h1M81 89h3M89 89h1M92 89h1M55 90h2M60 90h1M62 90h1M65 90h2M69 90h1M73 90h1M83 90h1M89 90h1M91 90h2M54 91h3M58 91h2M61 91h1M64 91h1M68 91h2M81 91h1M83 91h1M89 91h2M92 91h1M53 92h1M56 92h5M62 92h2M65 92h1M70 92h1M89 92h4"/>
<path stroke="#fc9e64" d="M0 0h1M8 0h1M3 1h2M13 1h1M15 1h1M19 1h1M1 2h1M3 2h1M6 2h1M9 2h1M11 2h2M15 2h1M19 2h1M0 3h1M5 3h1M10 3h1M13 3h1M16 3h2M19 3h1M1 4h1M5 4h1M8 4h1M19 4h1M0 5h1M10 5h2M15 5h2M18 5h1M2 6h1M6 6h1M8 6h3M13 6h1M15 6h1M18 6h2M0 7h1M3 7h1M5 7h1M7 7h1M11 7h1M3 8h1M6 8h1M11 8h1M15 8h1M17 8h1M2 9h1M5 9h1M8 9h2M11 9h2M15 9h1M4 10h2M10 10h6M2 11h1M6 11h3M12 11h1M15 11h1M0 12h2M3 12h2M15 12h1M0 13h1M4 13h2M11 13h2M19 13h1M0 14h1M6 14h1M11 14h1M15 14h1M0 15h1M4 15h1M8 15h1M10 15h4M15 15h1M17 15h1M1 16h1M5 16h1M8 16h1M10 16h1M16 16h1M7 17h2M10 17h1M12 17h1M2 18h2M10 18h3M18 18h1M0 19h1M12 19h1M16 19h1M18 19h1M21 21h2M21 22h2M26 24h1M28 25h3M32 25h1M24 26h1M26 26h1M29 26h1M31 26h2M24 27h1M26 27h2M31 27h1M24 28h2M33 28h1M31 29h1M33 29h1M26 30h1M28 30h1M29 31h1M29 32h1M33 32h1M26 33h1M29 33h1M41 38h1M43 38h1M45 38h1M39 39h1M42 39h2M42 40h3M40 41h2M45 41h1M42 42h1M40 43h2M43 43h1M40 44h1M45 44h1M42 45h1M58 52h1M67 52h1M71 52h1M90 52h1M59 53h1M80 53h2M87 53h1M89 53h1M60 54h1M70 54h1M81 54h1M90 54h1M82 55h1M91 55h1M87 56h1M81 57h2M60 58h1M66 58h1M88 58h1M91 58h1M80 59h1M82 59h1M88 59h1M56 60h1M89 60h1M88 61h1M80 62h1M82 62h1M88 62h1M90 62h1M58 63h1M60 63h1M90 63h1M88 64h1M81 65h2M88 66h1M62 67h1M87 67h1M59 68h1M65 69h1M66 70h1M61 71h1M72 71h1M88 71h2M87 72h1M90 72h1M58 80h1M71 80h2M91 80h2M65 81h1M72 81h1M89 81h1M57 82h1M72 82h1M81 82h1M88 82h2M91 82h1M52 87h1M58 87h1M64 87h1M81 87h1M91 87h1M73 88h1M61 89h1M90 89h1M53 90h1M57 91h1M88 91h1M61 92h1M69 92h1M81 92h1"/>
<path stroke="#fc935d" d="M3 17h1M30 28h1M28 29h1M30 30h1M30 31h1M24 32h1M24 33h1M31 33h1M40 38h1M42 38h1M45 39h1M41 40h1M39 41h1M41 42h1M43 42h1M44 43h1M43 44h1M43 45h1M79 57h1M77 58h1M79 58h1M77 59h1M79 59h1M87 80h1M82 82h1M90 82h1M75 83h1M78 85h1M74 86h1M82 90h1M64 92h1"/>
<path stroke="#fa8756" d="M25 25h1M28 28h1M29 29h1M45 43h1M44 44h1M44 45h2M48 49h2M49 50h1M54 52h1M52 53h1M57 57h1M77 57h2M57 58h2M78 58h1M78 59h1M86 74h1M76 75h1M84 75h1M86 75h1M84 76h3M83 77h1M74 83h1M76 83h2M74 84h4M74 85h4M85 85h2M75 86h3"/>
<path stroke="#f57a4f" d="M24 24h2M24 25h1M29 28h1M45 42h1M47 47h1M47 48h1M50 48h1M52 52h1M53 53h1M58 57h1M84 74h2M75 75h1M83 75h1M85 75h1M76 76h1M83 76h1M84 77h3M78 78h2M79 79h1M84 84h3M84 85h1M84 86h3"/>
<path stroke="#f06e48" d="M44 42h1M48 47h3M47 49h1M50 49h1M47 50h1M53 52h1M54 53h1M74 74h3M83 74h1M74 75h1M74 76h1"/>
<path stroke="#eb6242" d="M48 48h2M50 50h1M75 76h1M78 79h1"/>
<path stroke="#e6553b" d="M35 35h1M48 50h1"/>
<path stroke="#e14934" d="M60 60h1M67 67h1M70 70h1"/>
<path stroke="#dc3c2e" d="M11 11h1M37 37h1M89 88h2M88 89h1M88 90h1M90 90h1"/>
</g>
<g shape-rendering="crispEdges">
<rect x="984" y="1479" width="138.8" height="8.6" fill="#1f77b4"/>
<rect x="1122.8" y="1479" width="4.2" height="8.6" fill="#ff7f0e"/>
<rect x="1126.9" y="1479" width="4.2" height="8.6" fill="#1f77b4"/>
<rect x="1131" y="1479" width="4.2" height="8.6" fill="#ff7f0e"/>
<rect x="1135.2" y="1479" width="4.2" height="8.6" fill="#1f77b4"/>
<rect x="1139.3" y="1479" width="4.2" height="8.6" fill="#ff7f0e"/>
<rect x="1143.4" y="1479" width="4.2" height="8.6" fill="#1f77b4"/>
<rect x="1147.5" y="1479" width="4.2" height="8.6" fill="#ff7f0e"/>
<rect x="1151.7" y="1479" width="4.2" height="8.6" fill="#1f77b4"/>
<rect x="1155.8" y="1479" width="4.2" height="8.6" fill="#ff7f0e"/>
<rect x="1159.9" y="1479" width="4.2" height="8.6" fill="#1f77b4"/>
<rect x="1164" y="1479" width="4.2" height="8.6" fill="#ff7f0e"/>
<rect x="1168.2" y="1479" width="4.2" height="8.6" fill="#1f77b4"/>
<rect x="1172.3" y="1479" width="4.2" height="8.6" fill="#ff7f0e"/>
<rect x="1176.4" y="1479" width="4.2" height="8.6" fill="#1f77b4"/>
<rect x="1180.5" y="1479" width="4.2" height="8.6" fill="#ff7f0e"/>
<rect x="1184.6" y="1479" width="4.2" height="8.6" fill="#1f77b4"/>
<rect x="1188.8" y="1479" width="4.2" height="8.6" fill="#ff7f0e"/>
<rect x="1192.9" y="1479" width="4.2" height="8.6" fill="#1f77b4"/>
<rect x="1197" y="1479" width="4.2" height="8.6" fill="#ff7f0e"/>
<rect x="1201.1" y="1479" width="4.2" height="8.6" fill="#1f77b4"/>
<rect x="1205.3" y="1479" width="4.2" height="8.6" fill="#ff7f0e"/>
<rect x="1209.4" y="1479" width="4.2" height="8.6" fill="#1f77b4"/>
<rect x="1213.5" y="1479" width="4.4" height="8.6" fill="#2ca02c"/>
<rect x="1217.9" y="1479" width="4.4" height="8.6" fill="#ff7f0e"/>
<rect x="1222.3" y="1479" width="4.4" height="8.6" fill="#2ca02c"/>
<rect x="1226.7" y="1479" width="4.4" height="8.6" fill="#ff7f0e"/>
<rect x="1231.1" y="1479" width="4.4" height="8.6" fill="#2ca02c"/>
<rect x="1235.5" y="1479" width="4.4" height="8.6" fill="#ff7f0e"/>
<rect x="1239.9" y="1479" width="4.4" height="8.6" fill="#2ca02c"/>
<rect x="1244.3" y="1479" width="4.4" height="8.6" fill="#ff7f0e"/>
<rect x="1248.7" y="1479" width="4.4" height="8.6" fill="#2ca02c"/>
<rect x="1253.1" y="1479" width="4.4" height="8.6" fill="#ff7f0e"/>
<rect x="1257.5" y="1479" width="4.4" height="8.6" fill="#2ca02c"/>
<rect x="1261.8" y="1479" width="4.4" height="8.6" fill="#ff7f0e"/>
<rect x="1266.2" y="1479" width="4.4" height="8.6" fill="#2ca02c"/>
<rect x="1270.6" y="1479" width="4.4" height="8.6" fill="#ff7f0e"/>
<rect x="1275" y="1479" width="4.4" height="8.6" fill="#2ca02c"/>
<rect x="1279.4" y="1479" width="4.4" height="8.6" fill="#ff7f0e"/>
<rect x="1283.8" y="1479" width="4.4" height="8.6" fill="#2ca02c"/>
<rect x="1288.2" y="1479" width="4.4" height="8.6" fill="#ff7f0e"/>
<rect x="1292.6" y="1479" width="4.4" height="8.6" fill="#2ca02c"/>
<rect x="1297" y="1479" width="4.4" height="8.6" fill="#ff7f0e"/>
<rect x="1301.4" y="1479" width="4.4" height="8.6" fill="#2ca02c"/>
<rect x="1305.8" y="1479" width="38.2" height="8.6" fill="#ff7f0e"/>
<rect x="1344" y="1479" width="298.2" height="8.6" fill="#2ca02c"/>
</g>
<g>
<rect x="968.3" y="1499" width="8.2" height="93.1" fill="#1f77b4"/>
<rect x="968.3" y="1592.1" width="8.2" height="3.2" fill="#ff7f0e"/>
<rect x="968.3" y="1595.2" width="8.2" height="3.2" fill="#1f77b4"/>
<rect x="968.3" y="1598.3" width="8.2" height="3.2" fill="#ff7f0e"/>
<rect x="968.3" y="1601.4" width="8.2" height="3.2" fill="#1f77b4"/>
<rect x="968.3" y="1604.5" width="8.2" height="3.2" fill="#ff7f0e"/>
<rect x="968.3" y="1607.6" width="8.2" height="3.2" fill="#1f77b4"/>
<rect x="968.3" y="1610.7" width="8.2" height="3.2" fill="#ff7f0e"/>
<rect x="968.3" y="1613.8" width="8.2" height="3.2" fill="#1f77b4"/>
<rect x="968.3" y="1616.9" width="8.2" height="3.2" fill="#ff7f0e"/>
<rect x="968.3" y="1620" width="8.2" height="3.2" fill="#1f77b4"/>
<rect x="968.3" y="1623.2" width="8.2" height="3.2" fill="#ff7f0e"/>
<rect x="968.3" y="1626.3" width="8.2" height="3.2" fill="#1f77b4"/>
<rect x="968.3" y="1629.4" width="8.2" height="3.2" fill="#ff7f0e"/>
<rect x="968.3" y="1632.5" width="8.2" height="3.2" fill="#1f77b4"/>
<rect x="968.3" y="1635.6" width="8.2" height="3.2" fill="#ff7f0e"/>
<rect x="968.3" y="1638.7" width="8.2" height="3.2" fill="#1f77b4"/>
<rect x="968.3" y="1641.8" width="8.2" height="3.2" fill="#ff7f0e"/>
<rect x="968.3" y="1644.9" width="8.2" height="3.2" fill="#1f77b4"/>
<rect x="968.3" y="1648" width="8.2" height="3.2" fill="#ff7f0e"/>
<rect x="968.3" y="1651.1" width="8.2" height="3.2" fill="#1f77b4"/>
<rect x="968.3" y="1654.2" width="8.2" height="3.5" fill="#2ca02c"/>
<rect x="968.3" y="1657.7" width="8.2" height="3.5" fill="#ff7f0e"/>
<rect x="968.3" y="1661.1" width="8.2" height="3.5" fill="#2ca02c"/>
<rect x="968.3" y="1664.6" width="8.2" height="3.5" fill="#ff7f0e"/>
<rect x="968.3" y="1668.1" width="8.2" height="3.5" fill="#2ca02c"/>
<rect x="968.3" y="1671.5" width="8.2" height="3.5" fill="#ff7f0e"/>
<rect x="968.3" y="1675" width="8.2" height="3.5" fill="#2ca02c"/>
<rect x="968.3" y="1678.4" width="8.2" height="3.5" fill="#ff7f0e"/>
<rect x="968.3" y="1681.9" width="8.2" height="3.5" fill="#2ca02c"/>
<rect x="968.3" y="1685.4" width="8.2" height="3.5" fill="#ff7f0e"/>
<rect x="968.3" y="1688.8" width="8.2" height="3.5" fill="#2ca02c"/>
<rect x="968.3" y="1692.3" width="8.2" height="3.5" fill="#ff7f0e"/>
<rect x="968.3" y="1695.8" width="8.2" height="3.5" fill="#2ca02c"/>
<rect x="968.3" y="1699.2" width="8.2" height="3.5" fill="#ff7f0e"/>
<rect x="968.3" y="1702.7" width="8.2" height="3.5" fill="#2ca02c"/>
<rect x="968.3" y="1706.1" width="8.2" height="3.5" fill="#ff7f0e"/>
<rect x="968.3" y="1709.6" width="8.2" height="3.5" fill="#2ca02c"/>
<rect x="968.3" y="1713.1" width="8.2" height="3.5" fill="#ff7f0e"/>
<rect x="968.3" y="1716.5" width="8.2" height="3.5" fill="#2ca02c"/>
<rect x="968.3" y="1720" width="8.2" height="27" fill="#ff7f0e"/>
<rect x="968.3" y="1747" width="8.2" height="210" fill="#2ca02c"/>
</g>
<text x="1057.5" y="1468" font-size="24" text-anchor="middle">YN</text>
<text x="1221.5" y="1470" font-size="24" text-anchor="middle">Admixture</text>
<text x="1323" y="1468" font-size="24" text-anchor="middle">VN</text>
<text x="1503.5" y="1467" font-size="24" text-anchor="middle">SC</text>
<text x="957.3" y="1543" font-size="24" text-anchor="middle" transform="rotate(-90 957.3 1543)">YN</text>
<text x="957.3" y="1655" font-size="24" text-anchor="middle" transform="rotate(-90 957.3 1655)">Hybrids</text>
<text x="957.3" y="1738" font-size="24" text-anchor="middle" transform="rotate(-90 957.3 1738)">VN</text>
<text x="957.3" y="1865" font-size="24" text-anchor="middle" transform="rotate(-90 957.3 1865)">SC</text>
<linearGradient id="cb" x1="0" y1="0" x2="0" y2="1"><stop offset="0%" stop-color="#d73027"/><stop offset="16.7%" stop-color="#fc8d59"/><stop offset="33.3%" stop-color="#fee090"/><stop offset="50%" stop-color="#ffffbf"/><stop offset="66.7%" stop-color="#e0f3f8"/><stop offset="83.3%" stop-color="#91bfdb"/><stop offset="100%" stop-color="#4575b4"/></linearGradient>
<rect x="1673.8" y="1499" width="16.4" height="243.8" fill="url(#cb)"/>
<text x="1698.5" y="1749" font-size="25">0</text>
<text x="1698.5" y="1695" font-size="25">2</text>
<text x="1698.5" y="1641" font-size="25">4</text>
<text x="1698.5" y="1587" font-size="25">6</text>
<text x="1698.5" y="1533" font-size="25">8</text>
<text x="1745" y="1619" font-size="24" text-anchor="middle" transform="rotate(-90 1745 1619)">IBD length, (log(bp))</text>
</svg>
</body></html>
